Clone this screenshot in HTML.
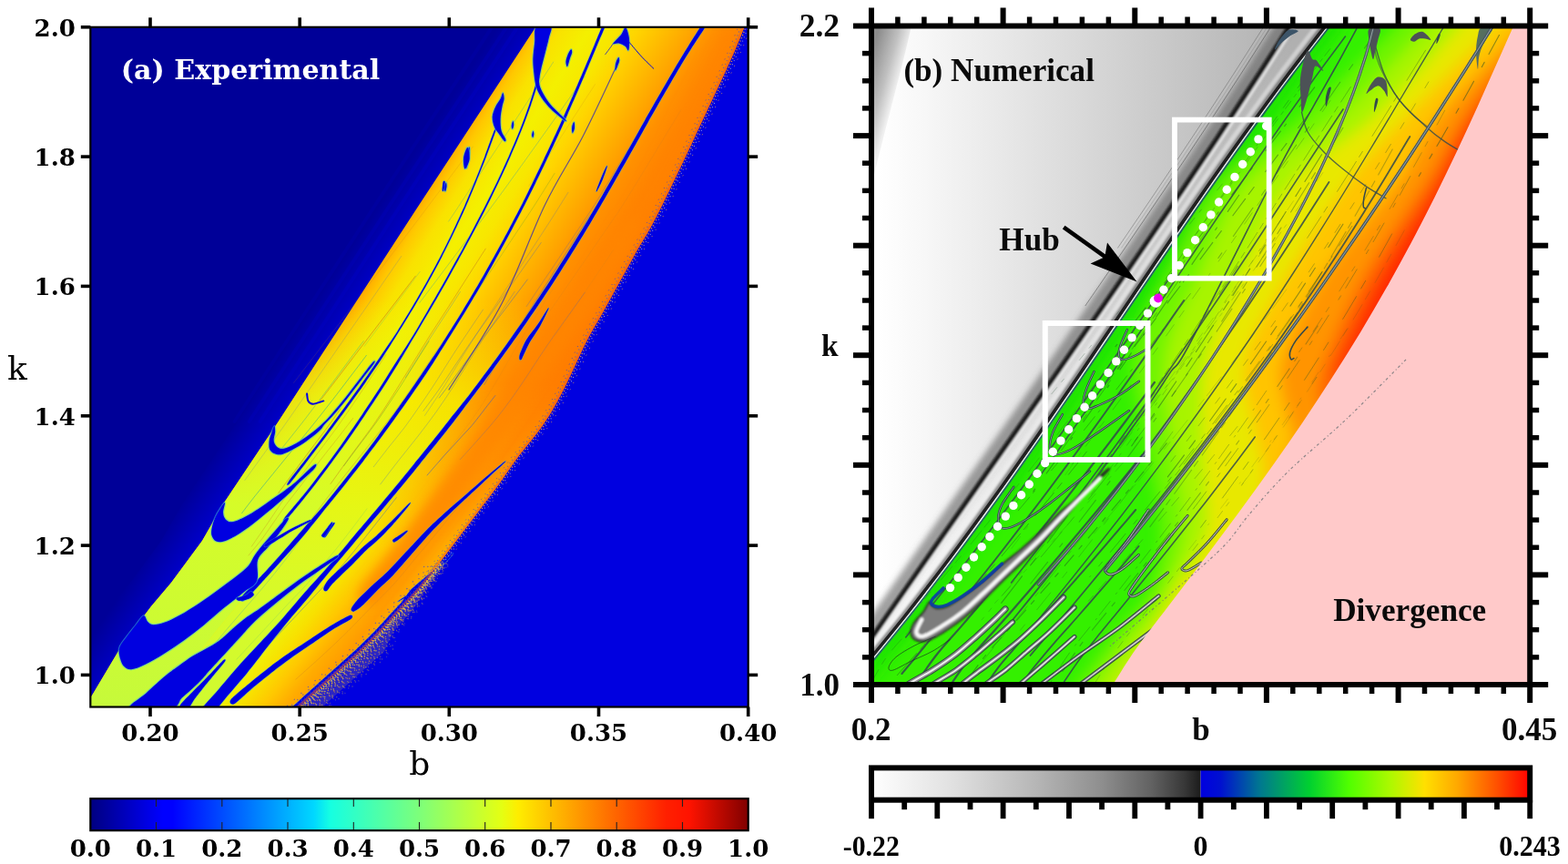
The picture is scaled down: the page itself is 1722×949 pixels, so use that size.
<!DOCTYPE html>
<html lang="en"><head><meta charset="utf-8"><title>Experimental vs Numerical</title>
<style>
html,body{margin:0;padding:0;background:#fff;}
body{width:1722px;height:949px;overflow:hidden;}
svg{display:block;}
text{font-kerning:normal;}
.dj{font-family:"DejaVu Serif","Liberation Serif",serif;font-weight:bold;font-size:26px;fill:#000;}
.djr{font-family:"DejaVu Serif","Liberation Serif",serif;font-weight:normal;font-size:36px;fill:#000;}
.lb{font-family:"Liberation Serif","DejaVu Serif",serif;font-weight:bold;font-size:35px;fill:#0a0a0a;}
.lb2{font-family:"Liberation Serif","DejaVu Serif",serif;font-weight:bold;font-size:32px;fill:#000;}
</style></head>
<body>
<svg width="1722" height="949" viewBox="0 0 1722 949">
<defs>
<linearGradient id="jet" x1="0" x2="1" y1="0" y2="0">
<stop offset="0" stop-color="#000080"/>
<stop offset="0.11" stop-color="#0000ff"/>
<stop offset="0.125" stop-color="#0000ff"/>
<stop offset="0.34" stop-color="#00d8ff"/>
<stop offset="0.365" stop-color="#16ffe1"/>
<stop offset="0.5" stop-color="#7dff7a"/>
<stop offset="0.625" stop-color="#e4ff13"/>
<stop offset="0.65" stop-color="#feed00"/>
<stop offset="0.875" stop-color="#ff2000"/>
<stop offset="0.91" stop-color="#ff1300"/>
<stop offset="1" stop-color="#800000"/>
</linearGradient>
<linearGradient id="gray" x1="0" x2="1" y1="0" y2="0">
<stop offset="0" stop-color="#ffffff"/>
<stop offset="0.25" stop-color="#e0e0e0"/>
<stop offset="0.5" stop-color="#b6b6b6"/>
<stop offset="0.7" stop-color="#8e8e8e"/>
<stop offset="0.85" stop-color="#626262"/>
<stop offset="0.95" stop-color="#383838"/>
<stop offset="1" stop-color="#1c1c1c"/>
</linearGradient>
<linearGradient id="rain" x1="0" x2="1" y1="0" y2="0">
<stop offset="0" stop-color="#0000e0"/>
<stop offset="0.06" stop-color="#0010d0"/>
<stop offset="0.18" stop-color="#007890"/>
<stop offset="0.33" stop-color="#00d030"/>
<stop offset="0.45" stop-color="#50ff00"/>
<stop offset="0.58" stop-color="#b0f800"/>
<stop offset="0.68" stop-color="#ffe000"/>
<stop offset="0.78" stop-color="#ffa800"/>
<stop offset="0.9" stop-color="#ff5000"/>
<stop offset="1" stop-color="#ff0000"/>
</linearGradient>
<clipPath id="lclip"><rect x="99.3" y="29.8" width="722.4" height="746.7"/></clipPath>
<clipPath id="rclip"><rect x="957" y="28.5" width="723.2" height="723.5"/></clipPath>
<!-- left zones -->
<linearGradient id="zl" gradientUnits="userSpaceOnUse" x1="460" y1="226" x2="675" y2="361">
<stop offset="0" stop-color="#ffb000"/>
<stop offset="0.04" stop-color="#ffc800"/>
<stop offset="0.11" stop-color="#f9e200"/>
<stop offset="0.22" stop-color="#f4f000"/>
<stop offset="0.32" stop-color="#f8e600"/>
<stop offset="0.40" stop-color="#ffd400"/>
<stop offset="0.50" stop-color="#ffbc00"/>
<stop offset="0.60" stop-color="#ffa400"/>
<stop offset="0.68" stop-color="#ff9000"/>
<stop offset="0.80" stop-color="#ff8200"/>
<stop offset="1" stop-color="#ff7a00"/>
</linearGradient>
<linearGradient id="zgreen" gradientUnits="userSpaceOnUse" x1="0" y1="330" x2="0" y2="776">
<stop offset="0" stop-color="#e6f814" stop-opacity="0"/>
<stop offset="0.25" stop-color="#e2fa18" stop-opacity="0.7"/>
<stop offset="0.5" stop-color="#d6fc28" stop-opacity="1"/>
<stop offset="1" stop-color="#c6fa3a" stop-opacity="1"/>
</linearGradient>
<linearGradient id="zmid" gradientUnits="userSpaceOnUse" x1="0" y1="330" x2="0" y2="776">
<stop offset="0" stop-color="#f6ec00" stop-opacity="0"/>
<stop offset="0.25" stop-color="#f4f000" stop-opacity="0.8"/>
<stop offset="0.5" stop-color="#e6f614" stop-opacity="1"/>
<stop offset="0.7" stop-color="#d8fa28" stop-opacity="1"/>
<stop offset="1" stop-color="#d0fa30" stop-opacity="1"/>
</linearGradient>
<linearGradient id="zr" gradientUnits="userSpaceOnUse" x1="357" y1="628" x2="431" y2="686">
<stop offset="0" stop-color="#f0f008"/>
<stop offset="0.2" stop-color="#f8e000"/>
<stop offset="0.4" stop-color="#ffc800"/>
<stop offset="0.6" stop-color="#ffac00"/>
<stop offset="0.8" stop-color="#ff9c00"/>
<stop offset="1" stop-color="#ffb400"/>
</linearGradient>
<linearGradient id="zrfade" gradientUnits="userSpaceOnUse" x1="0" y1="420" x2="0" y2="600">
<stop offset="0" stop-color="#fff" stop-opacity="0"/>
<stop offset="1" stop-color="#fff" stop-opacity="1"/>
</linearGradient>
<mask id="zrmask" maskUnits="userSpaceOnUse" x="90" y="20" width="740" height="770">
<rect x="90" y="20" width="740" height="770" fill="url(#zrfade)"/>
</mask>
<linearGradient id="lstrip" gradientUnits="userSpaceOnUse" x1="300" y1="400" x2="345" y2="430">
<stop offset="0" stop-color="#0000d8" stop-opacity="0"/>
<stop offset="1" stop-color="#0000d8" stop-opacity="1"/>
</linearGradient>
<filter id="blur3" x="-10%" y="-10%" width="120%" height="120%"><feGaussianBlur stdDeviation="3"/></filter>
<filter id="blur6" x="-10%" y="-10%" width="120%" height="120%"><feGaussianBlur stdDeviation="6"/></filter>
<!-- right -->
<filter id="blur8" filterUnits="userSpaceOnUse" x="900" y="-30" width="860" height="840"><feGaussianBlur stdDeviation="8"/></filter>
<filter id="blur1" x="-10%" y="-10%" width="120%" height="120%"><feGaussianBlur stdDeviation="1.2"/></filter>
<linearGradient id="rbg" gradientUnits="userSpaceOnUse" x1="965" y1="0" x2="1420" y2="0">
<stop offset="0" stop-color="#ffffff"/>
<stop offset="0.1" stop-color="#f8f8f8"/>
<stop offset="0.3" stop-color="#e8e8e8"/>
<stop offset="0.5" stop-color="#d8d8d8"/>
<stop offset="0.7" stop-color="#c8c8c8"/>
<stop offset="0.85" stop-color="#bcbcbc"/>
<stop offset="1" stop-color="#b0b0b0"/>
</linearGradient>
<linearGradient id="rwedge" gradientUnits="userSpaceOnUse" x1="957" y1="60" x2="992" y2="70">
<stop offset="0" stop-color="#8c8c8c"/>
<stop offset="0.6" stop-color="#c0c0c0"/>
<stop offset="1" stop-color="#f0f0f0"/>
</linearGradient>
<linearGradient id="rband" gradientUnits="userSpaceOnUse" x1="1308" y1="235" x2="1480.8" y2="355.9">
<stop offset="0" stop-color="#18e400"/>
<stop offset="0.05" stop-color="#30f000"/>
<stop offset="0.15" stop-color="#50f400"/>
<stop offset="0.3" stop-color="#90f400"/>
<stop offset="0.45" stop-color="#c8f000"/>
<stop offset="0.56" stop-color="#f0e800"/>
<stop offset="0.66" stop-color="#ffc800"/>
<stop offset="0.78" stop-color="#ff9800"/>
<stop offset="0.88" stop-color="#ff6000"/>
<stop offset="0.96" stop-color="#ff2800"/>
<stop offset="1" stop-color="#ff2000"/>
</linearGradient>
<linearGradient id="rband2" gradientUnits="userSpaceOnUse" x1="1018" y1="650" x2="1196" y2="783">
<stop offset="0" stop-color="#20e800"/>
<stop offset="0.08" stop-color="#38f000"/>
<stop offset="0.78" stop-color="#50f000"/>
<stop offset="0.9" stop-color="#98f400"/>
<stop offset="1" stop-color="#dcec00"/>
</linearGradient>
<linearGradient id="rbfade" gradientUnits="userSpaceOnUse" x1="0" y1="360" x2="0" y2="620">
<stop offset="0" stop-color="#fff" stop-opacity="0"/>
<stop offset="1" stop-color="#fff" stop-opacity="1"/>
</linearGradient>
<mask id="rbmask" maskUnits="userSpaceOnUse" x="940" y="10" width="770" height="760">
<rect x="940" y="10" width="770" height="760" fill="url(#rbfade)"/>
</mask>
</defs>

<g id="left-map" clip-path="url(#lclip)">
<rect x="99.3" y="29.8" width="722.4000000000001" height="746.7" fill="#000098"/>
<path d="M550.5,19.0 L543.8,29.0 L412.0,230.0 L325.0,364.0 L308.0,390.0 L260.7,463.0 L234.6,502.0 L200.5,553.0 L177.0,594.0 L143.0,640.0 L121.0,666.0 L88.7,709.0 L56.5,763.0 L47.0,778.0 L95.0,778.0 L104.5,763.0 L136.7,709.0 L169.0,666.0 L191.0,640.0 L225.0,594.0 L248.5,553.0 L282.6,502.0 L308.7,463.0 L356.0,390.0 L373.0,364.0 L460.0,230.0 L591.8,29.0 L598.5,19.0Z" fill="url(#lstrip)"/>
<path d="M595.5,19.0 L588.8,29.0 L457.0,230.0 L370.0,364.0 L353.0,390.0 L305.7,463.0 L279.6,502.0 L245.5,553.0 L222.0,594.0 L188.0,640.0 L166.0,666.0 L133.7,709.0 L101.5,763.0 L92.0,778.0 L318.0,790.0 L830.0,790.0 L830.0,19.0Z" fill="url(#zl)"/>
<path d="M595.5,19.0 L588.8,29.0 L457.0,230.0 L370.0,364.0 L353.0,390.0 L305.7,463.0 L279.6,502.0 L245.5,553.0 L222.0,594.0 L188.0,640.0 L166.0,666.0 L133.7,709.0 L101.5,763.0 L92.0,778.0 L160.0,790.0 L200.0,740.0 L240.0,690.0 L267.2,657.3 L291.0,632.0 L313.9,606.6 L336.0,581.3 L357.2,556.0 L377.7,530.6 L397.5,505.3 L416.6,480.0 L435.0,454.6 L452.8,429.3 L470.0,404.0 L486.5,378.6 L502.4,353.3 L517.8,328.0 L532.6,302.7 L546.8,277.3 L560.5,252.0 L573.7,226.7 L586.3,201.3 L598.5,176.0 L610.3,150.7 L621.8,125.3 L632.9,100.0 L643.7,74.7 L654.4,49.3 L665.0,24.0Z" fill="url(#zgreen)"/>
<path d="M665.0,24.0 L654.4,49.3 L643.7,74.7 L632.9,100.0 L621.8,125.3 L610.3,150.7 L598.5,176.0 L586.3,201.3 L573.7,226.7 L560.5,252.0 L546.8,277.3 L532.6,302.7 L517.8,328.0 L502.4,353.3 L486.5,378.6 L470.0,404.0 L452.8,429.3 L435.0,454.6 L416.6,480.0 L397.5,505.3 L377.7,530.6 L357.2,556.0 L336.0,581.3 L313.9,606.6 L291.0,632.0 L267.2,657.3 L240.0,690.0 L200.0,740.0 L160.0,790.0 L220.0,790.0 L220.2,790.0 L243.4,762.6 L266.7,735.3 L290.1,707.9 L313.5,680.6 L337.0,653.2 L360.4,625.9 L383.8,598.5 L406.9,571.1 L429.8,543.8 L452.4,516.4 L474.5,489.1 L496.2,461.7 L517.4,434.4 L537.9,407.0 L557.8,379.6 L577.0,352.3 L595.6,324.9 L613.4,297.6 L630.6,270.2 L647.2,242.9 L663.3,215.5 L679.0,188.1 L694.5,160.8 L709.8,133.4 L725.4,106.1 L741.3,78.7 L757.9,51.4 L775.6,24.0Z" fill="url(#zmid)"/>
<path d="M775.6,24.0 L757.9,51.4 L741.3,78.7 L725.4,106.1 L709.8,133.4 L694.5,160.8 L679.0,188.1 L663.3,215.5 L647.2,242.9 L630.6,270.2 L613.4,297.6 L595.6,324.9 L577.0,352.3 L557.8,379.6 L537.9,407.0 L517.4,434.4 L496.2,461.7 L474.5,489.1 L452.4,516.4 L429.8,543.8 L406.9,571.1 L383.8,598.5 L360.4,625.9 L337.0,653.2 L313.5,680.6 L290.1,707.9 L266.7,735.3 L243.4,762.6 L220.2,790.0 L318.0,790.0 L830.0,790.0 L830.0,19.0Z" fill="url(#zr)" mask="url(#zrmask)"/>
<g filter="url(#blur6)">
<path d="M690.0,250.0C681.7,263.3 656.7,305.0 640.0,330.0C623.3,355.0 607.3,375.0 590.0,400.0C572.7,425.0 552.7,455.8 536.0,480.0C519.3,504.2 504.3,525.0 490.0,545.0C475.7,565.0 463.8,582.2 450.0,600.0C436.2,617.8 414.2,643.3 407.0,652.0" fill="none" stroke="#ff8600" stroke-width="26" stroke-opacity="0.75" stroke-linecap="round"/>
<path d="M800.0,40.0C793.3,53.3 772.5,95.0 760.0,120.0C747.5,145.0 736.7,168.3 725.0,190.0C713.3,211.7 695.8,240.0 690.0,250.0" fill="none" stroke="#ff8400" stroke-width="22" stroke-opacity="0.5" stroke-linecap="round"/>
</g>
<path d="M495.5,362.3C491.9,367.4 481.3,382.8 474.3,393.1C467.4,403.3 460.8,413.6 453.7,423.9C446.6,434.1 439.5,444.4 431.9,454.7C424.2,464.9 416.0,475.2 407.9,485.5C399.8,495.7 391.5,506.0 383.4,516.3C375.3,526.5 367.0,536.8 359.2,547.0C351.3,557.3 344.0,567.6 336.2,577.8C328.3,588.1 316.1,603.5 312.0,608.6" fill="none" stroke="#c07820" stroke-width="1.0" stroke-opacity="0.3569706093922116" stroke-linecap="round"/>
<path d="M607.5,316.9C604.9,320.9 597.5,332.8 592.4,340.7C587.4,348.7 582.2,356.6 577.3,364.5C572.4,372.5 567.5,380.4 562.8,388.4C558.1,396.3 553.7,404.2 549.1,412.2C544.4,420.1 539.8,428.0 534.8,436.0C529.8,443.9 524.8,451.9 519.2,459.8C513.5,467.7 507.1,475.7 500.9,483.6C494.7,491.5 485.2,503.5 482.1,507.4" fill="none" stroke="#d08020" stroke-width="0.6" stroke-opacity="0.32720116124755183" stroke-linecap="round"/>
<path d="M543.9,434.5C542.5,436.3 538.2,441.8 535.4,445.4C532.6,449.0 529.8,452.7 527.0,456.3C524.1,460.0 521.4,463.6 518.3,467.3C515.2,470.9 511.6,474.6 508.2,478.2C504.9,481.9 501.5,485.5 498.2,489.2C494.8,492.8 491.4,496.5 488.1,500.1C484.8,503.8 481.7,507.4 478.5,511.1C475.4,514.7 470.7,520.2 469.1,522.0" fill="none" stroke="#3050d0" stroke-width="1.0" stroke-opacity="0.4846688113735712" stroke-linecap="round"/>
<path d="M607.7,68.1C605.3,71.7 598.2,82.7 593.5,90.0C588.7,97.3 583.9,104.6 579.2,111.9C574.4,119.2 569.6,126.5 564.8,133.8C560.0,141.1 555.3,148.4 550.5,155.7C545.7,163.0 540.9,170.2 536.1,177.5C531.3,184.8 526.5,192.1 521.7,199.4C516.9,206.7 512.1,214.0 507.2,221.3C502.4,228.6 495.1,239.6 492.6,243.2" fill="none" stroke="#2090c0" stroke-width="0.6" stroke-opacity="0.4798854254858551" stroke-linecap="round"/>
<path d="M648.1,236.2C645.6,240.1 638.2,251.7 633.3,259.5C628.3,267.3 623.4,275.0 618.5,282.8C613.6,290.6 608.6,298.3 603.7,306.1C598.8,313.9 593.9,321.6 588.9,329.4C584.0,337.2 579.0,344.9 574.1,352.7C569.1,360.4 563.9,368.2 559.1,376.0C554.3,383.7 550.0,391.5 545.4,399.3C540.9,407.0 534.1,418.7 531.8,422.6" fill="none" stroke="#3050d0" stroke-width="0.8" stroke-opacity="0.4499319456620375" stroke-linecap="round"/>
<path d="M579.3,307.0C577.3,309.7 571.2,317.8 567.1,323.2C563.0,328.6 558.9,334.1 554.8,339.5C550.7,344.9 546.5,350.3 542.4,355.7C538.3,361.2 534.0,366.6 530.0,372.0C525.9,377.4 522.0,382.8 518.1,388.3C514.1,393.7 510.2,399.1 506.3,404.5C502.4,409.9 498.6,415.3 494.6,420.8C490.6,426.2 484.4,434.3 482.3,437.0" fill="none" stroke="#1a50e0" stroke-width="1.0" stroke-opacity="0.37619842286842436" stroke-linecap="round"/>
<path d="M584.8,337.0C583.6,338.7 579.9,344.1 577.4,347.6C575.0,351.2 572.5,354.7 570.0,358.3C567.6,361.9 565.1,365.4 562.6,369.0C560.2,372.5 557.8,376.1 555.4,379.6C553.1,383.2 550.9,386.7 548.6,390.3C546.3,393.9 544.0,397.4 541.8,401.0C539.5,404.5 537.2,408.1 534.9,411.6C532.7,415.2 529.2,420.5 528.1,422.3" fill="none" stroke="#d08020" stroke-width="0.6" stroke-opacity="0.5539750865643536" stroke-linecap="round"/>
<path d="M340.6,577.3C337.6,581.5 329.2,593.9 323.0,602.2C316.9,610.5 310.5,618.7 303.8,627.0C297.2,635.3 290.3,643.6 283.3,651.8C276.2,660.1 268.7,668.4 261.6,676.7C254.4,684.9 247.4,693.2 240.5,701.5C233.6,709.8 226.9,718.1 220.1,726.3C213.3,734.6 206.6,742.9 199.9,751.2C193.1,759.4 182.9,771.9 179.6,776.0" fill="none" stroke="#2090c0" stroke-width="0.6" stroke-opacity="0.4409961828040999" stroke-linecap="round"/>
<path d="M673.6,274.6C672.3,276.5 668.3,282.4 665.7,286.3C663.1,290.1 660.5,294.0 657.9,297.9C655.2,301.8 652.6,305.7 650.0,309.5C647.4,313.4 644.7,317.3 642.1,321.2C639.5,325.1 636.8,328.9 634.2,332.8C631.6,336.7 628.9,340.6 626.3,344.5C623.6,348.4 620.9,352.2 618.3,356.1C615.6,360.0 611.6,365.8 610.3,367.8" fill="none" stroke="#d08020" stroke-width="0.6" stroke-opacity="0.3933628886921382" stroke-linecap="round"/>
<path d="M440.8,281.4C437.3,286.6 426.7,301.9 419.6,312.2C412.6,322.4 405.5,332.7 398.4,343.0C391.3,353.2 384.2,363.5 377.1,373.7C370.0,384.0 362.9,394.2 355.8,404.5C348.7,414.7 341.7,425.0 334.6,435.2C327.5,445.5 320.4,455.8 313.2,466.0C305.9,476.3 298.4,486.5 291.0,496.8C283.6,507.0 272.6,522.4 268.9,527.5" fill="none" stroke="#1a50e0" stroke-width="0.6" stroke-opacity="0.317968020882323" stroke-linecap="round"/>
<path d="M694.8,155.9C692.6,159.7 685.7,171.0 681.2,178.5C676.6,186.1 672.1,193.6 667.5,201.1C662.9,208.6 658.5,216.2 653.7,223.7C648.9,231.2 643.8,238.8 638.8,246.3C633.7,253.8 628.7,261.3 623.6,268.9C618.6,276.4 613.5,283.9 608.5,291.5C603.4,299.0 598.4,306.5 593.3,314.0C588.3,321.6 580.7,332.9 578.2,336.6" fill="none" stroke="#3050d0" stroke-width="0.6" stroke-opacity="0.4257691487156937" stroke-linecap="round"/>
<path d="M533.3,273.2C529.8,278.6 519.5,294.7 512.6,305.5C505.8,316.3 498.9,327.0 492.0,337.8C485.1,348.5 478.0,359.3 471.2,370.0C464.4,380.8 457.8,391.6 451.2,402.3C444.5,413.1 438.0,423.8 431.2,434.6C424.3,445.4 417.5,456.1 410.0,466.9C402.5,477.6 394.0,488.4 386.2,499.2C378.3,509.9 367.0,526.1 363.1,531.4" fill="none" stroke="#c07820" stroke-width="0.8" stroke-opacity="0.5993711156059767" stroke-linecap="round"/>
<path d="M519.3,161.1C515.2,166.5 503.1,182.8 495.0,193.6C486.9,204.4 478.8,215.2 470.6,226.0C462.5,236.8 454.3,247.6 446.2,258.4C438.0,269.2 429.9,280.0 421.7,290.8C413.5,301.6 405.3,312.4 397.1,323.2C388.9,334.0 380.7,344.8 372.4,355.6C364.2,366.4 355.8,377.2 347.5,388.0C339.2,398.8 326.8,415.0 322.6,420.4" fill="none" stroke="#c07820" stroke-width="0.6" stroke-opacity="0.3126323461293467" stroke-linecap="round"/>
<path d="M461.2,298.4C459.9,300.1 456.1,305.2 453.6,308.6C451.1,312.1 448.5,315.5 446.0,318.9C443.5,322.3 440.9,325.7 438.4,329.1C435.9,332.5 433.3,335.9 430.8,339.3C428.2,342.7 425.7,346.1 423.1,349.5C420.6,352.9 418.0,356.3 415.5,359.7C412.9,363.1 410.4,366.5 407.8,369.9C405.3,373.3 401.4,378.5 400.2,380.2" fill="none" stroke="#38a890" stroke-width="0.8" stroke-opacity="0.32201956601652726" stroke-linecap="round"/>
<path d="M399.2,374.7C397.2,377.3 391.5,385.0 387.6,390.1C383.8,395.3 380.0,400.5 376.1,405.6C372.3,410.8 368.5,415.9 364.6,421.1C360.8,426.2 356.9,431.4 353.0,436.5C349.1,441.7 345.2,446.9 341.3,452.0C337.4,457.2 333.5,462.3 329.4,467.5C325.4,472.6 321.2,477.8 317.1,483.0C313.0,488.1 306.9,495.8 304.8,498.4" fill="none" stroke="#38a890" stroke-width="1.0" stroke-opacity="0.4359624314171547" stroke-linecap="round"/>
<path d="M642.3,321.2C639.6,325.0 631.4,336.5 626.0,344.1C620.5,351.8 614.8,359.4 609.5,367.1C604.1,374.7 598.9,382.4 593.8,390.0C588.7,397.6 583.9,405.3 578.8,412.9C573.7,420.6 568.6,428.2 563.1,435.9C557.6,443.5 552.1,451.1 545.9,458.8C539.7,466.4 532.9,474.1 526.1,481.7C519.4,489.3 508.9,500.8 505.4,504.6" fill="none" stroke="#3050d0" stroke-width="0.6" stroke-opacity="0.3932433863917523" stroke-linecap="round"/>
<path d="M423.9,389.6C421.0,394.0 412.4,407.2 406.6,416.0C400.7,424.7 394.9,433.5 388.9,442.3C382.9,451.1 377.0,459.8 370.7,468.6C364.4,477.4 357.5,486.2 351.0,494.9C344.5,503.7 338.2,512.5 331.7,521.2C325.3,530.0 318.6,538.8 312.4,547.6C306.2,556.3 300.5,565.1 294.5,573.9C288.5,582.7 279.3,595.8 276.3,600.2" fill="none" stroke="#c07820" stroke-width="0.6" stroke-opacity="0.5060922010618504" stroke-linecap="round"/>
<path d="M505.4,320.6C504.1,322.5 500.3,328.4 497.8,332.3C495.2,336.2 492.7,340.2 490.2,344.1C487.6,348.0 485.1,351.9 482.5,355.9C480.0,359.8 477.4,363.7 474.9,367.6C472.3,371.5 469.8,375.5 467.3,379.4C464.8,383.3 462.4,387.2 460.0,391.2C457.6,395.1 455.1,399.0 452.7,402.9C450.3,406.8 446.6,412.7 445.4,414.7" fill="none" stroke="#1a50e0" stroke-width="0.6" stroke-opacity="0.453706747955117" stroke-linecap="round"/>
<path d="M387.6,459.5C385.2,462.6 378.0,472.0 373.2,478.3C368.3,484.6 363.2,490.9 358.3,497.1C353.4,503.4 348.6,509.7 343.8,515.9C339.0,522.2 334.2,528.5 329.3,534.8C324.5,541.0 319.4,547.3 314.7,553.6C310.1,559.8 305.9,566.1 301.5,572.4C297.1,578.6 293.0,584.9 288.3,591.2C283.5,597.5 275.6,606.9 273.0,610.0" fill="none" stroke="#c07820" stroke-width="0.8" stroke-opacity="0.3880306039454211" stroke-linecap="round"/>
<path d="M374.0,449.0C372.6,450.9 368.7,456.7 365.9,460.5C363.2,464.4 360.3,468.2 357.5,472.1C354.6,475.9 351.7,479.8 348.8,483.6C345.9,487.5 343.0,491.3 340.1,495.2C337.2,499.0 334.3,502.9 331.5,506.7C328.6,510.6 325.8,514.4 323.0,518.3C320.1,522.1 317.3,526.0 314.4,529.8C311.6,533.7 307.3,539.4 305.8,541.4" fill="none" stroke="#c07820" stroke-width="1.0" stroke-opacity="0.5557199626025644" stroke-linecap="round"/>
<path d="M624.0,211.3C620.7,216.4 611.3,231.7 604.7,242.0C598.2,252.2 591.4,262.4 584.8,272.6C578.2,282.8 571.5,293.0 564.9,303.2C558.3,313.5 551.7,323.7 545.0,333.9C538.3,344.1 531.5,354.3 524.9,364.5C518.4,374.7 512.0,384.9 505.6,395.2C499.3,405.4 493.4,415.6 486.8,425.8C480.3,436.0 469.9,451.3 466.5,456.4" fill="none" stroke="#1a50e0" stroke-width="0.6" stroke-opacity="0.3807581784086523" stroke-linecap="round"/>
<path d="M653.5,92.6C652.0,95.0 647.5,102.0 644.4,106.6C641.4,111.3 638.4,115.9 635.4,120.6C632.4,125.2 629.4,129.9 626.4,134.5C623.3,139.2 620.3,143.9 617.3,148.5C614.2,153.2 611.2,157.8 608.2,162.5C605.1,167.1 602.1,171.8 599.1,176.4C596.0,181.1 593.0,185.8 589.9,190.4C586.9,195.1 582.3,202.0 580.8,204.4" fill="none" stroke="#c07820" stroke-width="0.6" stroke-opacity="0.32765763706448336" stroke-linecap="round"/>
<path d="M456.3,303.2C454.1,306.1 447.4,314.8 443.0,320.6C438.6,326.4 434.1,332.3 429.7,338.1C425.3,343.9 420.8,349.7 416.3,355.5C411.9,361.3 407.4,367.2 402.9,373.0C398.5,378.8 394.0,384.6 389.6,390.4C385.2,396.2 380.8,402.1 376.3,407.9C371.9,413.7 367.5,419.5 363.0,425.3C358.6,431.1 351.8,439.9 349.5,442.8" fill="none" stroke="#c07820" stroke-width="1.0" stroke-opacity="0.5840562950231445" stroke-linecap="round"/>
<path d="M403.0,558.7C400.4,562.2 392.7,572.5 387.5,579.4C382.2,586.3 377.0,593.2 371.5,600.1C365.9,607.0 360.0,613.9 354.3,620.8C348.6,627.7 343.4,634.6 337.2,641.5C331.1,648.4 323.9,655.3 317.4,662.2C310.9,669.0 304.7,675.9 298.3,682.8C291.9,689.7 285.5,696.6 279.1,703.5C272.7,710.4 263.1,720.8 259.9,724.2" fill="none" stroke="#38a890" stroke-width="0.6" stroke-opacity="0.3063777534627304" stroke-linecap="round"/>
<path d="M565.1,320.4C562.2,324.8 553.4,338.0 547.6,346.8C541.7,355.7 535.6,364.5 529.9,373.3C524.2,382.1 518.8,390.9 513.3,399.7C507.7,408.5 502.5,417.3 496.8,426.2C491.0,435.0 485.1,443.8 478.9,452.6C472.6,461.4 465.9,470.2 459.1,479.0C452.3,487.8 444.9,496.6 438.0,505.5C431.1,514.3 421.1,527.5 417.8,531.9" fill="none" stroke="#1a50e0" stroke-width="0.6" stroke-opacity="0.4359272283600912" stroke-linecap="round"/>
<path d="M642.1,84.0C638.4,89.2 627.5,104.7 620.2,115.1C612.9,125.4 605.5,135.8 598.2,146.1C590.8,156.5 583.4,166.9 576.0,177.2C568.5,187.6 561.1,197.9 553.6,208.3C546.1,218.6 538.5,229.0 530.8,239.3C523.1,249.7 515.3,260.0 507.5,270.4C499.8,280.8 492.0,291.1 484.2,301.5C476.4,311.8 464.7,327.4 460.8,332.5" fill="none" stroke="#2090c0" stroke-width="0.8" stroke-opacity="0.4055502289941761" stroke-linecap="round"/>
<path d="M435.4,546.5C431.6,551.2 420.4,565.6 412.9,575.1C405.3,584.7 397.9,594.3 390.1,603.8C382.2,613.4 374.5,623.0 366.1,632.5C357.6,642.1 348.3,651.7 339.4,661.2C330.4,670.8 321.5,680.4 312.4,689.9C303.3,699.5 294.1,709.0 284.8,718.6C275.5,728.2 266.0,737.7 256.7,747.3C247.3,756.9 233.4,771.2 228.8,776.0" fill="none" stroke="#1a50e0" stroke-width="0.8" stroke-opacity="0.4718422495153528" stroke-linecap="round"/>
<path d="M594.3,266.5C591.6,270.3 583.5,281.9 578.1,289.6C572.7,297.3 567.3,305.0 561.8,312.7C556.4,320.4 551.0,328.1 545.5,335.8C540.1,343.5 534.5,351.2 529.1,358.9C523.6,366.6 518.1,374.3 512.8,382.0C507.5,389.7 502.5,397.4 497.3,405.1C492.1,412.8 487.2,420.5 481.8,428.2C476.4,435.9 467.7,447.5 464.9,451.3" fill="none" stroke="#1a50e0" stroke-width="0.6" stroke-opacity="0.49182129379119055" stroke-linecap="round"/>
<path d="M520.8,535.1C517.2,539.5 506.2,552.7 499.0,561.5C491.8,570.3 484.7,579.1 477.5,587.9C470.2,596.7 462.8,605.4 455.4,614.2C448.1,623.0 441.4,631.8 433.4,640.6C425.4,649.4 416.1,658.2 407.5,667.0C399.0,675.8 390.8,684.6 382.0,693.4C373.1,702.2 363.8,711.0 354.2,719.8C344.7,728.6 329.7,741.8 324.8,746.2" fill="none" stroke="#d08020" stroke-width="0.8" stroke-opacity="0.4387866694592759" stroke-linecap="round"/>
<path d="M530.5,340.1C528.1,343.7 520.8,354.5 516.0,361.7C511.1,368.9 506.3,376.1 501.6,383.3C497.0,390.4 492.5,397.6 487.9,404.8C483.4,412.0 479.0,419.2 474.2,426.4C469.5,433.6 464.5,440.8 459.5,448.0C454.5,455.2 449.6,462.4 444.2,469.6C438.8,476.8 432.7,483.9 427.0,491.1C421.4,498.3 413.1,509.1 410.3,512.7" fill="none" stroke="#1a50e0" stroke-width="0.8" stroke-opacity="0.3066871990938968" stroke-linecap="round"/>
<path d="M747.7,121.0C744.9,125.5 736.6,139.3 731.0,148.5C725.5,157.7 719.9,166.9 714.3,176.1C708.7,185.2 703.1,194.4 697.4,203.6C691.7,212.8 686.1,222.0 680.1,231.2C674.0,240.3 667.5,249.5 661.1,258.7C654.8,267.9 648.5,277.1 642.2,286.3C635.8,295.4 629.5,304.6 623.2,313.8C616.9,323.0 607.3,336.8 604.1,341.3" fill="none" stroke="#d08020" stroke-width="0.6" stroke-opacity="0.4103854052000477" stroke-linecap="round"/>
<path d="M402.4,390.3C399.7,394.0 391.5,404.8 386.0,412.0C380.5,419.2 375.1,426.5 369.5,433.7C364.0,440.9 358.4,448.1 352.7,455.3C347.0,462.6 341.1,469.8 335.3,477.0C329.4,484.2 323.4,491.4 317.5,498.7C311.6,505.9 305.7,513.1 299.9,520.3C294.0,527.6 288.0,534.8 282.3,542.0C276.5,549.2 268.3,560.0 265.6,563.7" fill="none" stroke="#38a890" stroke-width="1.0" stroke-opacity="0.579090429340152" stroke-linecap="round"/>
<path d="M609.1,190.4C607.1,193.6 601.1,203.1 597.1,209.5C593.1,215.9 589.2,222.2 585.0,228.6C580.9,235.0 576.5,241.4 572.3,247.7C568.1,254.1 563.8,260.5 559.6,266.8C555.3,273.2 551.1,279.6 546.8,285.9C542.6,292.3 538.3,298.7 534.1,305.0C529.9,311.4 525.6,317.8 521.4,324.2C517.1,330.5 510.7,340.1 508.6,343.3" fill="none" stroke="#6a9a30" stroke-width="0.6" stroke-opacity="0.5640806754250585" stroke-linecap="round"/>
<path d="M471.1,374.9C469.3,377.7 463.8,386.3 460.2,392.0C456.6,397.7 453.0,403.4 449.4,409.1C445.8,414.8 442.3,420.5 438.6,426.2C434.9,431.9 431.1,437.7 427.2,443.4C423.4,449.1 419.7,454.8 415.7,460.5C411.7,466.2 407.4,471.9 403.2,477.6C398.9,483.3 394.5,489.0 390.2,494.7C385.9,500.4 379.6,509.0 377.5,511.8" fill="none" stroke="#6a9a30" stroke-width="0.8" stroke-opacity="0.5511286852411619" stroke-linecap="round"/>
<path d="M823.0,19.0C822.2,20.7 822.2,19.5 818.0,29.0C813.8,38.5 813.2,43.2 798.0,76.0C782.8,108.8 743.8,192.0 727.0,226.0C710.2,260.0 707.3,261.3 697.0,280.0C686.7,298.7 673.9,321.9 665.0,338.0C656.1,354.1 651.3,361.2 643.5,376.5C635.7,391.8 625.8,415.1 618.0,430.0C610.2,444.9 605.2,454.0 597.0,466.0C588.8,478.0 577.1,491.2 569.0,502.0C560.9,512.8 555.6,521.3 548.6,531.0C541.6,540.7 534.1,550.3 526.8,560.0C519.5,569.7 512.3,579.3 505.0,589.0C497.7,598.7 489.7,609.1 483.0,618.0C476.3,626.9 471.9,633.7 464.6,642.4C457.3,651.1 446.9,661.7 439.0,670.3C431.1,678.9 424.7,686.5 417.5,694.0C410.3,701.5 403.2,708.7 396.0,715.5C388.8,722.3 381.7,728.4 374.5,734.8C367.3,741.2 360.2,747.5 353.0,754.0C345.8,760.5 337.3,768.2 331.5,773.5C325.7,778.8 320.2,783.9 318.0,786.0 L830,790 L830,19 Z" fill="#0000e0"/>
<path d="M773.9,22.9C771.1,26.3 760.8,43.0 756.2,50.3C751.6,57.6 743.9,70.4 739.6,77.7C735.2,85.0 727.9,97.8 723.7,105.1C719.5,112.4 712.2,125.1 708.1,132.4C703.9,139.7 696.9,152.5 692.8,159.8C688.7,167.1 681.4,179.8 677.3,187.1C673.1,194.4 665.8,207.2 661.6,214.5C657.3,221.8 649.8,234.6 645.5,241.9C641.1,249.2 633.4,261.9 628.9,269.1C624.4,276.4 616.4,289.2 611.7,296.5C607.1,303.8 598.8,316.5 593.9,323.8C589.1,331.1 580.4,343.9 575.4,351.2C570.3,358.4 561.4,371.2 556.2,378.4C551.0,385.7 541.7,398.5 536.3,405.8C530.9,413.1 521.4,425.9 515.8,433.2C510.2,440.4 500.1,453.0 494.3,460.2C488.6,467.5 478.5,480.3 472.6,487.6C466.8,494.9 456.5,507.6 450.5,514.9C444.6,522.2 434.0,535.0 428.0,542.3C421.9,549.6 411.2,562.3 405.1,569.6C398.9,576.8 388.2,589.6 382.0,596.9C375.8,604.3 364.9,617.1 358.6,624.3C352.3,631.6 340.9,643.9 334.5,651.1C328.2,658.3 317.4,671.3 311.0,678.5C304.7,685.7 293.2,697.9 286.7,705.0C280.2,712.0 268.5,724.2 262.1,731.4C255.8,738.6 245.0,751.4 238.8,758.7C232.6,766.0 217.5,781.4 215.6,786.1C213.7,790.8 220.5,796.5 224.8,793.9C229.1,791.3 241.8,773.8 248.0,766.5C254.2,759.2 265.2,746.6 271.3,739.2C277.3,731.8 287.6,718.4 293.5,710.8C299.5,703.3 309.8,690.1 316.0,682.7C322.1,675.3 333.3,662.7 339.5,655.3C345.6,647.9 356.1,634.8 362.2,627.5C368.4,620.1 379.4,607.4 385.6,600.1C391.8,592.7 402.6,579.9 408.7,572.6C414.9,565.3 425.6,552.6 431.6,545.3C437.7,538.0 448.3,525.2 454.3,517.9C460.2,510.6 470.5,497.9 476.4,490.6C482.2,483.3 492.4,470.5 498.1,463.2C503.8,455.8 513.5,442.9 519.0,435.6C524.5,428.3 534.1,415.5 539.5,408.2C544.9,400.9 554.2,388.1 559.4,380.8C564.6,373.5 573.6,360.7 578.6,353.4C583.7,346.1 592.4,333.3 597.3,326.0C602.1,318.7 610.4,306.0 615.1,298.7C619.8,291.4 627.8,278.6 632.3,271.3C636.8,264.0 644.6,251.2 648.9,243.9C653.3,236.6 660.8,223.8 665.0,216.5C669.3,209.2 676.6,196.4 680.7,189.1C684.9,181.8 692.1,169.1 696.2,161.8C700.3,154.5 707.4,141.7 711.5,134.4C715.7,127.1 722.9,114.4 727.1,107.1C731.3,99.8 738.7,87.0 743.0,79.7C747.3,72.4 755.0,59.7 759.6,52.5C764.2,45.2 775.4,29.0 777.3,25.1C779.2,21.1 776.7,19.5 773.9,22.9Z" fill="#0000e0" stroke="#38b8d8" stroke-width="1.4" stroke-opacity="0.45" paint-order="stroke"/>
<path d="M663.7,23.5C662.0,26.7 655.9,42.0 653.1,48.8C650.3,55.5 645.3,67.4 642.4,74.2C639.5,80.9 634.5,92.7 631.6,99.4C628.7,106.2 623.5,118.0 620.5,124.7C617.5,131.5 612.1,143.4 609.0,150.1C605.9,156.9 600.4,168.7 597.2,175.4C594.0,182.1 588.3,193.9 585.0,200.7C581.7,207.4 575.9,219.3 572.5,226.1C569.0,232.8 562.8,244.6 559.3,251.3C555.7,258.1 549.3,269.9 545.6,276.6C541.9,283.4 535.2,295.3 531.4,302.0C527.5,308.8 520.6,320.5 516.6,327.3C512.6,334.0 505.4,345.8 501.2,352.6C497.0,359.3 489.7,371.1 485.3,377.8C481.0,384.6 473.0,396.3 468.5,403.0C464.0,409.7 456.0,421.5 451.3,428.3C446.7,435.0 438.4,446.8 433.5,453.6C428.7,460.3 420.1,472.2 415.2,478.9C410.2,485.7 401.3,497.5 396.1,504.2C390.9,510.9 381.7,522.7 376.3,529.5C370.9,536.2 361.4,548.2 355.8,554.9C350.2,561.5 339.9,573.0 334.1,579.7C328.3,586.4 318.0,598.2 312.0,604.9C306.0,611.7 295.4,623.6 289.2,630.3C282.9,637.1 268.1,651.8 265.4,655.6C262.7,659.4 265.4,661.9 269.0,659.0C272.7,656.1 286.6,640.5 292.8,633.7C299.1,626.9 309.8,615.0 315.8,608.3C321.8,601.5 332.2,589.7 337.9,582.9C343.6,576.1 353.1,564.0 358.6,557.1C364.1,550.3 373.7,538.5 379.1,531.7C384.5,525.0 393.7,513.2 398.9,506.4C404.1,499.6 413.0,487.8 418.0,481.1C423.1,474.3 431.6,462.4 436.5,455.6C441.3,448.9 449.6,437.1 454.3,430.3C459.0,423.6 467.0,411.8 471.5,405.0C476.0,398.2 483.4,386.1 487.7,379.4C492.0,372.6 499.4,360.8 503.6,354.0C507.8,347.3 515.0,335.5 519.0,328.7C523.0,322.0 529.9,310.2 533.8,303.4C537.7,296.6 544.3,284.7 548.0,278.0C551.7,271.2 558.1,259.4 561.7,252.7C565.3,245.9 571.5,234.1 574.9,227.3C578.4,220.6 584.2,208.7 587.6,201.9C590.9,195.2 596.6,183.4 599.8,176.6C603.0,169.8 608.5,158.0 611.6,151.3C614.7,144.5 620.1,132.6 623.1,125.9C626.1,119.1 631.3,107.3 634.2,100.6C637.1,93.8 642.1,82.0 645.0,75.2C647.9,68.5 652.9,56.6 655.7,49.8C658.5,43.1 665.2,28.1 666.3,24.5C667.4,21.0 665.5,20.2 663.7,23.5Z" fill="#0000e0" stroke="#38b8d8" stroke-width="1.4" stroke-opacity="0.45" paint-order="stroke"/>
<path d="M590.5,86.2C589.1,89.9 584.2,107.0 581.5,114.5C578.9,122.1 574.0,135.4 571.0,143.0C567.9,150.6 562.3,163.8 559.0,171.4C555.6,179.0 549.5,192.3 545.9,199.9C542.3,207.4 535.7,220.7 531.9,228.2C528.0,235.8 521.1,249.1 517.1,256.7C513.1,264.3 505.9,277.5 501.7,285.1C497.5,292.7 490.1,306.0 485.8,313.6C481.5,321.2 473.8,334.4 469.4,342.0C465.0,349.6 457.2,362.9 452.5,370.5C447.9,378.0 439.4,391.1 434.6,398.6C429.8,406.2 421.5,419.5 416.6,427.1C411.7,434.7 402.9,447.9 397.8,455.5C392.7,463.1 383.6,476.4 378.2,483.9C372.9,491.5 363.3,504.7 357.7,512.3C352.0,519.9 341.8,533.2 335.8,540.8C329.7,548.4 315.2,565.2 312.3,569.2C309.4,573.2 310.9,574.4 314.3,570.8C317.7,567.3 331.8,550.0 337.8,542.4C343.9,534.8 354.1,521.5 359.7,513.9C365.4,506.3 375.0,493.0 380.4,485.5C385.7,477.9 394.9,464.5 400.0,456.9C405.1,449.3 413.9,436.1 418.8,428.5C423.7,420.9 432.1,407.6 436.8,400.0C441.5,392.4 449.4,378.9 453.9,371.3C458.4,363.7 466.3,350.4 470.8,342.8C475.2,335.2 482.9,322.0 487.2,314.4C491.5,306.8 498.9,293.5 503.1,285.9C507.3,278.3 514.5,265.1 518.5,257.5C522.5,249.9 529.5,236.6 533.3,229.0C537.2,221.4 543.7,208.1 547.3,200.5C550.9,193.0 557.1,179.6 560.4,172.0C563.8,164.4 569.4,151.2 572.4,143.6C575.5,136.0 580.4,122.7 583.1,115.1C585.7,107.5 591.1,90.5 592.1,86.6C593.1,82.8 591.9,82.4 590.5,86.2Z" fill="#0000e0" stroke="#38b8d8" stroke-width="1.4" stroke-opacity="0.45" paint-order="stroke"/>
<path d="M542.7,143.8C541.2,147.4 535.4,164.0 532.6,171.4C529.8,178.7 524.8,191.5 521.8,198.8C518.8,206.2 513.4,219.1 510.2,226.4C506.9,233.8 501.0,246.6 497.5,254.0C494.0,261.4 487.7,274.2 483.9,281.6C480.1,288.9 473.2,301.7 469.1,309.1C465.0,316.4 457.6,329.3 453.2,336.6C448.8,344.0 441.0,356.9 436.3,364.2C431.6,371.5 422.9,384.1 417.9,391.4C412.9,398.7 404.2,411.7 399.0,419.0C393.9,426.4 384.6,439.2 379.2,446.6C373.9,453.9 364.3,466.8 358.8,474.2C353.3,481.5 343.6,494.3 337.9,501.7C332.3,509.0 319.2,525.4 316.7,529.3C314.1,533.1 315.5,534.2 318.5,530.7C321.6,527.2 334.2,510.5 339.9,503.1C345.5,495.8 355.3,483.0 360.8,475.6C366.3,468.3 375.8,455.4 381.2,448.0C386.5,440.6 395.8,427.8 401.0,420.4C406.1,413.0 415.0,400.2 419.9,392.8C424.8,385.4 432.9,372.4 437.5,365.0C442.1,357.6 450.0,344.7 454.4,337.4C458.8,330.0 466.2,317.1 470.3,309.7C474.4,302.4 481.3,289.6 485.1,282.2C488.9,274.9 495.2,262.0 498.7,254.6C502.2,247.2 508.2,234.3 511.4,227.0C514.7,219.6 520.0,206.7 523.0,199.4C526.0,192.0 531.2,179.2 534.0,171.8C536.8,164.5 542.9,148.0 544.1,144.2C545.2,140.5 544.3,140.1 542.7,143.8Z" fill="#0000e0" stroke="#38b8d8" stroke-width="1.4" stroke-opacity="0.45" paint-order="stroke"/>
<path d="M675.8,75.3C669.8,87.8 653.0,124.9 640.0,150.0C627.0,175.1 612.8,195.4 598.0,226.0C583.2,256.6 568.5,299.8 551.0,333.5C533.5,367.2 502.7,412.2 493.0,428.0" fill="none" stroke="#0000e0" stroke-width="1.2" stroke-opacity="0.6" stroke-linecap="round"/>
<path d="M131.1,719.7C130.4,716.3 130.2,714.1 131.5,710.7C132.9,707.3 136.1,703.5 139.1,699.5C142.0,695.5 146.1,690.5 149.2,686.6C152.3,682.8 155.6,677.0 157.8,676.3C159.9,675.7 160.4,681.1 162.1,682.8C163.8,684.4 164.9,686.1 168.1,686.2C171.3,686.3 175.3,685.8 181.0,683.6C186.7,681.4 195.3,677.0 202.5,672.9C209.7,668.8 216.8,664.0 224.0,659.1C231.2,654.2 239.0,648.2 245.5,643.4C251.9,638.7 258.0,634.3 262.7,630.5C267.4,626.8 270.5,624.4 273.4,620.8C276.4,617.3 277.1,613.6 280.2,609.3C283.2,604.9 287.9,599.3 291.8,594.7C295.7,590.1 299.8,585.8 303.4,581.6C307.1,577.5 311.4,571.8 313.6,570.0C315.8,568.2 317.7,568.1 316.5,570.7C315.3,573.4 310.0,581.0 306.3,586.0C302.7,591.0 298.6,595.7 294.7,600.5C290.8,605.4 285.2,608.8 283.1,615.1C281.0,621.3 284.7,632.1 282.0,638.0C279.4,644.0 273.1,645.9 267.0,650.9C260.9,656.0 252.7,662.2 245.5,668.1C238.3,674.1 231.2,680.6 224.0,686.4C216.8,692.2 209.7,697.8 202.5,703.0C195.3,708.2 188.2,713.1 181.0,717.6C173.8,722.1 165.6,726.9 159.5,729.8C153.4,732.8 148.4,734.9 144.4,735.2C140.5,735.5 138.1,734.1 135.8,731.6C133.6,729.0 131.8,723.2 131.1,719.7Z" fill="#0000e0" stroke="#38b8d8" stroke-width="2.2" stroke-opacity="0.55" stroke-linejoin="round" paint-order="stroke"/>
<path d="M275.8,649.4C274.6,649.5 272.2,652.7 270.4,653.5C268.6,654.4 263.9,655.6 262.5,656.0C261.1,656.4 260.4,656.0 260.1,656.3C259.7,656.6 259.2,657.7 259.6,658.2C260.0,658.7 261.2,660.0 263.0,660.0C264.7,660.0 270.4,659.0 272.5,658.1C274.6,657.2 278.3,654.6 278.8,653.4C279.2,652.3 276.9,649.4 275.8,649.4Z" fill="#0000e0" stroke="#38b8d8" stroke-width="1.4" stroke-opacity="0.45" paint-order="stroke"/>
<path d="M292.6,600.4C294.7,599.6 303.3,594.0 307.1,591.6C311.0,589.3 317.1,585.2 321.5,582.7C325.9,580.2 337.7,574.3 340.1,572.9C342.5,571.4 342.1,570.5 339.5,571.5C336.8,572.5 324.8,578.2 320.3,580.5C315.8,582.9 309.5,586.8 305.6,589.1C301.7,591.4 292.8,596.3 291.0,597.8C289.3,599.3 290.4,601.2 292.6,600.4Z" fill="#0000e0" stroke="#38b8d8" stroke-width="1.4" stroke-opacity="0.45" paint-order="stroke"/>
<path d="M247.0,552.2C247.5,552.9 245.0,560.1 245.1,563.1C245.2,566.1 246.1,568.7 247.7,570.4C249.4,572.1 251.3,573.7 255.0,573.3C258.6,572.8 264.7,569.9 269.5,567.4C274.4,565.0 279.2,561.9 284.1,558.7C288.9,555.6 293.8,551.9 298.6,548.5C303.5,545.1 308.8,541.5 313.2,538.4C317.5,535.2 319.5,534.2 324.8,529.6C330.1,525.0 341.6,513.1 345.0,510.7C348.4,508.3 347.9,511.7 345.0,515.1C342.1,518.5 332.0,526.8 327.7,531.1C323.4,535.3 322.6,537.0 319.0,540.5C315.3,544.1 310.5,548.2 305.9,552.2C301.3,556.2 296.2,560.5 291.3,564.5C286.5,568.5 281.6,572.5 276.8,576.2C271.9,579.8 267.1,583.4 262.2,586.4C257.4,589.3 251.8,592.5 247.7,593.9C243.6,595.3 240.1,595.7 237.5,594.6C235.0,593.6 233.2,590.6 232.4,587.8C231.7,585.0 232.4,581.0 233.2,577.6C233.9,574.2 235.3,570.6 236.8,567.4C238.3,564.3 240.2,561.3 241.9,558.7C243.6,556.2 246.4,551.4 247.0,552.2Z" fill="#0000e0" stroke="#38b8d8" stroke-width="2.2" stroke-opacity="0.55" stroke-linejoin="round" paint-order="stroke"/>
<path d="M301.4,468.0C302.0,468.0 302.3,471.7 302.2,474.5C302.0,477.3 300.1,481.8 300.7,484.7C301.3,487.6 303.5,490.8 305.8,492.0C308.1,493.2 310.7,493.2 314.5,492.0C318.4,490.8 324.2,487.6 329.1,484.7C333.9,481.8 339.3,477.9 343.6,474.5C348.0,471.1 351.6,467.9 355.3,464.3C358.9,460.8 361.3,458.2 365.4,453.4C369.6,448.7 375.1,442.0 380.0,436.0C384.8,429.9 389.7,423.4 394.5,417.1C399.4,410.8 406.4,401.1 409.1,398.2C411.7,395.3 412.7,396.2 410.5,399.6C408.3,403.0 400.8,412.2 396.0,418.5C391.1,424.8 386.3,431.4 381.4,437.4C376.6,443.5 371.0,450.2 366.9,454.9C362.8,459.6 359.4,462.8 356.7,465.8C354.0,468.8 354.3,469.9 350.9,473.1C347.5,476.2 341.2,481.3 336.3,484.7C331.5,488.1 326.7,491.0 321.8,493.4C317.0,495.9 311.4,499.0 307.3,499.3C303.1,499.5 299.0,497.3 297.1,494.9C295.1,492.5 295.4,488.1 295.6,484.7C295.9,481.3 297.6,477.3 298.5,474.5C299.5,471.7 300.8,468.0 301.4,468.0Z" fill="#0000e0" stroke="#38b8d8" stroke-width="2.2" stroke-opacity="0.55" stroke-linejoin="round" paint-order="stroke"/>
<path d="M337.1,432.4C337.3,433.7 337.4,438.5 338.5,440.4C339.6,442.2 340.8,443.7 343.6,443.7C346.4,443.7 353.3,440.9 355.3,440.4" fill="none" stroke="#0000e0" stroke-width="2" stroke-opacity="1" stroke-linecap="round"/>
<path d="M143.0,778.2C138.4,775.4 153.9,767.5 160.4,761.4C167.0,755.4 176.2,746.9 182.3,741.8C188.3,736.7 192.0,734.4 196.8,730.9C201.7,727.4 206.5,723.7 211.3,720.7C216.2,717.7 221.0,715.5 225.9,712.7C230.7,709.9 235.5,707.7 240.4,704.0C245.4,700.3 250.3,695.1 255.4,690.7C260.6,686.3 266.6,681.3 271.4,677.6C276.3,674.0 278.7,673.0 284.5,668.9C290.3,664.8 299.1,658.2 306.3,652.9C313.6,647.6 320.9,642.0 328.2,636.9C335.4,631.8 343.2,626.7 350.0,622.4C356.8,618.0 365.6,612.3 368.9,610.7C372.2,609.1 372.5,610.4 369.6,612.9C366.7,615.4 358.1,621.3 351.4,626.0C344.8,630.7 336.6,636.1 329.6,641.3C322.6,646.5 315.6,652.2 309.3,657.3C303.0,662.4 297.1,667.2 291.8,671.8C286.5,676.4 282.1,680.0 277.3,684.9C272.4,689.7 270.1,692.9 262.7,700.9C255.4,708.9 239.8,725.8 233.2,733.1C226.5,740.4 226.6,740.8 223.0,744.7C219.3,748.6 215.2,752.7 211.3,756.3C207.5,760.0 203.6,762.9 199.7,766.5C195.8,770.2 197.5,776.2 188.1,778.2C178.6,780.1 147.6,780.9 143.0,778.2Z" fill="#0000e0" stroke="#38b8d8" stroke-width="2.2" stroke-opacity="0.55" stroke-linejoin="round" paint-order="stroke"/>
<path d="M204.7,780.9C206.9,779.8 211.4,771.0 214.0,767.3C216.7,763.7 221.9,757.3 224.8,753.6C227.8,750.0 233.0,743.7 235.9,740.1C238.9,736.4 245.7,728.5 247.0,726.5C248.3,724.5 247.3,723.6 245.5,725.1C243.7,726.6 236.6,734.4 233.3,737.7C230.1,741.1 224.4,747.0 221.1,750.3C217.8,753.7 211.8,759.5 208.7,762.8C205.5,766.2 198.1,773.0 197.6,775.4C197.1,777.8 202.5,782.0 204.7,780.9Z" fill="#0000e0" stroke="#38b8d8" stroke-width="1.4" stroke-opacity="0.45" paint-order="stroke"/>
<path d="M383.9,675.9C380.9,676.9 369.0,683.9 363.3,687.3C357.7,690.8 347.2,697.9 341.3,701.7C335.4,705.6 325.2,712.1 319.3,716.1C313.4,720.1 303.1,727.5 297.2,732.0C291.4,736.4 281.2,744.6 275.3,749.5C269.5,754.4 255.9,765.3 253.5,768.4C251.1,771.6 254.0,774.9 257.4,773.0C260.8,771.1 273.4,758.9 279.2,754.1C285.0,749.3 295.1,741.2 300.9,736.7C306.7,732.3 316.7,724.7 322.5,720.6C328.2,716.5 338.3,709.8 344.1,705.9C349.9,702.0 360.1,694.7 365.7,691.2C371.3,687.6 383.4,681.4 385.9,679.4C388.3,677.3 386.9,674.8 383.9,675.9Z" fill="#0000e0" stroke="#38b8d8" stroke-width="1.4" stroke-opacity="0.45" paint-order="stroke"/>
<path d="M358.7,649.1C359.9,648.4 362.3,644.2 364.3,641.9C366.4,639.7 371.1,635.1 374.1,632.2C377.1,629.2 383.2,623.6 386.9,620.0C390.6,616.3 397.8,608.6 401.7,604.8C405.7,601.0 412.6,595.5 416.5,591.6C420.5,587.8 427.7,580.1 431.3,576.2C434.8,572.4 440.4,565.9 442.9,562.8C445.5,559.8 449.5,554.7 450.4,553.3C451.3,552.0 450.9,551.6 449.6,552.7C448.4,553.7 443.9,558.3 441.1,561.2C438.3,564.0 432.4,570.2 428.7,573.8C425.1,577.4 417.5,584.7 413.5,588.4C409.4,592.0 402.3,597.5 398.3,601.2C394.2,604.9 386.9,612.5 383.1,616.0C379.3,619.6 373.0,624.9 369.9,627.8C366.8,630.8 361.6,635.5 359.7,638.1C357.7,640.6 355.4,645.5 355.3,646.9C355.2,648.4 357.5,649.7 358.7,649.1Z" fill="#0000e0" stroke="#38b8d8" stroke-width="1.4" stroke-opacity="0.45" paint-order="stroke"/>
<path d="M388.5,671.7C390.1,671.2 394.0,668.7 397.4,665.6C400.9,662.4 409.9,652.7 414.4,648.2C418.9,643.7 426.4,637.3 431.5,631.9C436.6,626.5 447.1,614.2 452.7,607.8C458.4,601.4 468.2,589.8 473.8,583.9C479.4,577.9 489.2,568.6 494.9,563.2C500.5,557.8 510.4,548.7 516.0,543.5C521.6,538.2 532.1,528.4 537.2,523.7C542.2,519.1 551.9,510.5 554.0,508.3C556.2,506.2 555.8,505.7 553.4,507.6C550.9,509.4 541.1,517.8 535.8,522.3C530.6,526.7 519.8,536.2 514.0,541.2C508.2,546.3 498.0,555.0 492.1,560.2C486.3,565.4 476.1,574.6 470.2,580.4C464.4,586.2 454.1,597.5 448.3,603.8C442.4,610.0 431.7,621.8 426.5,627.0C421.3,632.2 413.8,638.5 409.2,642.8C404.6,647.2 394.9,656.4 391.8,659.9C388.6,663.4 386.1,667.3 385.7,668.9C385.2,670.4 386.9,672.1 388.5,671.7Z" fill="#0000e0" stroke="#38b8d8" stroke-width="1.4" stroke-opacity="0.45" paint-order="stroke"/>
<path d="M495.6,608.6C493.5,610.3 484.6,619.0 480.6,622.5C476.6,626.1 469.7,631.8 465.7,635.2C461.8,638.6 454.5,644.2 451.0,648.1C447.5,652.1 438.3,665.7 439.5,664.9C440.6,664.1 460.5,641.6 459.9,642.0C459.3,642.5 441.0,661.6 434.8,668.3C428.6,674.9 418.9,685.8 413.1,691.8C407.4,697.7 397.3,707.6 391.6,713.0C385.9,718.4 375.9,727.1 370.2,732.2C364.4,737.3 354.4,746.2 348.7,751.4C342.9,756.6 331.8,766.6 327.1,770.9C322.5,775.2 314.8,781.1 313.6,783.4C312.5,785.8 315.9,789.5 318.4,788.6C320.8,787.6 327.2,780.3 331.9,776.1C336.5,771.8 347.6,761.8 353.3,756.6C359.1,751.4 369.1,742.5 374.8,737.4C380.6,732.3 390.7,723.5 396.4,718.0C402.1,712.5 412.1,702.3 417.9,696.2C423.6,690.1 432.9,679.5 439.2,672.3C445.5,665.2 465.7,644.3 465.3,642.8C465.0,641.2 438.0,659.7 436.5,660.9C435.0,662.0 449.8,654.5 454.0,651.5C458.3,648.5 464.6,641.8 468.4,638.2C472.2,634.6 478.9,628.5 482.6,624.7C486.4,620.9 494.9,611.8 496.7,609.6C498.4,607.5 497.8,606.8 495.6,608.6Z" fill="#0000e0" stroke="#38b8d8" stroke-width="1.4" stroke-opacity="0.45" paint-order="stroke"/>
<path d="M601.1,339.7C599.6,341.9 593.7,351.9 590.6,356.3C587.6,360.8 580.7,368.9 578.1,373.2C575.5,377.5 572.1,385.8 571.1,388.6C570.1,391.5 570.3,393.6 570.5,394.5C570.7,395.4 571.9,395.6 572.4,395.0C573.0,394.5 573.5,392.8 574.8,390.2C576.1,387.6 579.6,379.8 582.0,375.5C584.5,371.2 590.5,362.6 593.2,357.9C595.8,353.2 600.9,342.6 602.0,340.2C603.1,337.8 602.7,337.5 601.1,339.7Z" fill="#0000e0" stroke="#38b8d8" stroke-width="1.4" stroke-opacity="0.45" paint-order="stroke"/>
<path d="M366.2,574.2C365.2,575.0 361.3,579.2 359.8,581.1C358.3,583.0 355.0,587.2 354.7,588.4C354.3,589.6 356.1,590.9 357.1,590.1C358.1,589.4 360.8,584.9 362.2,582.9C363.6,580.9 366.9,576.3 367.4,575.2C367.9,574.0 367.2,573.5 366.2,574.2Z" fill="#0000e0" stroke="#38b8d8" stroke-width="1.4" stroke-opacity="0.45" paint-order="stroke"/>
<path d="M446.3,582.9C445.2,583.4 440.6,586.7 438.6,588.1C436.6,589.4 432.1,592.1 431.4,593.1C430.7,594.1 431.9,595.9 433.1,595.6C434.3,595.2 438.5,592.0 440.4,590.5C442.3,588.9 446.5,585.0 447.3,584.0C448.1,583.0 447.5,582.3 446.3,582.9Z" fill="#0000e0" stroke="#38b8d8" stroke-width="1.4" stroke-opacity="0.45" paint-order="stroke"/>
<path d="M363.9,573.9C362.9,574.9 358.9,580.4 357.5,582.2C356.0,584.1 353.4,587.0 353.1,588.0C352.9,589.0 354.6,590.3 355.5,589.8C356.4,589.3 358.7,586.0 359.9,583.9C361.2,581.9 364.6,576.1 365.1,574.8C365.7,573.4 364.9,573.0 363.9,573.9Z" fill="#0000e0" stroke="#38b8d8" stroke-width="1.4" stroke-opacity="0.45" paint-order="stroke"/>
<path d="M589.0,28.9C591.9,25.9 602.6,26.6 604.9,28.9C607.2,31.1 603.8,37.0 602.7,42.1C601.6,47.3 599.8,53.9 598.3,59.8C596.8,65.7 594.9,72.4 593.9,77.5C592.8,82.7 591.7,86.8 592.1,90.8C592.5,94.9 593.9,97.8 596.1,101.9C598.2,105.9 600.9,110.4 604.9,115.2C609.0,120.0 618.0,127.9 620.4,130.7C622.8,133.4 622.3,134.0 619.3,131.8C616.4,129.6 607.1,122.0 602.7,117.4C598.3,112.8 595.1,108.2 592.7,104.1C590.4,100.0 589.4,97.5 588.3,93.0C587.2,88.6 586.6,82.3 586.1,77.5C585.6,72.7 585.3,69.4 585.4,64.3C585.6,59.1 586.6,52.5 587.2,46.6C587.8,40.7 586.0,31.8 589.0,28.9Z" fill="#0000e0" stroke="#38b8d8" stroke-width="2.2" stroke-opacity="0.55" stroke-linejoin="round" paint-order="stroke"/>
<path d="M552.2,101.9C551.6,101.9 551.0,105.9 549.6,108.5C548.2,111.1 545.5,114.1 544.1,117.4C542.6,120.7 540.9,124.8 540.7,128.4C540.6,132.1 541.8,136.6 543.0,139.5C544.1,142.5 545.5,143.6 547.4,146.2C549.2,148.7 552.7,153.9 554.0,155.0C555.3,156.1 555.9,154.6 555.3,152.8C554.8,150.9 551.7,147.6 550.7,143.9C549.7,140.2 549.5,135.1 549.6,130.7C549.7,126.2 550.7,121.1 551.4,117.4C552.0,113.7 553.4,111.1 553.6,108.5C553.7,105.9 552.9,101.9 552.2,101.9Z" fill="#0000e0" stroke="#38b8d8" stroke-width="2.2" stroke-opacity="0.55" stroke-linejoin="round" paint-order="stroke"/>
<path d="M515.3,161.6C514.6,161.8 512.8,165.7 512.0,168.3C511.1,170.9 510.1,174.4 510.2,177.1C510.3,179.9 511.7,185.2 512.4,184.9C513.1,184.5 513.6,177.9 514.2,174.9C514.8,172.0 515.8,169.4 516.0,167.2C516.1,165.0 516.0,161.5 515.3,161.6Z" fill="#0000e0" stroke="#38b8d8" stroke-width="2.2" stroke-opacity="0.55" stroke-linejoin="round" paint-order="stroke"/>
<path d="M489.8,200.4C489.4,200.6 487.8,204.2 487.6,205.9C487.5,207.6 488.5,210.5 489.0,210.3C489.4,210.1 490.4,206.5 490.5,204.8C490.6,203.1 490.3,200.2 489.8,200.4Z" fill="#0000e0" stroke="#38b8d8" stroke-width="2.2" stroke-opacity="0.55" stroke-linejoin="round" paint-order="stroke"/>
<path d="M686.8,30.0C685.5,30.0 684.6,34.8 682.4,37.7C680.2,40.7 673.9,46.0 673.5,47.7C673.2,49.3 678.0,47.1 680.2,47.7C682.4,48.2 685.1,49.7 686.8,51.0C688.5,52.3 689.4,56.1 690.1,55.4C690.9,54.7 691.2,49.5 691.2,46.6C691.2,43.6 690.9,40.5 690.1,37.7C689.4,34.9 688.1,30.0 686.8,30.0Z" fill="#0000e0" stroke="#38b8d8" stroke-width="2.2" stroke-opacity="0.55" stroke-linejoin="round" paint-order="stroke"/>
<path d="M691.2,46.6C693.4,49.1 700.1,57.3 704.5,62.1C708.9,66.8 715.6,73.1 717.8,75.3" fill="none" stroke="#0000e0" stroke-width="1" stroke-opacity="1" stroke-linecap="round"/>
<path d="M673.5,47.7C672.6,49.0 669.5,53.4 668.0,55.4C666.5,57.4 665.2,59.1 664.7,59.8" fill="none" stroke="#0000e0" stroke-width="1" stroke-opacity="0.7" stroke-linecap="round"/>
<path d="M627.1,54.3C626.3,54.7 624.7,57.6 623.7,59.8C622.8,62.1 621.6,65.4 621.5,67.6C621.4,69.8 622.3,73.7 623.1,73.1C623.8,72.6 625.1,66.8 625.9,64.3C626.8,61.7 628.0,59.3 628.2,57.6C628.3,56.0 627.8,53.9 627.1,54.3Z" fill="#0000e0" stroke="#38b8d8" stroke-width="2.2" stroke-opacity="0.55" stroke-linejoin="round" paint-order="stroke"/>
<path d="M679.1,63.2C678.4,63.7 676.7,67.4 676.2,69.8C675.6,72.2 675.4,77.2 675.7,77.5C676.1,77.9 677.7,73.9 678.4,72.0C679.1,70.2 680.1,68.0 680.2,66.5C680.3,65.0 679.7,62.6 679.1,63.2Z" fill="#0000e0" stroke="#38b8d8" stroke-width="2.2" stroke-opacity="0.55" stroke-linejoin="round" paint-order="stroke"/>
<path d="M630.4,134.0C629.9,133.8 628.4,137.5 628.2,139.5C627.9,141.5 628.3,146.0 628.8,146.2C629.3,146.3 630.8,142.6 631.0,140.6C631.3,138.6 630.9,134.2 630.4,134.0Z" fill="#0000e0" stroke="#38b8d8" stroke-width="2.2" stroke-opacity="0.55" stroke-linejoin="round" paint-order="stroke"/>
<path d="M563.3,132.9C562.9,133.1 561.8,136.9 561.8,138.4C561.7,139.9 562.5,141.9 562.9,141.7C563.3,141.5 564.1,138.8 564.2,137.3C564.3,135.8 563.7,132.7 563.3,132.9Z" fill="#0000e0" stroke="#38b8d8" stroke-width="2.2" stroke-opacity="0.55" stroke-linejoin="round" paint-order="stroke"/>
<path d="M585.4,143.9C585.1,144.1 584.2,147.2 584.1,148.4C584.1,149.5 584.9,151.2 585.2,151.0C585.6,150.8 586.3,148.4 586.3,147.3C586.4,146.1 585.8,143.8 585.4,143.9Z" fill="#0000e0" stroke="#38b8d8" stroke-width="2.2" stroke-opacity="0.55" stroke-linejoin="round" paint-order="stroke"/>
<path d="M513.5,161.9C512.5,161.5 509.7,168.7 509.2,172.6C508.7,176.6 509.4,185.2 510.5,185.5C511.6,185.9 515.2,178.7 515.7,174.8C516.2,170.9 514.6,162.3 513.5,161.9Z" fill="#0000e0" stroke="#38b8d8" stroke-width="2.2" stroke-opacity="0.55" stroke-linejoin="round" paint-order="stroke"/>
<path d="M665.7,183.2C664.8,184.8 661.4,192.4 660.0,195.9C658.6,199.3 655.5,207.2 655.0,209.0C654.4,210.8 654.9,211.0 655.9,209.4C656.8,207.8 660.6,200.2 662.0,196.7C663.5,193.3 666.2,185.4 666.6,183.6C667.1,181.8 666.6,181.6 665.7,183.2Z" fill="#0000e0" stroke="#38b8d8" stroke-width="1.4" stroke-opacity="0.45" paint-order="stroke"/>
<path d="M486.7,199.6C486.3,200.8 485.6,207.8 485.7,209.1C485.8,210.4 486.8,210.5 487.2,209.3C487.6,208.1 488.8,201.2 488.7,199.9C488.7,198.6 487.1,198.4 486.7,199.6Z" fill="#0000e0" stroke="#38b8d8" stroke-width="1.4" stroke-opacity="0.45" paint-order="stroke"/>
<path d="M575.5,19.0C574.4,20.7 591.9,-6.2 568.8,29.0C545.7,64.2 473.5,174.2 437.0,230.0C400.5,285.8 367.3,337.3 350.0,364.0C332.7,390.7 343.7,373.5 333.0,390.0C322.3,406.5 293.6,450.8 285.7,463.0" fill="none" stroke="#0000c8" stroke-width="4" stroke-opacity="0.35" stroke-linecap="round"/>
<path d="M563.5,19.0C562.4,20.7 579.9,-6.2 556.8,29.0C533.7,64.2 461.5,174.2 425.0,230.0C388.5,285.8 355.3,337.3 338.0,364.0C320.7,390.7 331.7,373.5 321.0,390.0C310.3,406.5 281.6,450.8 273.7,463.0" fill="none" stroke="#0000c8" stroke-width="4" stroke-opacity="0.25" stroke-linecap="round"/>
<path d="M547.5,19.0C546.4,20.7 563.9,-6.2 540.8,29.0C517.7,64.2 445.5,174.2 409.0,230.0C372.5,285.8 339.3,337.3 322.0,364.0C304.7,390.7 315.7,373.5 305.0,390.0C294.3,406.5 265.6,450.8 257.7,463.0" fill="none" stroke="#0000c8" stroke-width="4" stroke-opacity="0.15" stroke-linecap="round"/>
<path d="M821.5,19.0C820.7,20.7 820.7,19.5 816.5,29.0C812.3,38.5 811.7,43.2 796.5,76.0C781.3,108.8 742.3,192.0 725.5,226.0C708.7,260.0 705.8,261.3 695.5,280.0C685.2,298.7 672.4,321.9 663.5,338.0C654.6,354.1 649.8,361.2 642.0,376.5C634.2,391.8 624.2,415.1 616.5,430.0C608.8,444.9 603.7,454.0 595.5,466.0C587.3,478.0 575.6,491.2 567.5,502.0C559.4,512.8 554.1,521.3 547.1,531.0C540.1,540.7 532.6,550.3 525.3,560.0C518.0,569.7 510.8,579.3 503.5,589.0C496.2,598.7 488.2,609.1 481.5,618.0C474.8,626.9 470.4,633.7 463.1,642.4C455.8,651.1 445.4,661.7 437.5,670.3C429.6,678.9 423.2,686.5 416.0,694.0C408.8,701.5 401.7,708.7 394.5,715.5C387.3,722.3 380.2,728.4 373.0,734.8C365.8,741.2 358.7,747.5 351.5,754.0C344.3,760.5 335.8,768.2 330.0,773.5C324.2,778.8 318.8,783.9 316.5,786.0" fill="none" stroke="#f05a1e" stroke-width="2.2" stroke-opacity="0.55" stroke-linecap="round"/>
<path d="M819.0,19.0C818.2,20.7 818.2,19.5 814.0,29.0C809.8,38.5 809.2,43.2 794.0,76.0C778.8,108.8 739.8,192.0 723.0,226.0C706.2,260.0 703.3,261.3 693.0,280.0C682.7,298.7 669.9,321.9 661.0,338.0C652.1,354.1 647.3,361.2 639.5,376.5C631.7,391.8 621.8,415.1 614.0,430.0C606.2,444.9 601.2,454.0 593.0,466.0C584.8,478.0 573.1,491.2 565.0,502.0C556.9,512.8 551.6,521.3 544.6,531.0C537.6,540.7 530.1,550.3 522.8,560.0C515.5,569.7 508.3,579.3 501.0,589.0C493.7,598.7 485.7,609.1 479.0,618.0C472.3,626.9 467.9,633.7 460.6,642.4C453.3,651.1 442.9,661.7 435.0,670.3C427.1,678.9 420.7,686.5 413.5,694.0C406.3,701.5 399.2,708.7 392.0,715.5C384.8,722.3 377.7,728.4 370.5,734.8C363.3,741.2 356.2,747.5 349.0,754.0C341.8,760.5 333.3,768.2 327.5,773.5C321.7,778.8 316.2,783.9 314.0,786.0" fill="none" stroke="#3a50e0" stroke-width="1.2" stroke-dasharray="1 3.3" stroke-opacity="0.8"/>
<path d="M816.0,19.0C815.2,20.7 815.2,19.5 811.0,29.0C806.8,38.5 806.2,43.2 791.0,76.0C775.8,108.8 736.8,192.0 720.0,226.0C703.2,260.0 700.3,261.3 690.0,280.0C679.7,298.7 666.9,321.9 658.0,338.0C649.1,354.1 644.3,361.2 636.5,376.5C628.7,391.8 618.8,415.1 611.0,430.0C603.2,444.9 598.2,454.0 590.0,466.0C581.8,478.0 570.1,491.2 562.0,502.0C553.9,512.8 548.6,521.3 541.6,531.0C534.6,540.7 527.1,550.3 519.8,560.0C512.5,569.7 505.3,579.3 498.0,589.0C490.7,598.7 482.7,609.1 476.0,618.0C469.3,626.9 464.9,633.7 457.6,642.4C450.3,651.1 439.9,661.7 432.0,670.3C424.1,678.9 417.7,686.5 410.5,694.0C403.3,701.5 396.2,708.7 389.0,715.5C381.8,722.3 374.7,728.4 367.5,734.8C360.3,741.2 353.2,747.5 346.0,754.0C338.8,760.5 330.3,768.2 324.5,773.5C318.7,778.8 313.2,783.9 311.0,786.0" fill="none" stroke="#2838e0" stroke-width="1" stroke-dasharray="1 6.1" stroke-opacity="0.7"/>
<path d="M824.5,19.0C823.7,20.7 823.7,19.5 819.5,29.0C815.3,38.5 814.7,43.2 799.5,76.0C784.3,108.8 745.3,192.0 728.5,226.0C711.7,260.0 708.8,261.3 698.5,280.0C688.2,298.7 675.4,321.9 666.5,338.0C657.6,354.1 652.8,361.2 645.0,376.5C637.2,391.8 627.2,415.1 619.5,430.0C611.8,444.9 606.7,454.0 598.5,466.0C590.3,478.0 578.6,491.2 570.5,502.0C562.4,512.8 557.1,521.3 550.1,531.0C543.1,540.7 535.6,550.3 528.3,560.0C521.0,569.7 513.8,579.3 506.5,589.0C499.2,598.7 491.2,609.1 484.5,618.0C477.8,626.9 473.4,633.7 466.1,642.4C458.8,651.1 448.4,661.7 440.5,670.3C432.6,678.9 426.2,686.5 419.0,694.0C411.8,701.5 404.7,708.7 397.5,715.5C390.3,722.3 383.2,728.4 376.0,734.8C368.8,741.2 361.7,747.5 354.5,754.0C347.3,760.5 338.8,768.2 333.0,773.5C327.2,778.8 321.8,783.9 319.5,786.0" fill="none" stroke="#ffa030" stroke-width="1.3" stroke-dasharray="1.2 2.3" stroke-opacity="0.9"/>
<path d="M827.0,19.0C826.2,20.7 826.2,19.5 822.0,29.0C817.8,38.5 817.2,43.2 802.0,76.0C786.8,108.8 747.8,192.0 731.0,226.0C714.2,260.0 711.3,261.3 701.0,280.0C690.7,298.7 677.9,321.9 669.0,338.0C660.1,354.1 655.3,361.2 647.5,376.5C639.7,391.8 629.8,415.1 622.0,430.0C614.2,444.9 609.2,454.0 601.0,466.0C592.8,478.0 581.1,491.2 573.0,502.0C564.9,512.8 559.6,521.3 552.6,531.0C545.6,540.7 538.1,550.3 530.8,560.0C523.5,569.7 516.3,579.3 509.0,589.0C501.7,598.7 493.7,609.1 487.0,618.0C480.3,626.9 475.9,633.7 468.6,642.4C461.3,651.1 450.9,661.7 443.0,670.3C435.1,678.9 428.7,686.5 421.5,694.0C414.3,701.5 407.2,708.7 400.0,715.5C392.8,722.3 385.7,728.4 378.5,734.8C371.3,741.2 364.2,747.5 357.0,754.0C349.8,760.5 341.3,768.2 335.5,773.5C329.7,778.8 324.2,783.9 322.0,786.0" fill="none" stroke="#9ab0f0" stroke-width="1.1" stroke-dasharray="1 3.7" stroke-opacity="0.8"/>
<path d="M830.0,19.0C829.2,20.7 829.2,19.5 825.0,29.0C820.8,38.5 820.2,43.2 805.0,76.0C789.8,108.8 750.8,192.0 734.0,226.0C717.2,260.0 714.3,261.3 704.0,280.0C693.7,298.7 680.9,321.9 672.0,338.0C663.1,354.1 658.3,361.2 650.5,376.5C642.7,391.8 632.8,415.1 625.0,430.0C617.2,444.9 612.2,454.0 604.0,466.0C595.8,478.0 584.1,491.2 576.0,502.0C567.9,512.8 562.6,521.3 555.6,531.0C548.6,540.7 541.1,550.3 533.8,560.0C526.5,569.7 519.3,579.3 512.0,589.0C504.7,598.7 496.7,609.1 490.0,618.0C483.3,626.9 478.9,633.7 471.6,642.4C464.3,651.1 453.9,661.7 446.0,670.3C438.1,678.9 431.7,686.5 424.5,694.0C417.3,701.5 410.2,708.7 403.0,715.5C395.8,722.3 388.7,728.4 381.5,734.8C374.3,741.2 367.2,747.5 360.0,754.0C352.8,760.5 344.3,768.2 338.5,773.5C332.7,778.8 327.2,783.9 325.0,786.0" fill="none" stroke="#ffb040" stroke-width="1" stroke-dasharray="1 7.3" stroke-opacity="0.7"/>
<path d="M484.0,618.0 L465.6,642.4 L440.0,670.3 L418.5,694.0 L397.0,715.5 L375.5,734.8 L354.0,754.0 L332.5,773.5 L319.0,786.0 L344.0,786.0 L357.5,773.5 L379.0,754.0 L400.5,734.8 L422.0,715.5 L431.5,694.0 L453.0,670.3 L470.6,642.4 L489.0,618.0Z" fill="#c8a860" fill-opacity="0.22"/>
<path d="M483.4,618.0C480.3,622.1 472.2,633.7 465.0,642.4C457.7,651.1 447.4,661.7 439.6,670.3C431.8,678.9 425.2,686.5 418.1,694.0C411.0,701.5 404.1,708.7 397.0,715.5C389.9,722.3 382.7,728.4 375.5,734.8C368.3,741.2 361.2,747.5 354.0,754.0C346.8,760.5 338.3,768.2 332.5,773.5C326.7,778.8 321.2,783.9 319.0,786.0" fill="none" stroke="#ffb020" stroke-width="1.4" stroke-dasharray="1.4 1.5 1 2.0" stroke-dashoffset="5.3" stroke-opacity="0.95"/>
<path d="M484.1,618.0C481.1,622.1 472.9,633.7 465.7,642.4C458.5,651.1 448.6,661.7 440.9,670.3C433.2,678.9 426.4,686.5 419.4,694.0C412.5,701.5 406.2,708.7 399.2,715.5C392.2,722.3 384.9,728.4 377.7,734.8C370.5,741.2 363.4,747.5 356.2,754.0C349.0,760.5 340.5,768.2 334.7,773.5C328.9,778.8 323.4,783.9 321.2,786.0" fill="none" stroke="#ffb020" stroke-width="1.4" stroke-dasharray="1.4 2.0 1 2.4" stroke-dashoffset="3.3" stroke-opacity="0.90"/>
<path d="M484.9,618.0C481.8,622.1 473.6,633.7 466.5,642.4C459.4,651.1 449.9,661.7 442.2,670.3C434.6,678.9 427.5,686.5 420.7,694.0C413.9,701.5 408.2,708.7 401.4,715.5C394.6,722.3 387.1,728.4 379.9,734.8C372.7,741.2 365.6,747.5 358.4,754.0C351.2,760.5 342.7,768.2 336.9,773.5C331.1,778.8 325.6,783.9 323.4,786.0" fill="none" stroke="#f0d040" stroke-width="1.4" stroke-dasharray="1.4 2.6 1 2.8" stroke-dashoffset="5.6" stroke-opacity="0.86"/>
<path d="M485.7,618.0C482.6,622.1 474.3,633.7 467.3,642.4C460.2,651.1 451.1,661.7 443.6,670.3C436.0,678.9 428.7,686.5 422.1,694.0C415.4,701.5 410.3,708.7 403.6,715.5C396.9,722.3 389.3,728.4 382.1,734.8C374.9,741.2 367.8,747.5 360.6,754.0C353.4,760.5 344.9,768.2 339.1,773.5C333.3,778.8 327.9,783.9 325.6,786.0" fill="none" stroke="#ffc828" stroke-width="1.4" stroke-dasharray="1.4 3.2 1 3.2" stroke-dashoffset="5.5" stroke-opacity="0.81"/>
<path d="M486.4,618.0C483.4,622.1 475.0,633.7 468.0,642.4C461.1,651.1 452.3,661.7 444.9,670.3C437.4,678.9 429.9,686.5 423.4,694.0C416.9,701.5 412.3,708.7 405.8,715.5C399.3,722.3 391.5,728.4 384.3,734.8C377.1,741.2 370.0,747.5 362.8,754.0C355.6,760.5 347.1,768.2 341.3,773.5C335.5,778.8 330.1,783.9 327.8,786.0" fill="none" stroke="#f0d040" stroke-width="1.4" stroke-dasharray="1.4 3.7 1 3.6" stroke-dashoffset="2.3" stroke-opacity="0.77"/>
<path d="M487.2,618.0C484.1,622.1 475.6,633.7 468.8,642.4C462.0,651.1 453.6,661.7 446.2,670.3C438.8,678.9 431.1,686.5 424.7,694.0C418.3,701.5 414.4,708.7 408.0,715.5C401.6,722.3 393.7,728.4 386.5,734.8C379.3,741.2 372.2,747.5 365.0,754.0C357.8,760.5 349.3,768.2 343.5,773.5C337.7,778.8 332.2,783.9 330.0,786.0" fill="none" stroke="#ffb020" stroke-width="1.4" stroke-dasharray="1.4 4.2 1 4.0" stroke-dashoffset="1.7" stroke-opacity="0.72"/>
<path d="M488.0,618.0C484.9,622.1 476.3,633.7 469.6,642.4C462.8,651.1 454.8,661.7 447.5,670.3C440.3,678.9 432.2,686.5 426.0,694.0C419.8,701.5 416.4,708.7 410.2,715.5C404.0,722.3 395.9,728.4 388.7,734.8C381.5,741.2 374.4,747.5 367.2,754.0C360.0,760.5 351.5,768.2 345.7,773.5C339.9,778.8 334.4,783.9 332.2,786.0" fill="none" stroke="#f0d040" stroke-width="1.4" stroke-dasharray="1.4 4.8 1 4.4" stroke-dashoffset="4.9" stroke-opacity="0.68"/>
<path d="M488.7,618.0C485.7,622.1 477.0,633.7 470.3,642.4C463.7,651.1 456.0,661.7 448.8,670.3C441.7,678.9 433.4,686.5 427.3,694.0C421.3,701.5 418.5,708.7 412.4,715.5C406.3,722.3 398.1,728.4 390.9,734.8C383.7,741.2 376.6,747.5 369.4,754.0C362.2,760.5 353.7,768.2 347.9,773.5C342.1,778.8 336.6,783.9 334.4,786.0" fill="none" stroke="#f0d040" stroke-width="1.4" stroke-dasharray="1.4 5.4 1 4.8" stroke-dashoffset="3.6" stroke-opacity="0.64"/>
<path d="M489.5,618.0C486.4,622.1 477.7,633.7 471.1,642.4C464.6,651.1 457.2,661.7 450.2,670.3C443.1,678.9 434.6,686.5 428.7,694.0C422.7,701.5 420.5,708.7 414.6,715.5C408.7,722.3 400.3,728.4 393.1,734.8C385.9,741.2 378.8,747.5 371.6,754.0C364.4,760.5 355.9,768.2 350.1,773.5C344.3,778.8 338.9,783.9 336.6,786.0" fill="none" stroke="#ffb020" stroke-width="1.4" stroke-dasharray="1.4 5.9 1 5.2" stroke-dashoffset="2.1" stroke-opacity="0.59"/>
<path d="M490.3,618.0C487.2,622.1 478.3,633.7 471.9,642.4C465.4,651.1 458.5,661.7 451.5,670.3C444.5,678.9 435.8,686.5 430.0,694.0C424.2,701.5 422.6,708.7 416.8,715.5C411.0,722.3 402.5,728.4 395.3,734.8C388.1,741.2 381.0,747.5 373.8,754.0C366.6,760.5 358.1,768.2 352.3,773.5C346.5,778.8 341.1,783.9 338.8,786.0" fill="none" stroke="#ffb020" stroke-width="1.4" stroke-dasharray="1.4 6.5 1 5.6" stroke-dashoffset="7.8" stroke-opacity="0.54"/>
<path d="M491.1,618.0C488.0,622.1 479.0,633.7 472.7,642.4C466.3,651.1 459.7,661.7 452.8,670.3C445.9,678.9 436.9,686.5 431.3,694.0C425.7,701.5 424.6,708.7 419.0,715.5C413.4,722.3 404.7,728.4 397.5,734.8C390.3,741.2 383.2,747.5 376.0,754.0C368.8,760.5 360.3,768.2 354.5,773.5C348.7,778.8 343.2,783.9 341.0,786.0" fill="none" stroke="#f0d040" stroke-width="1.4" stroke-dasharray="1.4 7.0 1 6.0" stroke-dashoffset="6.7" stroke-opacity="0.50"/>
<path d="M491.8,618.0C488.8,622.1 479.7,633.7 473.4,642.4C467.1,651.1 460.9,661.7 454.1,670.3C447.3,678.9 438.1,686.5 432.6,694.0C427.1,701.5 426.7,708.7 421.2,715.5C415.7,722.3 406.9,728.4 399.7,734.8C392.5,741.2 385.4,747.5 378.2,754.0C371.0,760.5 362.5,768.2 356.7,773.5C350.9,778.8 345.4,783.9 343.2,786.0" fill="none" stroke="#ffc828" stroke-width="1.4" stroke-dasharray="1.4 7.6 1 6.4" stroke-dashoffset="1.4" stroke-opacity="0.45"/>
<path d="M492.6,618.0C489.5,622.1 480.4,633.7 474.2,642.4C468.0,651.1 462.1,661.7 455.4,670.3C448.7,678.9 439.3,686.5 433.9,694.0C428.6,701.5 428.7,708.7 423.4,715.5C418.1,722.3 409.1,728.4 401.9,734.8C394.7,741.2 387.6,747.5 380.4,754.0C373.2,760.5 364.7,768.2 358.9,773.5C353.1,778.8 347.6,783.9 345.4,786.0" fill="none" stroke="#ffc828" stroke-width="1.4" stroke-dasharray="1.4 8.1 1 6.8" stroke-dashoffset="2.7" stroke-opacity="0.41"/>
<path d="M493.4,618.0C490.3,622.1 481.1,633.7 475.0,642.4C468.9,651.1 463.4,661.7 456.8,670.3C450.1,678.9 440.5,686.5 435.3,694.0C430.1,701.5 430.8,708.7 425.6,715.5C420.4,722.3 411.3,728.4 404.1,734.8C396.9,741.2 389.8,747.5 382.6,754.0C375.4,760.5 366.9,768.2 361.1,773.5C355.3,778.8 349.9,783.9 347.6,786.0" fill="none" stroke="#ffc828" stroke-width="1.4" stroke-dasharray="1.4 8.7 1 7.2" stroke-dashoffset="7.4" stroke-opacity="0.36"/>
<path d="M494.1,618.0C491.1,622.1 481.7,633.7 475.7,642.4C469.7,651.1 464.6,661.7 458.1,670.3C451.6,678.9 441.6,686.5 436.6,694.0C431.5,701.5 432.8,708.7 427.8,715.5C422.8,722.3 413.5,728.4 406.3,734.8C399.1,741.2 392.0,747.5 384.8,754.0C377.6,760.5 369.1,768.2 363.3,773.5C357.5,778.8 352.1,783.9 349.8,786.0" fill="none" stroke="#d8c060" stroke-width="1.4" stroke-dasharray="1.4 9.2 1 7.6" stroke-dashoffset="4.3" stroke-opacity="0.32"/>
<path d="M494.9,618.0C491.8,622.1 482.4,633.7 476.5,642.4C470.6,651.1 465.8,661.7 459.4,670.3C453.0,678.9 442.8,686.5 437.9,694.0C433.0,701.5 434.9,708.7 430.0,715.5C425.1,722.3 415.7,728.4 408.5,734.8C401.3,741.2 394.2,747.5 387.0,754.0C379.8,760.5 371.3,768.2 365.5,773.5C359.7,778.8 354.2,783.9 352.0,786.0" fill="none" stroke="#f0d040" stroke-width="1.4" stroke-dasharray="1.4 9.8 1 8.0" stroke-dashoffset="6.4" stroke-opacity="0.28"/>
<path d="M480.0,618.0C476.9,622.1 468.9,633.7 461.6,642.4C454.3,651.1 443.9,661.7 436.0,670.3C428.1,678.9 421.7,686.5 414.5,694.0C407.3,701.5 400.2,708.7 393.0,715.5C385.8,722.3 378.7,728.4 371.5,734.8C364.3,741.2 357.2,747.5 350.0,754.0C342.8,760.5 334.3,768.2 328.5,773.5C322.7,778.8 317.2,783.9 315.0,786.0" fill="none" stroke="#3040e0" stroke-width="1.2" stroke-dasharray="1.2 3.0" stroke-dashoffset="0.0" stroke-opacity="0.7"/>
<path d="M477.0,618.0C473.9,622.1 465.9,633.7 458.6,642.4C451.3,651.1 440.9,661.7 433.0,670.3C425.1,678.9 418.7,686.5 411.5,694.0C404.3,701.5 397.2,708.7 390.0,715.5C382.8,722.3 375.7,728.4 368.5,734.8C361.3,741.2 354.2,747.5 347.0,754.0C339.8,760.5 331.3,768.2 325.5,773.5C319.7,778.8 314.2,783.9 312.0,786.0" fill="none" stroke="#3040e0" stroke-width="1.2" stroke-dasharray="1.2 5.0" stroke-dashoffset="1.7" stroke-opacity="0.7"/>
<path d="M473.0,618.0C469.9,622.1 461.9,633.7 454.6,642.4C447.3,651.1 436.9,661.7 429.0,670.3C421.1,678.9 414.7,686.5 407.5,694.0C400.3,701.5 393.2,708.7 386.0,715.5C378.8,722.3 371.7,728.4 364.5,734.8C357.3,741.2 350.2,747.5 343.0,754.0C335.8,760.5 327.3,768.2 321.5,773.5C315.7,778.8 310.2,783.9 308.0,786.0" fill="none" stroke="#3040e0" stroke-width="1.2" stroke-dasharray="1.2 7.0" stroke-dashoffset="3.4" stroke-opacity="0.7"/>
<path d="M469.0,618.0C465.9,622.1 457.9,633.7 450.6,642.4C443.3,651.1 432.9,661.7 425.0,670.3C417.1,678.9 410.7,686.5 403.5,694.0C396.3,701.5 389.2,708.7 382.0,715.5C374.8,722.3 367.7,728.4 360.5,734.8C353.3,741.2 346.2,747.5 339.0,754.0C331.8,760.5 323.3,768.2 317.5,773.5C311.7,778.8 306.2,783.9 304.0,786.0" fill="none" stroke="#3040e0" stroke-width="1.2" stroke-dasharray="1.2 9.0" stroke-dashoffset="5.1" stroke-opacity="0.7"/>
</g>
<g id="right-map" clip-path="url(#rclip)">
<rect x="957.0" y="28.5" width="723.2" height="723.5" fill="url(#rbg)"/>
<path d="M957,28 L1001,28 C992,70 975,130 958,200 L957,200 Z" fill="url(#rwedge)"/>
<g filter="url(#blur3)">
<path d="M1416.0,18.0C1409.3,28.6 1389.2,60.3 1375.6,81.5C1361.9,102.7 1348.1,123.9 1334.1,145.1C1320.1,166.3 1306.0,187.4 1291.7,208.6C1277.5,229.8 1263.0,251.0 1248.6,272.2C1234.1,293.4 1219.6,314.5 1205.0,335.7C1190.4,356.9 1175.7,378.1 1160.9,399.3C1146.2,420.5 1131.3,441.6 1116.5,462.8C1101.7,484.0 1086.8,505.2 1072.0,526.4C1057.2,547.6 1042.3,568.7 1027.5,589.9C1012.7,611.1 997.8,632.3 983.1,653.5C968.4,674.7 946.4,706.4 939.1,717.0" fill="none" stroke="#606060" stroke-width="17" stroke-opacity="0.6" stroke-linecap="round" />
</g>
<g filter="url(#blur1)">
<path d="M1423.0,18.0C1416.3,28.6 1396.2,60.3 1382.6,81.5C1368.9,102.7 1355.1,123.9 1341.1,145.1C1327.1,166.3 1313.0,187.4 1298.7,208.6C1284.5,229.8 1270.0,251.0 1255.6,272.2C1241.1,293.4 1226.6,314.5 1212.0,335.7C1197.4,356.9 1182.7,378.1 1167.9,399.3C1153.2,420.5 1138.3,441.6 1123.5,462.8C1108.7,484.0 1093.8,505.2 1079.0,526.4C1064.2,547.6 1049.3,568.7 1034.5,589.9C1019.7,611.1 1004.8,632.3 990.1,653.5C975.4,674.7 953.4,706.4 946.1,717.0" fill="none" stroke="#141414" stroke-width="5.5" stroke-opacity="0.95" stroke-linecap="round" />
<path d="M1428.5,18.0C1421.8,28.6 1401.8,60.3 1388.1,81.5C1374.4,102.7 1360.6,123.9 1346.6,145.1C1332.6,166.3 1318.5,187.4 1304.2,208.6C1290.0,229.8 1275.5,251.0 1261.1,272.2C1246.6,293.4 1232.1,314.5 1217.5,335.7C1202.9,356.9 1188.2,378.1 1173.4,399.3C1158.7,420.5 1143.8,441.6 1129.0,462.8C1114.2,484.0 1099.3,505.2 1084.5,526.4C1069.7,547.6 1054.8,568.7 1040.0,589.9C1025.2,611.1 1010.3,632.3 995.6,653.5C980.9,674.7 958.9,706.4 951.6,717.0" fill="none" stroke="#f4f4f4" stroke-width="3" stroke-opacity="0.8" stroke-linecap="round" />
<path d="M1457.0,18.0C1448.5,29.0 1422.6,62.1 1406.0,84.1C1389.4,106.1 1373.4,128.2 1357.6,150.2C1341.8,172.2 1326.3,194.3 1311.0,216.3C1295.7,238.3 1280.8,260.4 1265.8,282.4C1250.8,304.4 1236.0,326.5 1221.1,348.5C1206.2,370.5 1191.5,392.5 1176.5,414.5C1161.5,436.5 1146.5,458.6 1131.2,480.6C1115.9,502.6 1100.5,524.7 1084.7,546.7C1068.9,568.7 1052.8,590.8 1036.2,612.8C1019.6,634.8 1002.7,656.9 985.2,678.9C967.7,700.9 940.0,734.0 931.0,745.0" fill="none" stroke="#f0f0f0" stroke-width="9" stroke-opacity="0.5" stroke-linecap="round" />
<path d="M1461.5,18.0C1453.0,29.0 1427.1,62.1 1410.5,84.1C1393.9,106.1 1377.9,128.2 1362.1,150.2C1346.3,172.2 1330.8,194.3 1315.5,216.3C1300.2,238.3 1285.3,260.4 1270.3,282.4C1255.3,304.4 1240.5,326.5 1225.6,348.5C1210.7,370.5 1196.0,392.5 1181.0,414.5C1166.0,436.5 1151.0,458.6 1135.7,480.6C1120.4,502.6 1105.0,524.7 1089.2,546.7C1073.4,568.7 1057.3,590.8 1040.7,612.8C1024.1,634.8 1007.2,656.9 989.7,678.9C972.2,700.9 944.5,734.0 935.5,745.0" fill="none" stroke="#505050" stroke-width="6" stroke-opacity="0.6" stroke-linecap="round" />
</g>
<path d="M1403.0,18.0C1396.3,28.6 1376.2,60.3 1362.6,81.5C1348.9,102.7 1335.1,123.9 1321.1,145.1C1307.1,166.3 1293.0,187.4 1278.7,208.6C1264.5,229.8 1250.0,251.0 1235.6,272.2C1221.1,293.4 1199.3,325.1 1192.0,335.7" fill="none" stroke="#555" stroke-width="1" stroke-opacity="0.6" stroke-linecap="round" />
<path d="M1395.0,18.0C1388.3,28.6 1368.2,60.3 1354.6,81.5C1340.9,102.7 1327.1,123.9 1313.1,145.1C1299.1,166.3 1285.0,187.4 1270.7,208.6C1256.5,229.8 1234.8,261.6 1227.6,272.2" fill="none" stroke="#666" stroke-width="1" stroke-opacity="0.5" stroke-linecap="round" />
<path d="M1399.0,18.0C1392.3,28.6 1372.2,60.3 1358.6,81.5C1344.9,102.7 1331.1,123.9 1317.1,145.1C1303.1,166.3 1289.0,187.4 1274.7,208.6C1260.5,229.8 1238.8,261.6 1231.6,272.2" fill="none" stroke="#777" stroke-width="0.8" stroke-opacity="0.4" stroke-linecap="round" />
<clipPath id="rbandclip"><path d="M1470.0,18.0C1461.5,29.0 1435.6,62.1 1419.0,84.1C1402.4,106.1 1386.4,128.2 1370.6,150.2C1354.8,172.2 1339.3,194.3 1324.0,216.3C1308.7,238.3 1293.8,260.4 1278.8,282.4C1263.8,304.4 1249.0,326.5 1234.1,348.5C1219.2,370.5 1204.5,392.5 1189.5,414.5C1174.5,436.5 1159.5,458.6 1144.2,480.6C1128.9,502.6 1113.5,524.7 1097.7,546.7C1081.9,568.7 1065.8,590.8 1049.2,612.8C1032.6,634.8 1015.7,656.9 998.2,678.9C980.7,700.9 953.0,734.0 944.0,745.0 L940,760 L1700,760 L1700,18 Z"/></clipPath>
<g clip-path="url(#rbandclip)">
<rect x="940" y="10" width="770" height="760" fill="#34f000"/>
<g filter="url(#blur8)">
<path d="M1484.0,18.0C1475.5,29.0 1449.6,62.1 1433.0,84.1C1416.4,106.1 1400.4,128.2 1384.6,150.2C1368.8,172.2 1353.3,194.3 1338.0,216.3C1322.7,238.3 1307.8,260.4 1292.8,282.4C1277.8,304.4 1263.0,326.5 1248.1,348.5C1233.2,370.5 1218.5,392.5 1203.5,414.5C1188.5,436.5 1173.5,458.6 1158.2,480.6C1142.9,502.6 1127.5,524.7 1111.7,546.7C1095.9,568.7 1079.8,590.8 1063.2,612.8C1046.6,634.8 1029.7,656.9 1012.2,678.9C994.7,700.9 967.0,734.0 958.0,745.0 L940,760 L940,18 Z" fill="#1ce400"/>
<path d="M1545.0,10.0C1542.5,13.6 1549.2,12.2 1530.0,31.8C1510.8,51.4 1461.7,99.5 1430.0,127.5C1398.3,155.5 1364.2,171.2 1340.0,200.0C1315.8,228.8 1300.8,267.5 1285.0,300.0C1269.2,332.5 1248.8,361.7 1245.0,395.0C1241.2,428.3 1257.0,468.5 1262.0,500.0C1267.0,531.5 1275.0,559.0 1275.0,584.0C1275.0,609.0 1270.8,630.7 1262.0,650.0C1253.2,669.3 1234.8,683.3 1222.0,700.0C1209.2,716.7 1192.8,739.2 1185.0,750.0C1177.2,760.8 1176.7,762.5 1175.0,765.0 L1720,765 L1720,10 Z" fill="#70f400"/>
<path d="M1580.0,10.0C1577.5,13.6 1583.3,12.2 1565.0,31.8C1546.7,51.4 1502.5,99.5 1470.0,127.5C1437.5,155.5 1395.3,171.2 1370.0,200.0C1344.7,228.8 1333.0,267.5 1318.0,300.0C1303.0,332.5 1284.7,361.7 1280.0,395.0C1275.3,428.3 1286.7,468.5 1290.0,500.0C1293.3,531.5 1302.2,559.0 1300.0,584.0C1297.8,609.0 1287.0,630.7 1277.0,650.0C1267.0,669.3 1252.0,683.3 1240.0,700.0C1228.0,716.7 1212.5,739.2 1205.0,750.0C1197.5,760.8 1196.7,762.5 1195.0,765.0 L1720,765 L1720,10 Z" fill="#a8f400"/>
<path d="M1615.0,10.0C1612.5,13.6 1617.5,12.2 1600.0,31.8C1582.5,51.4 1540.0,99.5 1510.0,127.5C1480.0,155.5 1444.2,171.2 1420.0,200.0C1395.8,228.8 1380.8,267.5 1365.0,300.0C1349.2,332.5 1332.2,361.7 1325.0,395.0C1317.8,428.3 1322.0,468.5 1322.0,500.0C1322.0,531.5 1330.3,559.0 1325.0,584.0C1319.7,609.0 1300.5,630.7 1290.0,650.0C1279.5,669.3 1272.0,683.3 1262.0,700.0C1252.0,716.7 1237.0,739.2 1230.0,750.0C1223.0,760.8 1221.7,762.5 1220.0,765.0 L1720,765 L1720,10 Z" fill="#e8e800"/>
<path d="M1655.0,10.0C1652.5,13.6 1658.3,12.2 1640.0,31.8C1621.7,51.4 1571.7,99.5 1545.0,127.5C1518.3,155.5 1501.7,171.2 1480.0,200.0C1458.3,228.8 1433.7,267.5 1415.0,300.0C1396.3,332.5 1374.2,366.7 1368.0,395.0C1361.8,423.3 1374.7,449.2 1378.0,470.0C1381.3,490.8 1387.7,505.0 1388.0,520.0C1388.3,535.0 1387.2,545.8 1380.0,560.0C1372.8,574.2 1358.3,587.5 1345.0,605.0C1331.7,622.5 1307.5,655.0 1300.0,665.0 L1720,665 L1720,10 Z" fill="#ffc400"/>
<path d="M1685.0,10.0C1682.5,13.6 1687.5,12.2 1670.0,31.8C1652.5,51.4 1602.5,99.5 1580.0,127.5C1557.5,155.5 1555.8,171.2 1535.0,200.0C1514.2,228.8 1476.2,267.5 1455.0,300.0C1433.8,332.5 1415.2,370.0 1408.0,395.0C1400.8,420.0 1410.0,435.8 1412.0,450.0C1414.0,464.2 1420.3,470.0 1420.0,480.0C1419.7,490.0 1416.7,496.7 1410.0,510.0C1403.3,523.3 1385.0,551.7 1380.0,560.0 L1720,560 L1720,10 Z" fill="#ff9400"/>
<path d="M1690.0,10.0C1688.3,13.6 1693.7,12.2 1680.0,31.8C1666.3,51.4 1627.0,99.5 1608.0,127.5C1589.0,155.5 1584.0,171.2 1566.0,200.0C1548.0,228.8 1518.3,267.5 1500.0,300.0C1481.7,332.5 1464.7,372.5 1456.0,395.0C1447.3,417.5 1448.7,425.8 1448.0,435.0C1447.3,444.2 1451.3,447.5 1452.0,450.0 L1720,450 L1720,10 Z" fill="#ff6000"/>
<path d="M1695.0,10.0C1694.2,13.6 1702.5,12.2 1690.0,31.8C1677.5,51.4 1638.3,99.5 1620.0,127.5C1601.7,155.5 1597.0,171.2 1580.0,200.0C1563.0,228.8 1536.0,267.5 1518.0,300.0C1500.0,332.5 1480.3,376.7 1472.0,395.0C1463.7,413.3 1467.7,405.8 1468.0,410.0C1468.3,414.2 1473.0,418.3 1474.0,420.0 L1720,420 L1720,10 Z" fill="#ff2800"/>
</g></g>
<path d="M1464.0,18.0C1455.5,29.0 1429.6,62.1 1413.0,84.1C1396.4,106.1 1380.4,128.2 1364.6,150.2C1348.8,172.2 1333.3,194.3 1318.0,216.3C1302.7,238.3 1287.8,260.4 1272.8,282.4C1257.8,304.4 1243.0,326.5 1228.1,348.5C1213.2,370.5 1198.5,392.5 1183.5,414.5C1168.5,436.5 1153.5,458.6 1138.2,480.6C1122.9,502.6 1107.5,524.7 1091.7,546.7C1075.9,568.7 1059.8,590.8 1043.2,612.8C1026.6,634.8 1009.7,656.9 992.2,678.9C974.7,700.9 947.0,734.0 938.0,745.0" fill="none" stroke="#1a1a1a" stroke-width="3.8" stroke-opacity="0.95" stroke-linecap="round" />
<path d="M1467.0,18.0C1458.5,29.0 1432.6,62.1 1416.0,84.1C1399.4,106.1 1383.4,128.2 1367.6,150.2C1351.8,172.2 1336.3,194.3 1321.0,216.3C1305.7,238.3 1290.8,260.4 1275.8,282.4C1260.8,304.4 1246.0,326.5 1231.1,348.5C1216.2,370.5 1201.5,392.5 1186.5,414.5C1171.5,436.5 1156.5,458.6 1141.2,480.6C1125.9,502.6 1110.5,524.7 1094.7,546.7C1078.9,568.7 1062.8,590.8 1046.2,612.8C1029.6,634.8 1012.7,656.9 995.2,678.9C977.7,700.9 950.0,734.0 941.0,745.0" fill="none" stroke="#f0f0f0" stroke-width="1.3" stroke-opacity="0.9" stroke-linecap="round" />
<path d="M1469.0,18.0C1460.5,29.0 1434.6,62.1 1418.0,84.1C1401.4,106.1 1385.4,128.2 1369.6,150.2C1353.8,172.2 1338.3,194.3 1323.0,216.3C1307.7,238.3 1292.8,260.4 1277.8,282.4C1262.8,304.4 1248.0,326.5 1233.1,348.5C1218.2,370.5 1203.5,392.5 1188.5,414.5C1173.5,436.5 1158.5,458.6 1143.2,480.6C1127.9,502.6 1112.5,524.7 1096.7,546.7C1080.9,568.7 1064.8,590.8 1048.2,612.8C1031.6,634.8 1014.7,656.9 997.2,678.9C979.7,700.9 952.0,734.0 943.0,745.0" fill="none" stroke="#0a5a50" stroke-width="1.8" stroke-opacity="0.9" stroke-linecap="round" />
<path d="M1483.4,95.4C1479.0,102.2 1465.8,122.6 1457.0,136.1C1448.3,149.7 1439.7,163.3 1431.0,176.9C1422.3,190.4 1413.6,204.0 1404.9,217.6C1396.2,231.2 1387.7,244.7 1379.0,258.3C1370.3,271.9 1361.6,285.4 1352.8,299.0C1344.1,312.6 1335.3,326.2 1326.4,339.7C1317.5,353.3 1308.6,366.9 1299.6,380.5C1290.6,394.0 1276.9,414.4 1272.3,421.2" fill="none" stroke="#1c4a28" stroke-width="0.9" stroke-opacity="0.36076460129200677" stroke-linecap="round" stroke-dasharray="20 6 7 5"/>
<path d="M1474.9,140.3C1471.1,146.6 1459.6,165.2 1451.9,177.7C1444.2,190.1 1436.4,202.6 1428.7,215.0C1421.0,227.5 1413.3,239.9 1405.5,252.4C1397.8,264.8 1389.9,277.3 1382.1,289.7C1374.2,302.2 1366.3,314.6 1358.4,327.1C1350.4,339.5 1342.4,352.0 1334.3,364.4C1326.2,376.9 1317.9,389.3 1309.6,401.8C1301.3,414.2 1288.6,432.9 1284.4,439.1" fill="none" stroke="#1c4a28" stroke-width="1.1" stroke-opacity="0.3696361082579239" stroke-linecap="round" stroke-dasharray="38 20 8 5"/>
<path d="M1233.5,508.1C1230.5,511.5 1221.5,521.7 1215.5,528.4C1209.6,535.2 1203.6,542.0 1197.5,548.8C1191.5,555.5 1185.3,562.3 1179.1,569.1C1173.0,575.9 1166.8,582.6 1160.6,589.4C1154.4,596.2 1148.3,603.0 1142.1,609.7C1135.8,616.5 1129.4,623.3 1123.0,630.1C1116.7,636.8 1110.3,643.6 1103.9,650.4C1097.5,657.2 1088.0,667.3 1084.8,670.7" fill="none" stroke="#1c4a28" stroke-width="0.7" stroke-opacity="0.2868827858995029" stroke-linecap="round" stroke-dasharray="13 7 5 21"/>
<path d="M1296.2,305.6C1293.4,309.8 1284.9,322.3 1279.2,330.7C1273.5,339.1 1267.8,347.4 1262.1,355.8C1256.4,364.1 1250.7,372.5 1245.0,380.9C1239.2,389.2 1233.5,397.6 1227.8,406.0C1222.0,414.3 1216.2,422.7 1210.4,431.1C1204.5,439.4 1198.7,447.8 1192.8,456.1C1187.0,464.5 1181.2,472.9 1175.2,481.2C1169.3,489.6 1160.2,502.1 1157.2,506.3" fill="none" stroke="#1c4a28" stroke-width="0.9" stroke-opacity="0.4136332297238461" stroke-linecap="round" stroke-dasharray="26 20 7 15"/>
<path d="M1269.4,481.7C1265.6,486.9 1254.3,502.4 1246.7,512.7C1239.1,523.0 1231.4,533.3 1223.7,543.6C1215.9,553.9 1207.9,564.3 1200.0,574.6C1192.1,584.9 1184.2,595.2 1176.1,605.5C1168.0,615.9 1159.8,626.2 1151.6,636.5C1143.4,646.8 1135.2,657.1 1126.9,667.4C1118.5,677.8 1109.9,688.1 1101.6,698.4C1093.2,708.7 1080.9,724.2 1076.8,729.3" fill="none" stroke="#1c4a28" stroke-width="0.9" stroke-opacity="0.253930024874943" stroke-linecap="round" stroke-dasharray="33 6 5 14"/>
<path d="M1529.2,164.0C1524.4,172.6 1510.1,198.5 1500.3,215.8C1490.5,233.1 1480.6,250.4 1470.5,267.6C1460.3,284.9 1450.0,302.2 1439.4,319.5C1428.9,336.7 1418.1,354.0 1407.0,371.3C1396.0,388.6 1384.7,405.8 1373.1,423.1C1361.6,440.4 1349.8,457.7 1337.8,475.0C1325.8,492.2 1313.5,509.5 1301.0,526.8C1288.5,544.1 1269.2,570.0 1262.9,578.6" fill="none" stroke="#1c4a28" stroke-width="1.1" stroke-opacity="0.32543684653556815" stroke-linecap="round" stroke-dasharray="32 8 7 5"/>
<path d="M1294.4,299.0C1288.8,306.6 1272.1,329.3 1260.9,344.4C1249.6,359.5 1238.4,374.7 1227.1,389.8C1215.8,404.9 1204.5,420.1 1193.0,435.2C1181.6,450.3 1170.2,465.4 1158.6,480.6C1147.0,495.7 1135.2,510.8 1123.3,525.9C1111.4,541.1 1099.4,556.2 1087.3,571.3C1075.1,586.5 1063.0,601.6 1050.4,616.7C1037.9,631.8 1018.4,654.5 1012.0,662.1" fill="none" stroke="#1c4a28" stroke-width="0.7" stroke-opacity="0.30203670865735865" stroke-linecap="round" stroke-dasharray="19 17 10 5"/>
<path d="M1528.6,257.0C1524.8,263.9 1513.4,284.5 1505.5,298.2C1497.7,311.9 1489.6,325.7 1481.4,339.4C1473.2,353.1 1464.7,366.8 1456.1,380.5C1447.5,394.3 1438.7,408.0 1429.7,421.7C1420.7,435.4 1411.6,449.2 1402.2,462.9C1392.8,476.6 1383.2,490.3 1373.5,504.0C1363.7,517.8 1353.9,531.5 1343.8,545.2C1333.8,558.9 1318.4,579.5 1313.3,586.4" fill="none" stroke="#1c4a28" stroke-width="0.9" stroke-opacity="0.41044760639132716" stroke-linecap="round" stroke-dasharray="29 30 10 10"/>
<path d="M1548.8,193.5C1544.1,201.9 1530.2,227.2 1520.6,244.0C1511.0,260.8 1501.1,277.7 1491.0,294.5C1480.9,311.3 1470.6,328.2 1460.0,345.0C1449.3,361.8 1438.4,378.7 1427.2,395.5C1416.0,412.3 1404.5,429.2 1392.8,446.0C1381.1,462.8 1369.1,479.7 1356.8,496.5C1344.6,513.3 1332.2,530.1 1319.5,547.0C1306.8,563.8 1287.3,589.1 1280.8,597.5" fill="none" stroke="#1c4a28" stroke-width="0.9" stroke-opacity="0.38327586304492306" stroke-linecap="round" stroke-dasharray="24 10 5 20"/>
<path d="M1268.3,455.7C1265.5,459.3 1257.3,470.0 1251.8,477.2C1246.2,484.3 1240.6,491.5 1234.9,498.7C1229.3,505.8 1223.7,513.0 1218.0,520.1C1212.3,527.3 1206.6,534.4 1200.9,541.6C1195.1,548.7 1189.3,555.9 1183.5,563.1C1177.6,570.2 1171.7,577.4 1165.8,584.5C1159.9,591.7 1154.1,598.8 1148.1,606.0C1142.1,613.2 1133.0,623.9 1130.0,627.5" fill="none" stroke="#1c4a28" stroke-width="0.9" stroke-opacity="0.3648319727432112" stroke-linecap="round" stroke-dasharray="36 25 11 10"/>
<path d="M1479.2,361.4C1475.8,366.6 1465.6,382.4 1458.6,393.0C1451.6,403.5 1444.6,414.0 1437.5,424.5C1430.3,435.1 1423.0,445.6 1415.6,456.1C1408.2,466.7 1400.7,477.2 1393.1,487.7C1385.5,498.3 1377.8,508.8 1370.0,519.3C1362.2,529.8 1354.3,540.4 1346.3,550.9C1338.3,561.4 1330.2,572.0 1322.1,582.5C1314.0,593.0 1301.7,608.8 1297.6,614.1" fill="none" stroke="#1c4a28" stroke-width="0.7" stroke-opacity="0.22489540839839964" stroke-linecap="round" stroke-dasharray="13 21 2 21"/>
<path d="M1520.7,22.0C1516.8,27.5 1505.0,44.0 1497.1,54.9C1489.2,65.9 1481.2,76.9 1473.5,87.8C1465.7,98.8 1458.2,109.8 1450.6,120.7C1442.9,131.7 1435.1,142.6 1427.5,153.6C1419.9,164.6 1412.4,175.5 1404.8,186.5C1397.3,197.5 1389.6,208.4 1382.0,219.4C1374.5,230.3 1367.0,241.3 1359.4,252.3C1351.9,263.2 1340.5,279.7 1336.7,285.2" fill="none" stroke="#1c4a28" stroke-width="1.1" stroke-opacity="0.3699023671119176" stroke-linecap="round" stroke-dasharray="38 22 7 17"/>
<path d="M1484.8,248.3C1479.5,256.3 1463.9,280.4 1453.2,296.5C1442.4,312.5 1431.5,328.6 1420.3,344.6C1409.2,360.7 1397.8,376.7 1386.1,392.8C1374.5,408.8 1362.7,424.9 1350.6,440.9C1338.6,457.0 1326.4,473.0 1313.9,489.0C1301.5,505.1 1288.9,521.1 1276.0,537.2C1263.2,553.2 1250.1,569.3 1236.9,585.3C1223.7,601.4 1203.6,625.5 1196.9,633.5" fill="none" stroke="#1c4a28" stroke-width="0.9" stroke-opacity="0.404172530318513" stroke-linecap="round" stroke-dasharray="26 14 6 14"/>
<path d="M1460.7,53.7C1457.4,58.0 1447.4,70.9 1441.0,79.5C1434.5,88.1 1428.3,96.7 1422.0,105.3C1415.7,113.9 1409.4,122.5 1403.1,131.1C1396.9,139.7 1390.6,148.3 1384.4,156.9C1378.2,165.5 1372.2,174.1 1366.1,182.7C1359.9,191.3 1353.8,199.8 1347.7,208.4C1341.6,217.0 1335.6,225.6 1329.6,234.2C1323.6,242.8 1314.6,255.7 1311.7,260.0" fill="none" stroke="#1c4a28" stroke-width="0.9" stroke-opacity="0.302016095669703" stroke-linecap="round" stroke-dasharray="10 4 4 6"/>
<path d="M1565.6,55.2C1562.9,59.5 1554.8,72.3 1549.5,80.9C1544.2,89.5 1538.9,98.1 1533.6,106.7C1528.3,115.3 1522.9,123.9 1517.6,132.5C1512.2,141.1 1506.9,149.6 1501.5,158.2C1496.1,166.8 1490.7,175.4 1485.3,184.0C1479.9,192.6 1474.4,201.2 1468.9,209.8C1463.4,218.4 1457.9,226.9 1452.4,235.5C1446.8,244.1 1438.5,257.0 1435.7,261.3" fill="none" stroke="#1c4a28" stroke-width="0.9" stroke-opacity="0.39032287356017026" stroke-linecap="round" stroke-dasharray="39 20 7 6"/>
<path d="M1542.3,253.0C1539.0,258.8 1529.4,276.4 1522.8,288.1C1516.2,299.8 1509.6,311.5 1502.7,323.2C1495.9,334.8 1488.9,346.5 1481.7,358.2C1474.5,369.9 1467.1,381.6 1459.6,393.3C1452.1,405.0 1444.5,416.7 1436.7,428.4C1429.0,440.1 1421.2,451.8 1413.2,463.5C1405.2,475.2 1396.9,486.9 1388.5,498.6C1380.2,510.2 1367.5,527.8 1363.3,533.6" fill="none" stroke="#1c4a28" stroke-width="0.7" stroke-opacity="0.23065628502445054" stroke-linecap="round" stroke-dasharray="19 11 10 7"/>
<path d="M1193.5,496.0C1189.4,501.2 1177.1,516.6 1168.9,527.0C1160.6,537.3 1152.3,547.6 1143.9,557.9C1135.4,568.2 1126.8,578.6 1118.3,588.9C1109.7,599.2 1101.2,609.5 1092.4,619.8C1083.7,630.2 1074.7,640.5 1065.7,650.8C1056.8,661.1 1048.1,671.4 1039.0,681.8C1029.8,692.1 1020.3,702.4 1011.0,712.7C1001.8,723.0 988.1,738.5 983.5,743.7" fill="none" stroke="#1c4a28" stroke-width="0.9" stroke-opacity="0.4742437348374184" stroke-linecap="round" stroke-dasharray="32 12 8 6"/>
<path d="M1287.9,474.1C1284.2,479.3 1273.1,494.6 1265.6,504.9C1258.1,515.1 1250.5,525.4 1242.9,535.6C1235.3,545.9 1227.5,556.1 1219.7,566.4C1211.9,576.6 1204.0,586.9 1196.1,597.1C1188.1,607.4 1180.1,617.7 1172.0,627.9C1163.9,638.2 1155.8,648.4 1147.6,658.7C1139.4,668.9 1131.1,679.2 1122.8,689.4C1114.6,699.7 1102.1,715.0 1098.0,720.2" fill="none" stroke="#1c4a28" stroke-width="0.7" stroke-opacity="0.36247013683405865" stroke-linecap="round" stroke-dasharray="24 21 8 21"/>
<path d="M1390.8,429.2C1386.1,436.1 1372.0,456.7 1362.2,470.5C1352.5,484.3 1342.6,498.1 1332.6,511.9C1322.5,525.7 1312.3,539.4 1302.0,553.2C1291.6,567.0 1281.1,580.8 1270.5,594.6C1259.9,608.4 1249.2,622.2 1238.4,635.9C1227.7,649.7 1216.8,663.5 1206.0,677.3C1195.2,691.1 1183.3,704.9 1173.5,718.6C1163.8,732.4 1151.7,753.1 1147.4,760.0" fill="none" stroke="#1c4a28" stroke-width="0.9" stroke-opacity="0.3552916172730517" stroke-linecap="round" stroke-dasharray="19 5 2 10"/>
<path d="M1307.3,322.6C1303.4,327.6 1291.8,342.8 1284.0,352.9C1276.2,363.1 1268.4,373.2 1260.6,383.3C1252.8,393.4 1245.0,403.6 1237.0,413.7C1229.1,423.8 1221.1,433.9 1213.1,444.0C1205.0,454.2 1197.1,464.3 1189.0,474.4C1180.9,484.5 1172.6,494.7 1164.4,504.8C1156.2,514.9 1148.0,525.0 1139.7,535.2C1131.3,545.3 1118.6,560.5 1114.4,565.5" fill="none" stroke="#1c4a28" stroke-width="0.9" stroke-opacity="0.4169383883208887" stroke-linecap="round" stroke-dasharray="19 29 3 6"/>
<path d="M1439.5,122.2C1434.5,128.8 1419.5,148.7 1409.6,162.0C1399.7,175.3 1389.8,188.5 1379.9,201.8C1370.0,215.1 1360.2,228.4 1350.3,241.6C1340.4,254.9 1330.5,268.2 1320.6,281.4C1310.7,294.7 1300.8,308.0 1290.8,321.2C1280.9,334.5 1270.8,347.8 1260.8,361.1C1250.7,374.3 1240.7,387.6 1230.5,400.9C1220.3,414.1 1204.9,434.0 1199.8,440.7" fill="none" stroke="#1c4a28" stroke-width="1.1" stroke-opacity="0.45213065818378695" stroke-linecap="round" stroke-dasharray="23 21 10 6"/>
<path d="M1360.7,214.3C1355.8,221.4 1341.3,242.8 1331.7,257.0C1322.0,271.3 1312.3,285.5 1302.6,299.8C1292.9,314.0 1283.2,328.3 1273.5,342.6C1263.7,356.8 1254.0,371.1 1244.1,385.3C1234.3,399.6 1224.5,413.8 1214.5,428.1C1204.6,442.3 1194.6,456.6 1184.5,470.8C1174.4,485.1 1164.1,499.4 1153.8,513.6C1143.5,527.9 1127.8,549.2 1122.6,556.4" fill="none" stroke="#1c4a28" stroke-width="1.1" stroke-opacity="0.46670330132213617" stroke-linecap="round" stroke-dasharray="22 21 3 24"/>
<path d="M1420.5,220.7C1414.8,229.1 1397.8,254.5 1386.3,271.4C1374.8,288.3 1363.2,305.2 1351.4,322.1C1339.7,339.0 1327.8,355.9 1315.8,372.8C1303.8,389.7 1291.7,406.6 1279.4,423.5C1267.0,440.4 1254.6,457.3 1242.0,474.2C1229.3,491.1 1216.5,508.0 1203.4,524.9C1190.4,541.8 1177.2,558.7 1163.8,575.6C1150.4,592.5 1129.8,617.9 1123.0,626.3" fill="none" stroke="#1c4a28" stroke-width="0.7" stroke-opacity="0.25100109799156867" stroke-linecap="round" stroke-dasharray="12 8 11 21"/>
<path d="M1412.9,317.9C1408.6,323.7 1396.0,341.1 1387.5,352.7C1378.9,364.3 1370.2,375.9 1361.4,387.5C1352.7,399.0 1343.9,410.6 1334.9,422.2C1326.0,433.8 1316.9,445.4 1307.7,457.0C1298.6,468.6 1289.3,480.1 1279.9,491.7C1270.6,503.3 1261.2,514.9 1251.6,526.5C1242.1,538.1 1232.5,549.7 1222.8,561.3C1213.0,572.8 1198.1,590.2 1193.2,596.0" fill="none" stroke="#1c4a28" stroke-width="0.7" stroke-opacity="0.24677372771947095" stroke-linecap="round" stroke-dasharray="26 5 10 19"/>
<path d="M1281.2,486.8C1276.7,492.4 1263.3,509.1 1254.2,520.2C1245.1,531.3 1236.0,542.5 1226.7,553.6C1217.4,564.7 1208.0,575.9 1198.5,587.0C1189.1,598.1 1179.7,609.2 1170.1,620.4C1160.5,631.5 1150.7,642.6 1140.9,653.8C1131.2,664.9 1121.4,676.0 1111.5,687.2C1101.7,698.3 1090.8,709.4 1081.8,720.5C1072.8,731.7 1061.6,748.4 1057.5,753.9" fill="none" stroke="#1c4a28" stroke-width="1.1" stroke-opacity="0.4478465755445663" stroke-linecap="round" stroke-dasharray="15 11 5 9"/>
<path d="M1359.1,292.2C1354.1,300.0 1339.1,323.4 1328.9,339.1C1318.7,354.7 1308.4,370.3 1298.1,386.0C1287.7,401.6 1277.2,417.3 1266.6,432.9C1256.0,448.5 1245.3,464.2 1234.4,479.8C1223.5,495.4 1212.4,511.1 1201.2,526.7C1190.0,542.3 1178.6,558.0 1167.0,573.6C1155.5,589.2 1143.9,604.9 1132.0,620.5C1120.1,636.1 1101.8,659.6 1095.7,667.4" fill="none" stroke="#1c4a28" stroke-width="1.1" stroke-opacity="0.42197661478918197" stroke-linecap="round" stroke-dasharray="37 21 10 15"/>
<path d="M1443.7,95.9C1439.0,101.9 1425.1,119.9 1415.8,131.9C1406.5,143.9 1397.3,155.9 1388.1,167.9C1378.8,179.9 1369.6,191.9 1360.4,203.9C1351.2,215.9 1342.1,227.8 1332.9,239.8C1323.8,251.8 1314.6,263.8 1305.5,275.8C1296.3,287.8 1287.2,299.8 1278.0,311.8C1268.8,323.8 1259.6,335.8 1250.4,347.8C1241.2,359.8 1227.3,377.8 1222.7,383.8" fill="none" stroke="#1c4a28" stroke-width="1.1" stroke-opacity="0.43295184712806617" stroke-linecap="round" stroke-dasharray="27 24 3 7"/>
<path d="M1452.4,298.2C1449.1,303.2 1439.2,318.1 1432.5,328.0C1425.8,337.9 1419.1,347.8 1412.2,357.7C1405.3,367.7 1398.2,377.6 1391.2,387.5C1384.1,397.4 1377.1,407.3 1369.9,417.2C1362.7,427.2 1355.3,437.1 1347.9,447.0C1340.5,456.9 1333.1,466.8 1325.6,476.7C1318.1,486.7 1310.4,496.6 1302.7,506.5C1295.1,516.4 1283.4,531.3 1279.5,536.3" fill="none" stroke="#1c4a28" stroke-width="0.9" stroke-opacity="0.36663256246407405" stroke-linecap="round" stroke-dasharray="33 7 8 9"/>
<path d="M1445.4,68.9C1441.3,74.5 1428.8,91.5 1420.6,102.9C1412.3,114.2 1404.2,125.6 1396.2,136.9C1388.2,148.2 1380.2,159.6 1372.3,170.9C1364.4,182.2 1356.5,193.6 1348.8,204.9C1341.0,216.3 1333.3,227.6 1325.6,238.9C1317.9,250.3 1310.2,261.6 1302.6,272.9C1294.9,284.3 1287.3,295.6 1279.7,306.9C1272.1,318.3 1260.6,335.3 1256.8,341.0" fill="none" stroke="#1c4a28" stroke-width="0.7" stroke-opacity="0.468203623397249" stroke-linecap="round" stroke-dasharray="10 12 12 17"/>
<path d="M1474.9,246.2C1471.0,252.3 1459.5,270.7 1451.7,282.9C1443.8,295.2 1435.9,307.4 1427.9,319.7C1419.8,331.9 1411.6,344.2 1403.3,356.4C1395.0,368.7 1386.5,380.9 1377.9,393.2C1369.4,405.4 1360.7,417.7 1352.0,429.9C1343.2,442.2 1334.4,454.4 1325.4,466.7C1316.3,478.9 1307.1,491.2 1297.9,503.4C1288.6,515.7 1274.5,534.0 1269.8,540.2" fill="none" stroke="#1c4a28" stroke-width="1.1" stroke-opacity="0.4824503382615502" stroke-linecap="round" stroke-dasharray="30 27 11 9"/>
<path d="M1586.7,121.3C1583.6,126.9 1574.4,143.9 1568.2,155.1C1562.0,166.4 1555.7,177.7 1549.3,189.0C1542.9,200.3 1536.5,211.6 1530.0,222.9C1523.4,234.1 1516.8,245.4 1510.0,256.7C1503.2,268.0 1496.3,279.3 1489.2,290.6C1482.2,301.8 1475.2,313.1 1468.0,324.4C1460.7,335.7 1453.4,347.0 1445.9,358.3C1438.4,369.6 1426.8,386.5 1422.9,392.1" fill="none" stroke="#1c4a28" stroke-width="0.9" stroke-opacity="0.31770931357618737" stroke-linecap="round" stroke-dasharray="18 21 6 8"/>
<path d="M1359.0,468.5C1355.7,472.5 1345.9,484.5 1339.4,492.5C1332.8,500.5 1326.3,508.5 1319.7,516.4C1313.1,524.4 1306.3,532.4 1299.6,540.4C1292.8,548.4 1286.1,556.4 1279.3,564.4C1272.5,572.4 1265.5,580.3 1258.6,588.3C1251.6,596.3 1244.8,604.3 1237.8,612.3C1230.8,620.3 1223.7,628.3 1216.6,636.3C1209.6,644.2 1198.9,656.2 1195.4,660.2" fill="none" stroke="#1c4a28" stroke-width="0.7" stroke-opacity="0.39807695455741127" stroke-linecap="round" stroke-dasharray="13 27 12 9"/>
<path d="M1394.6,263.6C1388.6,272.3 1370.7,298.4 1358.6,315.8C1346.4,333.2 1334.1,350.6 1321.7,367.9C1309.3,385.3 1296.7,402.7 1283.9,420.1C1271.2,437.5 1258.3,454.9 1245.1,472.3C1232.0,489.6 1218.7,507.0 1205.2,524.4C1191.7,541.8 1178.0,559.2 1164.0,576.6C1150.1,594.0 1136.0,611.4 1121.7,628.7C1107.3,646.1 1085.4,672.2 1078.1,680.9" fill="none" stroke="#1c4a28" stroke-width="0.9" stroke-opacity="0.24843981796426376" stroke-linecap="round" stroke-dasharray="22 17 5 8"/>
<path d="M1362.0,203.0C1358.3,208.0 1347.3,223.1 1340.0,233.1C1332.7,243.2 1325.4,253.2 1318.1,263.3C1310.8,273.3 1303.5,283.4 1296.2,293.4C1288.9,303.5 1281.6,313.6 1274.3,323.6C1267.0,333.7 1259.6,343.7 1252.3,353.8C1244.9,363.8 1237.5,373.9 1230.2,383.9C1222.8,394.0 1215.5,404.0 1208.0,414.1C1200.6,424.1 1189.3,439.2 1185.5,444.2" fill="none" stroke="#1c4a28" stroke-width="0.7" stroke-opacity="0.41094541255701034" stroke-linecap="round" stroke-dasharray="20 17 5 24"/>
<path d="M1445.9,414.2C1441.0,421.4 1426.7,443.0 1416.9,457.4C1407.0,471.8 1396.9,486.2 1386.7,500.6C1376.4,515.0 1366.0,529.5 1355.5,543.9C1344.9,558.3 1334.1,572.7 1323.3,587.1C1312.4,601.5 1301.4,615.9 1290.4,630.3C1279.4,644.7 1268.2,659.1 1257.1,673.5C1246.1,688.0 1234.2,702.4 1224.1,716.8C1214.0,731.2 1201.0,752.8 1196.4,760.0" fill="none" stroke="#1c4a28" stroke-width="0.9" stroke-opacity="0.27966928170305594" stroke-linecap="round" stroke-dasharray="9 24 5 7"/>
<path d="M1447.2,358.0C1441.6,366.4 1425.2,391.5 1413.9,408.2C1402.5,425.0 1390.9,441.7 1379.0,458.5C1367.1,475.2 1355.0,492.0 1342.6,508.7C1330.3,525.5 1317.7,542.2 1304.9,559.0C1292.1,575.7 1279.1,592.5 1266.0,609.2C1252.8,626.0 1239.5,642.7 1226.1,659.5C1212.7,676.2 1198.0,693.0 1185.8,709.7C1173.5,726.5 1158.0,751.6 1152.4,760.0" fill="none" stroke="#1c4a28" stroke-width="1.1" stroke-opacity="0.36097966712528057" stroke-linecap="round" stroke-dasharray="24 17 5 10"/>
<path d="M1207.7,467.6C1204.5,472.3 1194.8,486.2 1188.3,495.5C1181.8,504.7 1175.2,514.0 1168.6,523.3C1162.1,532.6 1155.5,541.8 1148.8,551.1C1142.1,560.4 1135.1,569.7 1128.3,578.9C1121.5,588.2 1114.7,597.5 1107.7,606.8C1100.8,616.0 1093.6,625.3 1086.5,634.6C1079.4,643.9 1072.2,653.2 1065.0,662.4C1057.8,671.7 1046.8,685.6 1043.1,690.3" fill="none" stroke="#1c4a28" stroke-width="0.7" stroke-opacity="0.22656977653867438" stroke-linecap="round" stroke-dasharray="16 20 4 10"/>
<path d="M1452.8,189.6C1448.5,195.8 1435.4,214.5 1426.6,227.0C1417.8,239.5 1409.1,251.9 1400.1,264.4C1391.2,276.9 1382.2,289.4 1373.1,301.8C1364.0,314.3 1354.9,326.8 1345.7,339.2C1336.4,351.7 1327.1,364.2 1317.8,376.7C1308.4,389.1 1299.0,401.6 1289.4,414.1C1279.8,426.5 1270.1,439.0 1260.3,451.5C1250.5,464.0 1235.7,482.7 1230.8,488.9" fill="none" stroke="#1c4a28" stroke-width="0.7" stroke-opacity="0.2803579240032362" stroke-linecap="round" stroke-dasharray="12 18 4 6"/>
<path d="M1460.8,110.6C1455.0,118.9 1437.4,144.0 1425.7,160.8C1414.1,177.5 1402.5,194.3 1390.9,211.0C1379.3,227.7 1367.8,244.5 1356.2,261.2C1344.6,278.0 1332.9,294.7 1321.2,311.4C1309.5,328.2 1297.7,344.9 1285.8,361.6C1273.9,378.4 1262.0,395.1 1249.9,411.9C1237.8,428.6 1225.6,445.3 1213.2,462.1C1200.9,478.8 1181.9,503.9 1175.7,512.3" fill="none" stroke="#1c4a28" stroke-width="0.7" stroke-opacity="0.35932575186974913" stroke-linecap="round" stroke-dasharray="15 16 9 10"/>
<path d="M1646.5,38.5C1644.8,41.7 1639.5,51.4 1636.0,57.8C1632.4,64.3 1628.9,70.8 1625.3,77.2C1621.7,83.7 1618.1,90.1 1614.6,96.6C1611.0,103.0 1607.4,109.5 1603.7,116.0C1600.1,122.4 1596.3,128.9 1592.6,135.3C1588.9,141.8 1585.1,148.3 1581.4,154.7C1577.6,161.2 1573.8,167.6 1569.9,174.1C1566.1,180.5 1560.2,190.2 1558.2,193.5" fill="none" stroke="#1c4a28" stroke-width="1.1" stroke-opacity="0.4934154879811179" stroke-linecap="round" stroke-dasharray="24 10 6 18"/>
<path d="M1400.3,267.5C1395.2,275.3 1379.9,298.8 1369.5,314.4C1359.1,330.1 1348.6,345.7 1338.0,361.3C1327.4,377.0 1316.6,392.6 1305.7,408.3C1294.8,423.9 1283.8,439.5 1272.6,455.2C1261.4,470.8 1250.0,486.5 1238.6,502.1C1227.1,517.7 1215.5,533.4 1203.7,549.0C1191.8,564.6 1179.8,580.3 1167.6,595.9C1155.3,611.6 1136.6,635.0 1130.4,642.8" fill="none" stroke="#1c4a28" stroke-width="1.1" stroke-opacity="0.3520057856465497" stroke-linecap="round" stroke-dasharray="30 30 5 21"/>
<path d="M1568.9,89.9C1563.7,98.5 1548.1,124.6 1537.5,142.0C1526.8,159.4 1516.1,176.8 1505.2,194.1C1494.3,211.5 1483.3,228.9 1472.0,246.3C1460.7,263.7 1449.3,281.1 1437.6,298.4C1425.9,315.8 1414.0,333.2 1401.8,350.6C1389.6,368.0 1377.2,385.3 1364.6,402.7C1351.9,420.1 1339.0,437.5 1325.9,454.9C1312.8,472.2 1292.6,498.3 1285.9,507.0" fill="none" stroke="#1c4a28" stroke-width="0.7" stroke-opacity="0.45109650149155833" stroke-linecap="round" stroke-dasharray="8 20 11 13"/>
<path d="M1201.1,440.6C1196.1,447.3 1181.2,467.2 1171.1,480.6C1160.9,493.9 1150.6,507.2 1140.2,520.5C1129.9,533.8 1119.5,547.1 1109.0,560.4C1098.4,573.7 1087.7,587.0 1076.9,600.3C1066.0,613.6 1054.9,626.9 1043.8,640.2C1032.7,653.5 1021.7,666.9 1010.2,680.2C998.7,693.5 984.6,706.8 974.8,720.1C965.0,733.4 955.3,753.3 951.4,760.0" fill="none" stroke="#1c4a28" stroke-width="0.9" stroke-opacity="0.28457998469198886" stroke-linecap="round" stroke-dasharray="16 12 7 7"/>
<path d="M1342.3,202.1C1338.3,207.0 1326.1,222.0 1318.0,231.9C1310.0,241.9 1301.9,251.8 1293.9,261.8C1285.8,271.7 1277.7,281.7 1269.7,291.6C1261.6,301.6 1253.6,311.5 1245.5,321.5C1237.4,331.4 1229.3,341.4 1221.3,351.3C1213.2,361.3 1205.1,371.2 1197.0,381.2C1188.9,391.1 1180.8,401.1 1172.7,411.0C1164.5,421.0 1152.2,435.9 1148.1,440.9" fill="none" stroke="#1c4a28" stroke-width="0.9" stroke-opacity="0.2970601683358397" stroke-linecap="round" stroke-dasharray="9 27 4 8"/>
<path d="M1394.5,257.3C1390.6,263.3 1379.1,281.1 1371.3,293.0C1363.5,304.9 1355.7,316.9 1347.9,328.8C1340.0,340.7 1332.1,352.6 1324.1,364.5C1316.1,376.4 1308.0,388.3 1299.9,400.2C1291.7,412.1 1283.5,424.0 1275.2,435.9C1266.9,447.8 1258.6,459.7 1250.1,471.6C1241.7,483.5 1233.0,495.4 1224.4,507.3C1215.8,519.3 1202.6,537.1 1198.3,543.1" fill="none" stroke="#1c4a28" stroke-width="0.7" stroke-opacity="0.3514206918542938" stroke-linecap="round" stroke-dasharray="8 11 3 12"/>
<path d="M1451.5,169.8C1447.4,176.5 1434.8,196.5 1426.5,209.8C1418.1,223.2 1409.8,236.5 1401.4,249.8C1393.0,263.2 1384.6,276.5 1376.1,289.8C1367.6,303.2 1359.1,316.5 1350.5,329.8C1341.9,343.2 1333.2,356.5 1324.4,369.8C1315.7,383.2 1306.8,396.5 1297.9,409.8C1288.9,423.2 1279.8,436.5 1270.6,449.8C1261.4,463.2 1247.4,483.2 1242.8,489.8" fill="none" stroke="#1c4a28" stroke-width="1.1" stroke-opacity="0.48729115395811845" stroke-linecap="round" stroke-dasharray="35 8 11 20"/>
<path d="M1644.6,20.0C1639.8,27.8 1625.3,51.1 1615.5,66.7C1605.7,82.3 1595.8,97.8 1585.8,113.4C1575.8,129.0 1565.8,144.5 1555.7,160.1C1545.6,175.7 1535.3,191.2 1524.9,206.8C1514.5,222.4 1504.1,237.9 1493.5,253.5C1482.9,269.1 1472.2,284.6 1461.4,300.2C1450.6,315.8 1439.7,331.2 1428.6,346.8C1417.5,362.4 1406.3,377.9 1395.0,393.5C1383.7,409.1 1372.1,424.6 1360.5,440.2C1348.9,455.8 1337.1,471.3 1325.2,486.9C1313.3,502.5 1301.2,518.0 1289.0,533.6C1276.8,549.2 1264.3,564.7 1251.7,580.3C1239.1,595.9 1219.9,619.2 1213.5,627.0" fill="none" stroke="#4a5a60" stroke-width="3.2" stroke-opacity="0.95" stroke-linecap="round" />
<path d="M1644.6,20.0C1639.8,27.8 1625.3,51.1 1615.5,66.7C1605.7,82.3 1595.8,97.8 1585.8,113.4C1575.8,129.0 1565.8,144.5 1555.7,160.1C1545.6,175.7 1535.3,191.2 1524.9,206.8C1514.5,222.4 1504.1,237.9 1493.5,253.5C1482.9,269.1 1472.2,284.6 1461.4,300.2C1450.6,315.8 1439.7,331.2 1428.6,346.8C1417.5,362.4 1406.3,377.9 1395.0,393.5C1383.7,409.1 1372.1,424.6 1360.5,440.2C1348.9,455.8 1337.1,471.3 1325.2,486.9C1313.3,502.5 1301.2,518.0 1289.0,533.6C1276.8,549.2 1264.3,564.7 1251.7,580.3C1239.1,595.9 1219.9,619.2 1213.5,627.0" fill="none" stroke="#b8c0c0" stroke-width="0.9" stroke-opacity="0.8" stroke-linecap="round" />
<path d="M1510.8,20.0C1509.0,26.9 1504.0,47.7 1499.8,61.5C1495.6,75.3 1490.9,89.1 1485.8,102.9C1480.7,116.7 1475.0,130.6 1469.1,144.4C1463.2,158.2 1456.9,172.1 1450.3,185.9C1443.7,199.7 1436.7,213.5 1429.5,227.3C1422.3,241.1 1414.8,255.0 1407.1,268.8C1399.4,282.6 1391.3,296.5 1383.1,310.3C1374.9,324.1 1366.4,337.9 1357.8,351.7C1349.2,365.5 1340.3,379.4 1331.2,393.2C1322.1,407.0 1312.8,420.9 1303.2,434.7C1293.7,448.5 1283.9,462.3 1273.9,476.1C1263.9,489.9 1253.7,503.8 1243.2,517.6C1232.7,531.4 1221.9,545.3 1210.8,559.1C1199.7,572.9 1188.4,586.7 1176.6,600.5C1164.8,614.3 1146.3,635.1 1140.2,642.0" fill="none" stroke="#4a5a60" stroke-width="2.8" stroke-opacity="0.95" stroke-linecap="round" />
<path d="M1510.8,20.0C1509.0,26.9 1504.0,47.7 1499.8,61.5C1495.6,75.3 1490.9,89.1 1485.8,102.9C1480.7,116.7 1475.0,130.6 1469.1,144.4C1463.2,158.2 1456.9,172.1 1450.3,185.9C1443.7,199.7 1436.7,213.5 1429.5,227.3C1422.3,241.1 1414.8,255.0 1407.1,268.8C1399.4,282.6 1391.3,296.5 1383.1,310.3C1374.9,324.1 1366.4,337.9 1357.8,351.7C1349.2,365.5 1340.3,379.4 1331.2,393.2C1322.1,407.0 1312.8,420.9 1303.2,434.7C1293.7,448.5 1283.9,462.3 1273.9,476.1C1263.9,489.9 1253.7,503.8 1243.2,517.6C1232.7,531.4 1221.9,545.3 1210.8,559.1C1199.7,572.9 1188.4,586.7 1176.6,600.5C1164.8,614.3 1146.3,635.1 1140.2,642.0" fill="none" stroke="#b8c0c0" stroke-width="0.9" stroke-opacity="0.8" stroke-linecap="round" />
<path d="M1489.7,31.8C1486.5,37.7 1476.8,55.7 1470.4,67.3C1463.9,78.9 1457.1,90.9 1451.0,101.7C1445.0,112.4 1439.9,121.0 1433.8,131.8C1427.8,142.5 1420.9,154.4 1414.5,166.2C1408.0,178.0 1400.2,193.1 1395.1,202.7C1390.1,212.4 1399.4,194.5 1384.4,224.0C1369.4,253.6 1321.7,349.3 1305.3,380.0C1288.9,410.7 1292.8,397.9 1286.0,407.9C1279.2,418.0 1271.7,429.8 1264.5,440.2C1257.3,450.6 1250.2,460.3 1243.0,470.3C1235.8,480.3 1228.7,490.4 1221.5,500.4C1214.3,510.4 1203.6,525.5 1200.0,530.5" fill="none" stroke="#33484c" stroke-width="1.6" stroke-opacity="0.9" stroke-linecap="round" />
<path d="M1477.5,40.0C1471.6,48.0 1453.6,72.0 1442.0,88.0C1430.5,104.0 1419.2,120.0 1408.0,136.0C1396.8,152.0 1385.7,168.0 1374.7,184.0C1363.6,200.0 1352.6,216.0 1341.7,232.0C1330.8,248.0 1320.1,264.0 1309.3,280.0C1298.4,296.0 1287.7,312.0 1276.9,328.0C1266.0,344.0 1255.2,360.0 1244.3,376.0C1233.4,392.0 1222.5,408.0 1211.5,424.0C1200.4,440.0 1189.4,456.0 1178.1,472.0C1166.9,488.0 1149.7,512.0 1144.0,520.0" fill="none" stroke="#33484c" stroke-width="1.5" stroke-opacity="0.85" stroke-linecap="round" />
<path d="M1475.0,120.0C1469.3,128.7 1452.3,154.7 1440.9,172.0C1429.5,189.3 1418.1,206.7 1406.8,224.0C1395.4,241.3 1384.1,258.7 1372.6,276.0C1361.1,293.3 1349.6,310.7 1337.9,328.0C1326.2,345.3 1314.5,362.7 1302.5,380.0C1290.6,397.3 1278.5,414.7 1266.3,432.0C1254.1,449.3 1241.8,466.7 1229.2,484.0C1216.6,501.3 1203.9,518.7 1190.9,536.0C1178.0,553.3 1164.8,570.7 1151.4,588.0C1138.0,605.3 1117.4,631.3 1110.6,640.0" fill="none" stroke="#33484c" stroke-width="1.6" stroke-opacity="0.85" stroke-linecap="round" />
<path d="M1459.5,200.0C1454.4,208.0 1439.1,232.0 1428.8,248.0C1418.4,264.0 1408.0,280.0 1397.4,296.0C1386.8,312.0 1376.1,328.0 1365.3,344.0C1354.4,360.0 1343.4,376.0 1332.2,392.0C1321.0,408.0 1309.7,424.0 1298.2,440.0C1286.7,456.0 1275.1,472.0 1263.2,488.0C1251.4,504.0 1239.4,520.0 1227.2,536.0C1215.0,552.0 1202.6,568.0 1190.0,584.0C1177.4,600.0 1164.7,616.0 1151.8,632.0C1138.9,648.0 1119.3,672.0 1112.8,680.0" fill="none" stroke="#33484c" stroke-width="1.8" stroke-opacity="0.85" stroke-linecap="round" />
<path d="M1585.2,30.0C1578.5,41.2 1558.4,74.7 1545.0,97.0C1531.7,119.3 1518.5,141.7 1504.9,164.0C1491.4,186.3 1477.8,208.7 1463.9,231.0C1450.0,253.3 1436.0,275.7 1421.5,298.0C1407.1,320.3 1392.6,342.7 1377.5,365.0C1362.4,387.3 1346.8,409.7 1331.0,432.0C1315.1,454.3 1299.0,476.7 1282.5,499.0C1266.0,521.3 1249.1,543.7 1231.9,566.0C1214.6,588.3 1196.9,610.7 1179.0,633.0C1161.1,655.3 1133.6,688.8 1124.5,700.0" fill="none" stroke="#33484c" stroke-width="1.4" stroke-opacity="0.85" stroke-linecap="round" />
<path d="M1548.3,150.0C1542.6,159.5 1525.7,188.0 1514.0,207.0C1502.4,226.0 1490.6,245.0 1478.4,264.0C1466.2,283.0 1453.8,302.0 1441.0,321.0C1428.2,340.0 1415.1,359.0 1401.7,378.0C1388.2,397.0 1374.5,416.0 1360.5,435.0C1346.5,454.0 1332.2,473.0 1317.6,492.0C1303.0,511.0 1288.2,530.0 1273.1,549.0C1258.0,568.0 1242.5,587.0 1226.9,606.0C1211.3,625.0 1195.4,644.0 1179.5,663.0C1163.5,682.0 1139.5,710.5 1131.5,720.0" fill="none" stroke="#33484c" stroke-width="1.8" stroke-opacity="0.85" stroke-linecap="round" />
<path d="M1288.1,300.0C1283.5,306.7 1269.7,326.7 1260.5,340.0C1251.4,353.3 1242.2,366.7 1232.9,380.0C1223.7,393.3 1214.5,406.7 1205.2,420.0C1195.8,433.3 1186.5,446.7 1177.0,460.0C1167.5,473.3 1158.0,486.7 1148.4,500.0C1138.8,513.3 1129.3,526.7 1119.4,540.0C1109.6,553.3 1099.5,566.7 1089.5,580.0C1079.4,593.3 1069.4,606.7 1059.0,620.0C1048.6,633.3 1038.1,646.7 1027.3,660.0C1016.6,673.3 1000.1,693.3 994.7,700.0" fill="none" stroke="#33484c" stroke-width="1.6" stroke-opacity="0.85" stroke-linecap="round" />
<path d="M1300.2,330.0C1295.5,336.8 1281.3,357.3 1271.8,371.0C1262.3,384.7 1252.8,398.3 1243.1,412.0C1233.5,425.7 1223.7,439.3 1213.9,453.0C1204.1,466.7 1194.2,480.3 1184.3,494.0C1174.3,507.7 1164.2,521.3 1154.0,535.0C1143.8,548.7 1133.3,562.3 1122.9,576.0C1112.4,589.7 1102.0,603.3 1091.2,617.0C1080.4,630.7 1069.4,644.3 1058.3,658.0C1047.2,671.7 1035.8,685.3 1024.5,699.0C1013.2,712.7 996.1,733.2 990.4,740.0" fill="none" stroke="#33484c" stroke-width="2.0" stroke-opacity="0.85" stroke-linecap="round" />
<path d="M1267.9,420.0C1263.7,425.5 1251.4,442.1 1243.2,453.2C1234.9,464.3 1226.6,475.3 1218.2,486.4C1209.8,497.5 1201.2,508.5 1192.7,519.6C1184.1,530.7 1175.6,541.7 1166.8,552.8C1158.1,563.9 1149.1,574.9 1140.2,586.0C1131.3,597.1 1122.5,608.1 1113.4,619.2C1104.3,630.3 1094.9,641.3 1085.7,652.4C1076.4,663.5 1067.2,674.5 1057.7,685.6C1048.2,696.7 1037.6,707.7 1028.9,718.8C1020.1,729.9 1009.1,746.5 1005.2,752.0" fill="none" stroke="#33484c" stroke-width="2.2" stroke-opacity="0.85" stroke-linecap="round" />
<path d="M1254.3,500.0C1250.9,504.2 1240.8,516.8 1234.1,525.2C1227.3,533.6 1220.5,542.0 1213.6,550.4C1206.7,558.8 1199.6,567.2 1192.6,575.6C1185.6,584.0 1178.6,592.4 1171.5,600.8C1164.5,609.2 1157.3,617.6 1150.1,626.0C1142.9,634.4 1135.6,642.8 1128.3,651.2C1121.1,659.6 1113.9,668.0 1106.5,676.4C1099.1,684.8 1091.5,693.2 1084.0,701.6C1076.6,710.0 1068.7,718.4 1062.0,726.8C1055.4,735.2 1047.1,747.8 1044.1,752.0" fill="none" stroke="#33484c" stroke-width="2.2" stroke-opacity="0.85" stroke-linecap="round" />
<path d="M1247.2,560.0C1244.5,563.2 1236.3,572.8 1230.9,579.2C1225.4,585.6 1219.9,592.0 1214.5,598.4C1209.0,604.8 1203.5,611.2 1197.9,617.6C1192.4,624.0 1186.7,630.4 1181.1,636.8C1175.4,643.2 1169.8,649.6 1164.2,656.0C1158.6,662.4 1153.0,668.8 1147.3,675.2C1141.6,681.6 1135.8,688.0 1130.1,694.4C1124.3,700.8 1118.4,707.2 1112.8,713.6C1107.2,720.0 1101.4,726.4 1096.5,732.8C1091.5,739.2 1085.3,748.8 1083.1,752.0" fill="none" stroke="#33484c" stroke-width="2.0" stroke-opacity="0.85" stroke-linecap="round" />
<path d="M1250.6,600.0C1248.4,602.5 1242.0,610.1 1237.6,615.2C1233.2,620.3 1228.8,625.3 1224.4,630.4C1220.0,635.5 1215.5,640.5 1211.1,645.6C1206.7,650.7 1202.3,655.7 1197.9,660.8C1193.5,665.9 1189.1,670.9 1184.6,676.0C1180.2,681.1 1175.7,686.1 1171.2,691.2C1166.7,696.3 1162.1,701.3 1157.7,706.4C1153.3,711.5 1149.0,716.5 1144.8,721.6C1140.6,726.7 1136.2,731.7 1132.4,736.8C1128.6,741.9 1123.7,749.5 1122.0,752.0" fill="none" stroke="#33484c" stroke-width="1.8" stroke-opacity="0.85" stroke-linecap="round" />
<path d="M1378.2,480.0C1374.8,484.5 1364.7,498.1 1357.9,507.2C1351.0,516.3 1344.1,525.3 1337.1,534.4C1330.2,543.5 1323.2,552.5 1316.1,561.6C1309.0,570.7 1301.8,579.7 1294.6,588.8C1287.4,597.9 1280.2,606.9 1272.9,616.0C1265.6,625.1 1258.2,634.1 1250.8,643.2C1243.5,652.3 1236.2,661.3 1228.8,670.4C1221.4,679.5 1213.7,688.5 1206.5,697.6C1199.2,706.7 1191.9,715.7 1185.2,724.8C1178.6,733.9 1169.6,747.5 1166.5,752.0" fill="none" stroke="#33484c" stroke-width="1.6" stroke-opacity="0.85" stroke-linecap="round" />
<path d="M1509.1,45.8C1510.9,51.5 1515.2,69.4 1519.8,80.2C1524.5,90.9 1529.5,100.6 1537.0,110.3C1544.6,120.0 1556.7,130.7 1565.0,138.2C1573.2,145.8 1579.3,150.4 1586.5,155.4C1593.7,160.5 1604.4,166.2 1608.0,168.3" fill="none" stroke="#33484c" stroke-width="1.4" stroke-opacity="0.8" stroke-linecap="round" />
<path d="M1429.5,123.2C1430.6,126.8 1432.1,137.5 1436.0,144.7C1439.9,151.9 1446.7,159.4 1453.2,166.2C1459.6,173.0 1466.8,179.1 1474.7,185.5C1482.6,192.0 1492.6,199.5 1500.5,204.9C1508.4,210.3 1518.4,215.6 1522.0,217.8" fill="none" stroke="#33484c" stroke-width="1.3" stroke-opacity="0.8" stroke-linecap="round" />
<path d="M1507.4,32.9C1508.2,37.9 1508.5,52.6 1511.7,63.0C1515.0,73.4 1520.7,85.2 1526.8,95.2C1532.9,105.3 1541.2,115.7 1548.3,123.2C1555.4,130.7 1566.0,137.5 1569.6,140.4" fill="none" stroke="#33484c" stroke-width="1.2" stroke-opacity="0.6" stroke-linecap="round" />
<path d="M1436.0,55.5C1437.8,54.4 1439.8,63.4 1441.4,65.1C1443.0,66.9 1443.7,64.1 1445.7,66.2C1447.6,68.4 1453.4,77.0 1453.2,78.0C1453.0,79.1 1446.6,71.6 1444.6,72.7C1442.6,73.7 1442.8,78.9 1441.4,84.5C1439.9,90.1 1437.9,99.5 1436.0,106.0C1434.1,112.4 1431.2,123.2 1430.0,123.2C1428.7,123.2 1428.8,111.7 1428.5,106.0C1428.1,100.3 1427.5,94.5 1427.8,88.8C1428.2,83.1 1429.3,77.2 1430.6,71.6C1432.0,66.0 1434.2,56.5 1436.0,55.5Z" fill="#4c5256" />
<path d="M1513.4,84.5C1516.1,84.0 1520.3,85.2 1522.0,88.8C1523.7,92.4 1524.1,104.2 1523.7,106.0C1523.4,107.8 1521.6,101.5 1519.8,99.5C1518.1,97.6 1515.9,94.2 1513.4,94.2C1510.9,94.2 1506.9,98.1 1504.8,99.5C1502.6,101.0 1500.3,104.0 1500.5,102.8C1500.7,101.5 1503.7,95.1 1505.9,92.0C1508.0,89.0 1510.7,85.0 1513.4,84.5Z" fill="#4c5256" />
<path d="M1548.9,43.6C1549.0,42.2 1551.9,38.6 1554.2,37.2C1556.6,35.8 1560.0,34.0 1562.8,35.0C1565.7,36.1 1571.1,42.4 1571.4,43.6C1571.8,44.9 1567.1,42.8 1565.0,42.6C1562.8,42.4 1560.5,42.0 1558.5,42.6C1556.6,43.1 1554.8,45.6 1553.2,45.8C1551.6,46.0 1548.7,45.1 1548.9,43.6Z" fill="#4c5256" />
<path d="M1626.3,30.7C1629.0,29.3 1638.1,28.8 1639.2,30.7C1640.2,32.7 1634.7,39.0 1632.7,42.6C1630.7,46.2 1628.8,48.8 1627.3,52.2C1625.9,55.7 1624.8,59.1 1624.1,63.0C1623.4,66.9 1623.5,75.9 1623.0,75.9C1622.6,75.9 1621.6,67.3 1621.3,63.0C1621.0,58.7 1621.0,54.0 1621.3,50.1C1621.6,46.2 1622.2,42.6 1623.0,39.3C1623.9,36.1 1623.6,32.2 1626.3,30.7Z" fill="#3a5a70" fill-opacity="0.85"/>
<path d="M1503.7,31.8C1505.8,30.2 1513.9,29.9 1515.5,31.8C1517.2,33.8 1514.3,39.5 1513.4,43.6C1512.5,47.8 1511.1,53.0 1510.2,56.5C1509.3,60.1 1508.8,65.5 1508.0,65.1C1507.2,64.8 1506.0,58.3 1505.2,54.4C1504.4,50.5 1503.3,45.3 1503.1,41.5C1502.8,37.7 1501.6,33.4 1503.7,31.8Z" fill="#4c5256" />
<path d="M1415.0,32.9C1418.4,31.3 1425.4,32.9 1425.7,34.0C1426.1,35.0 1420.4,37.0 1417.1,39.3C1413.9,41.7 1409.3,45.4 1406.4,47.9C1403.5,50.5 1400.1,55.1 1399.9,54.4C1399.8,53.7 1402.8,47.2 1405.3,43.6C1407.8,40.1 1411.6,34.5 1415.0,32.9Z" fill="#3c5468" />
<path d="M1458.6,97.4C1459.6,95.4 1461.6,94.9 1461.8,96.3C1462.0,97.8 1460.5,102.6 1459.6,106.0C1458.7,109.4 1457.1,116.4 1456.4,116.7C1455.8,117.1 1455.4,111.4 1455.8,108.1C1456.1,104.9 1457.6,99.4 1458.6,97.4Z" fill="#33484c" />
<path d="M1511.2,108.1C1511.9,107.3 1513.3,107.8 1513.4,109.2C1513.5,110.7 1512.4,114.4 1511.7,116.7C1511.0,119.1 1509.5,123.6 1509.1,123.2C1508.7,122.8 1509.2,117.1 1509.5,114.6C1509.9,112.1 1510.6,109.0 1511.2,108.1Z" fill="#33484c" />
<path d="M1580.0,37.2C1580.6,36.7 1581.8,37.0 1581.8,38.3C1581.7,39.5 1580.3,43.1 1579.6,44.7C1578.9,46.3 1577.7,48.5 1577.5,47.9C1577.2,47.4 1577.9,43.3 1578.3,41.5C1578.8,39.7 1579.5,37.7 1580.0,37.2Z" fill="#33484c" />
<path d="M1500.5,206.4C1500.1,208.2 1498.5,213.8 1497.9,217.2C1497.4,220.6 1497.0,224.9 1497.3,226.9C1497.5,228.8 1499.1,228.7 1499.4,229.0" fill="none" stroke="#33484c" stroke-width="1.5" stroke-opacity="1" stroke-linecap="round" />
<path d="M1436.0,359.1C1433.8,361.6 1426.3,369.5 1423.1,374.1C1419.9,378.8 1417.5,383.6 1416.6,387.0C1415.8,390.4 1417.0,393.5 1417.7,394.6C1418.4,395.6 1420.4,393.7 1420.9,393.5" fill="none" stroke="#33484c" stroke-width="1.6" stroke-opacity="1" stroke-linecap="round" />
<g filter="url(#blur1)">
<path d="M1020.9,661.0C1019.5,662.1 1017.4,667.9 1014.5,671.8C1011.6,675.7 1006.1,680.8 1003.7,684.7C1001.4,688.6 1000.2,692.4 1000.5,695.4C1000.9,698.5 1002.9,701.6 1005.9,703.0C1008.9,704.3 1013.8,705.0 1018.8,703.6C1023.8,702.2 1029.5,698.4 1036.0,694.4C1042.4,690.3 1050.3,685.1 1057.5,679.3C1064.7,673.6 1071.8,666.8 1079.0,660.0C1086.2,653.2 1093.3,645.5 1100.5,638.5C1107.7,631.5 1114.8,625.0 1122.0,618.0C1129.2,611.1 1136.3,604.1 1143.5,596.5C1150.7,589.0 1158.5,580.1 1165.0,572.9C1171.4,565.7 1176.5,560.0 1182.2,553.6C1187.9,547.1 1193.7,540.3 1199.4,534.2C1205.1,528.1 1213.9,520.0 1216.6,517.0C1219.3,514.0 1219.0,513.5 1215.7,516.1C1212.5,518.8 1203.5,527.2 1197.2,533.1C1190.9,539.0 1183.3,546.6 1177.9,551.4C1172.5,556.2 1170.7,556.8 1165.0,562.1C1159.3,567.5 1150.7,576.8 1143.5,583.6C1136.3,590.5 1129.2,596.9 1122.0,603.0C1114.8,609.1 1107.7,614.1 1100.5,620.2C1093.3,626.3 1086.2,633.6 1079.0,639.5C1071.8,645.5 1063.9,651.2 1057.5,655.7C1051.0,660.2 1045.0,664.3 1040.3,666.4C1035.6,668.6 1032.4,668.7 1029.5,668.6C1026.7,668.4 1024.5,666.6 1023.1,665.3C1021.7,664.1 1022.4,660.0 1020.9,661.0Z" fill="#7c7c7c" stroke="#2a2a2a" stroke-width="2"/>
<path d="M1012.3,680.4C1011.3,682.7 1006.0,691.3 1006.3,694.4C1006.7,697.4 1009.6,699.9 1014.5,698.7C1019.4,697.4 1028.8,691.3 1036.0,686.8C1043.2,682.4 1050.3,677.5 1057.5,671.8C1064.7,666.1 1071.8,659.1 1079.0,652.4C1086.2,645.8 1093.3,638.8 1100.5,632.0C1107.7,625.2 1114.8,618.4 1122.0,611.6C1129.2,604.8 1136.3,598.3 1143.5,591.2C1150.7,584.0 1157.8,575.9 1165.0,568.6C1172.2,561.3 1179.3,554.3 1186.5,547.1C1193.7,539.9 1204.4,529.2 1208.0,525.6" fill="none" stroke="#ffffff" stroke-width="4.2" stroke-opacity="0.95" stroke-linecap="round" />
</g>
<path d="M1036.0,646.0C1034.2,647.8 1027.5,654.0 1025.2,656.7C1023.0,659.5 1022.0,661.2 1022.7,662.8C1023.4,664.4 1026.6,666.2 1029.5,666.4C1032.5,666.7 1035.6,666.2 1040.3,664.3C1045.0,662.3 1051.0,658.9 1057.5,654.6C1063.9,650.3 1071.8,644.4 1079.0,638.5C1086.2,632.6 1096.9,622.3 1100.5,619.1" fill="none" stroke="#0c38a8" stroke-width="3.6" stroke-opacity="0.9" stroke-linecap="round" />
<path d="M1113.4,534.8C1111.2,538.0 1103.4,548.3 1100.5,554.0C1097.6,559.7 1096.2,564.7 1096.2,569.0C1096.2,573.3 1097.6,578.5 1100.5,580.0C1103.4,581.5 1108.0,580.0 1113.4,577.8C1118.8,575.6 1126.0,571.3 1132.8,567.0C1139.6,562.7 1146.8,557.4 1154.0,552.0C1161.2,546.6 1168.6,540.5 1175.8,534.8C1183.0,529.1 1193.5,520.5 1197.0,517.6" fill="none" stroke="#2a3e44" stroke-width="2.4" stroke-opacity="0.95" stroke-linecap="round" />
<path d="M1113.4,534.8C1111.2,538.0 1103.4,548.3 1100.5,554.0C1097.6,559.7 1096.2,564.7 1096.2,569.0C1096.2,573.3 1097.6,578.5 1100.5,580.0C1103.4,581.5 1108.0,580.0 1113.4,577.8C1118.8,575.6 1126.0,571.3 1132.8,567.0C1139.6,562.7 1146.8,557.4 1154.0,552.0C1161.2,546.6 1168.6,540.5 1175.8,534.8C1183.0,529.1 1193.5,520.5 1197.0,517.6" fill="none" stroke="#c8d0d0" stroke-width="0.8" stroke-opacity="0.7" stroke-linecap="round" />
<path d="M1167.0,455.0C1165.2,458.3 1158.7,468.5 1156.4,474.6C1154.1,480.7 1152.6,487.7 1153.0,491.8C1153.4,495.9 1154.8,498.9 1158.6,499.3C1162.4,499.7 1169.4,497.1 1175.8,494.0C1182.2,490.9 1189.8,485.7 1197.0,481.0C1204.2,476.3 1211.6,471.0 1218.8,466.0C1226.0,461.0 1236.5,453.5 1240.0,451.0" fill="none" stroke="#2a3e44" stroke-width="2.4" stroke-opacity="0.95" stroke-linecap="round" />
<path d="M1167.0,455.0C1165.2,458.3 1158.7,468.5 1156.4,474.6C1154.1,480.7 1152.6,487.7 1153.0,491.8C1153.4,495.9 1154.8,498.9 1158.6,499.3C1162.4,499.7 1169.4,497.1 1175.8,494.0C1182.2,490.9 1189.8,485.7 1197.0,481.0C1204.2,476.3 1211.6,471.0 1218.8,466.0C1226.0,461.0 1236.5,453.5 1240.0,451.0" fill="none" stroke="#c8d0d0" stroke-width="0.8" stroke-opacity="0.7" stroke-linecap="round" />
<path d="M1201.6,408.0C1200.2,411.2 1195.0,421.6 1193.0,427.3C1191.0,433.0 1189.4,438.8 1189.7,442.4C1190.0,446.0 1192.0,448.4 1195.0,448.8C1198.0,449.2 1202.2,447.0 1208.0,444.5C1213.8,442.0 1222.3,438.1 1229.5,433.8C1236.7,429.5 1247.4,421.2 1251.0,418.7" fill="none" stroke="#2a3e44" stroke-width="2.4" stroke-opacity="0.95" stroke-linecap="round" />
<path d="M1201.6,408.0C1200.2,411.2 1195.0,421.6 1193.0,427.3C1191.0,433.0 1189.4,438.8 1189.7,442.4C1190.0,446.0 1192.0,448.4 1195.0,448.8C1198.0,449.2 1202.2,447.0 1208.0,444.5C1213.8,442.0 1222.3,438.1 1229.5,433.8C1236.7,429.5 1247.4,421.2 1251.0,418.7" fill="none" stroke="#c8d0d0" stroke-width="0.8" stroke-opacity="0.7" stroke-linecap="round" />
<path d="M1238.0,362.0C1236.8,364.7 1232.6,373.3 1231.0,378.0C1229.4,382.7 1228.2,387.2 1228.5,390.0C1228.8,392.8 1230.1,394.8 1233.0,395.0C1235.9,395.2 1241.2,393.2 1246.0,391.0C1250.8,388.8 1259.3,383.5 1262.0,382.0" fill="none" stroke="#2a3e44" stroke-width="2.4" stroke-opacity="0.95" stroke-linecap="round" />
<path d="M1238.0,362.0C1236.8,364.7 1232.6,373.3 1231.0,378.0C1229.4,382.7 1228.2,387.2 1228.5,390.0C1228.8,392.8 1230.1,394.8 1233.0,395.0C1235.9,395.2 1241.2,393.2 1246.0,391.0C1250.8,388.8 1259.3,383.5 1262.0,382.0" fill="none" stroke="#c8d0d0" stroke-width="0.8" stroke-opacity="0.7" stroke-linecap="round" />
<path d="M992.0,758.5C992.8,757.4 991.5,755.7 996.8,752.0C1002.2,748.2 1015.2,741.7 1024.0,736.1C1032.9,730.5 1041.7,724.6 1049.7,718.5C1057.7,712.3 1064.9,705.7 1072.1,699.3C1079.3,692.9 1087.6,685.1 1092.9,680.1C1098.2,675.0 1102.2,670.7 1104.1,668.9" fill="none" stroke="#2a3a40" stroke-width="7.0" stroke-opacity="0.9" stroke-linecap="round" />
<path d="M992.0,758.5C992.8,757.4 991.5,755.7 996.8,752.0C1002.2,748.2 1015.2,741.7 1024.0,736.1C1032.9,730.5 1041.7,724.6 1049.7,718.5C1057.7,712.3 1064.9,705.7 1072.1,699.3C1079.3,692.9 1087.6,685.1 1092.9,680.1C1098.2,675.0 1102.2,670.7 1104.1,668.9" fill="none" stroke="#8c8c8c" stroke-width="5.0" stroke-opacity="1" stroke-linecap="round" />
<path d="M992.0,758.5C992.8,757.4 991.5,755.7 996.8,752.0C1002.2,748.2 1015.2,741.7 1024.0,736.1C1032.9,730.5 1041.7,724.6 1049.7,718.5C1057.7,712.3 1064.9,705.7 1072.1,699.3C1079.3,692.9 1087.6,685.1 1092.9,680.1C1098.2,675.0 1102.2,670.7 1104.1,668.9" fill="none" stroke="#f4f4f4" stroke-width="2.0" stroke-opacity="0.95" stroke-linecap="round" />
<path d="M1019.2,758.5C1020.0,757.4 1019.0,755.7 1024.0,752.0C1029.1,748.2 1041.7,741.7 1049.7,736.1C1057.7,730.5 1064.3,724.9 1072.1,718.5C1079.8,712.1 1089.4,703.5 1096.1,697.7C1102.8,691.8 1109.4,685.7 1112.1,683.3" fill="none" stroke="#2a3a40" stroke-width="6.0" stroke-opacity="0.9" stroke-linecap="round" />
<path d="M1019.2,758.5C1020.0,757.4 1019.0,755.7 1024.0,752.0C1029.1,748.2 1041.7,741.7 1049.7,736.1C1057.7,730.5 1064.3,724.9 1072.1,718.5C1079.8,712.1 1089.4,703.5 1096.1,697.7C1102.8,691.8 1109.4,685.7 1112.1,683.3" fill="none" stroke="#8c8c8c" stroke-width="4.0" stroke-opacity="1" stroke-linecap="round" />
<path d="M1019.2,758.5C1020.0,757.4 1019.0,755.7 1024.0,752.0C1029.1,748.2 1041.7,741.7 1049.7,736.1C1057.7,730.5 1064.3,724.9 1072.1,718.5C1079.8,712.1 1089.4,703.5 1096.1,697.7C1102.8,691.8 1109.4,685.7 1112.1,683.3" fill="none" stroke="#f4f4f4" stroke-width="1.6" stroke-opacity="0.95" stroke-linecap="round" />
<path d="M1051.3,758.5C1052.1,757.4 1052.6,755.2 1056.1,752.0C1059.5,748.7 1065.4,744.3 1072.1,739.3C1078.8,734.3 1088.1,727.8 1096.1,721.7C1104.1,715.6 1112.1,709.4 1120.1,702.5C1128.1,695.5 1136.1,687.8 1144.1,680.1C1152.1,672.3 1164.1,660.0 1168.2,656.0" fill="none" stroke="#2a3a40" stroke-width="6.0" stroke-opacity="0.9" stroke-linecap="round" />
<path d="M1051.3,758.5C1052.1,757.4 1052.6,755.2 1056.1,752.0C1059.5,748.7 1065.4,744.3 1072.1,739.3C1078.8,734.3 1088.1,727.8 1096.1,721.7C1104.1,715.6 1112.1,709.4 1120.1,702.5C1128.1,695.5 1136.1,687.8 1144.1,680.1C1152.1,672.3 1164.1,660.0 1168.2,656.0" fill="none" stroke="#8c8c8c" stroke-width="4.0" stroke-opacity="1" stroke-linecap="round" />
<path d="M1051.3,758.5C1052.1,757.4 1052.6,755.2 1056.1,752.0C1059.5,748.7 1065.4,744.3 1072.1,739.3C1078.8,734.3 1088.1,727.8 1096.1,721.7C1104.1,715.6 1112.1,709.4 1120.1,702.5C1128.1,695.5 1136.1,687.8 1144.1,680.1C1152.1,672.3 1164.1,660.0 1168.2,656.0" fill="none" stroke="#f4f4f4" stroke-width="1.6" stroke-opacity="0.95" stroke-linecap="round" />
<path d="M1076.9,758.5C1077.7,757.4 1077.2,755.7 1081.7,752.0C1086.2,748.2 1096.4,742.2 1104.1,736.1C1111.8,730.0 1120.1,722.2 1128.1,715.3C1136.1,708.3 1143.5,702.5 1152.1,694.5C1160.8,686.5 1175.4,671.8 1180.0,667.2" fill="none" stroke="#2a3a40" stroke-width="5.5" stroke-opacity="0.9" stroke-linecap="round" />
<path d="M1076.9,758.5C1077.7,757.4 1077.2,755.7 1081.7,752.0C1086.2,748.2 1096.4,742.2 1104.1,736.1C1111.8,730.0 1120.1,722.2 1128.1,715.3C1136.1,708.3 1143.5,702.5 1152.1,694.5C1160.8,686.5 1175.4,671.8 1180.0,667.2" fill="none" stroke="#8c8c8c" stroke-width="3.5" stroke-opacity="1" stroke-linecap="round" />
<path d="M1076.9,758.5C1077.7,757.4 1077.2,755.7 1081.7,752.0C1086.2,748.2 1096.4,742.2 1104.1,736.1C1111.8,730.0 1120.1,722.2 1128.1,715.3C1136.1,708.3 1143.5,702.5 1152.1,694.5C1160.8,686.5 1175.4,671.8 1180.0,667.2" fill="none" stroke="#f4f4f4" stroke-width="1.4000000000000001" stroke-opacity="0.95" stroke-linecap="round" />
<path d="M1112.1,758.5C1116.1,755.0 1128.1,744.6 1136.1,737.7C1144.1,730.8 1152.8,723.3 1160.1,716.9C1167.5,710.5 1176.7,702.2 1180.0,699.3" fill="none" stroke="#2a3a40" stroke-width="5.0" stroke-opacity="0.9" stroke-linecap="round" />
<path d="M1112.1,758.5C1116.1,755.0 1128.1,744.6 1136.1,737.7C1144.1,730.8 1152.8,723.3 1160.1,716.9C1167.5,710.5 1176.7,702.2 1180.0,699.3" fill="none" stroke="#8c8c8c" stroke-width="3.0" stroke-opacity="1" stroke-linecap="round" />
<path d="M1112.1,758.5C1116.1,755.0 1128.1,744.6 1136.1,737.7C1144.1,730.8 1152.8,723.3 1160.1,716.9C1167.5,710.5 1176.7,702.2 1180.0,699.3" fill="none" stroke="#f4f4f4" stroke-width="1.2000000000000002" stroke-opacity="0.95" stroke-linecap="round" />
<path d="M1143.5,751.3C1150.7,746.0 1172.2,729.5 1186.5,719.1C1200.8,708.7 1215.2,699.7 1229.5,689.0C1243.8,678.2 1265.3,660.3 1272.5,654.6" fill="none" stroke="#2a3a40" stroke-width="4.5" stroke-opacity="0.9" stroke-linecap="round" />
<path d="M1143.5,751.3C1150.7,746.0 1172.2,729.5 1186.5,719.1C1200.8,708.7 1215.2,699.7 1229.5,689.0C1243.8,678.2 1265.3,660.3 1272.5,654.6" fill="none" stroke="#8c8c8c" stroke-width="2.5" stroke-opacity="1" stroke-linecap="round" />
<path d="M1143.5,751.3C1150.7,746.0 1172.2,729.5 1186.5,719.1C1200.8,708.7 1215.2,699.7 1229.5,689.0C1243.8,678.2 1265.3,660.3 1272.5,654.6" fill="none" stroke="#f4f4f4" stroke-width="1.0" stroke-opacity="0.95" stroke-linecap="round" />
<path d="M1186.5,751.3C1193.7,746.0 1215.2,729.8 1229.5,719.1C1243.8,708.3 1259.9,696.5 1272.5,686.8C1285.0,677.2 1299.4,665.3 1304.7,661.0" fill="none" stroke="#2a3a40" stroke-width="4.5" stroke-opacity="0.9" stroke-linecap="round" />
<path d="M1186.5,751.3C1193.7,746.0 1215.2,729.8 1229.5,719.1C1243.8,708.3 1259.9,696.5 1272.5,686.8C1285.0,677.2 1299.4,665.3 1304.7,661.0" fill="none" stroke="#8c8c8c" stroke-width="2.5" stroke-opacity="1" stroke-linecap="round" />
<path d="M1186.5,751.3C1193.7,746.0 1215.2,729.8 1229.5,719.1C1243.8,708.3 1259.9,696.5 1272.5,686.8C1285.0,677.2 1299.4,665.3 1304.7,661.0" fill="none" stroke="#f4f4f4" stroke-width="1.0" stroke-opacity="0.95" stroke-linecap="round" />
<path d="M1043.3,702.5C1040.1,704.6 1031.3,711.3 1024.0,715.3C1016.8,719.3 1007.2,723.0 1000.0,726.5C992.8,730.0 984.8,735.0 980.8,736.1C976.8,737.2 975.5,735.3 976.0,732.9C976.5,730.5 979.2,725.7 984.0,721.7C988.8,717.7 997.6,712.6 1004.8,708.9C1012.0,705.1 1023.5,700.9 1027.2,699.3" fill="none" stroke="#183a20" stroke-width="1" stroke-opacity="0.7" stroke-linecap="round" />
<path d="M1261.2,560.0C1257.3,565.7 1244.4,585.1 1237.6,594.4C1230.8,603.7 1224.3,610.5 1220.4,615.9C1216.5,621.3 1213.9,624.1 1213.9,626.6C1213.9,629.2 1217.2,631.3 1220.4,630.9C1223.6,630.6 1228.3,628.1 1233.3,624.5C1238.3,620.9 1247.6,612.0 1250.5,609.4" fill="none" stroke="#3a4448" stroke-width="3" stroke-opacity="0.9" stroke-linecap="round" />
<path d="M1261.2,560.0C1257.3,565.7 1244.4,585.1 1237.6,594.4C1230.8,603.7 1224.3,610.5 1220.4,615.9C1216.5,621.3 1213.9,624.1 1213.9,626.6C1213.9,629.2 1217.2,631.3 1220.4,630.9C1223.6,630.6 1228.3,628.1 1233.3,624.5C1238.3,620.9 1247.6,612.0 1250.5,609.4" fill="none" stroke="#e0e0e0" stroke-width="1" stroke-opacity="0.8" stroke-linecap="round" />
<path d="M1304.2,566.4C1300.7,570.7 1289.9,583.3 1282.7,592.2C1275.6,601.2 1267.7,611.6 1261.2,620.2C1254.8,628.8 1247.6,638.5 1244.0,643.8C1240.5,649.2 1239.4,650.7 1239.7,652.4C1240.1,654.2 1242.3,656.0 1246.2,654.6C1250.1,653.2 1257.3,648.1 1263.4,643.8C1269.5,639.5 1279.5,631.3 1282.7,628.8" fill="none" stroke="#3a4448" stroke-width="3" stroke-opacity="0.9" stroke-linecap="round" />
<path d="M1304.2,566.4C1300.7,570.7 1289.9,583.3 1282.7,592.2C1275.6,601.2 1267.7,611.6 1261.2,620.2C1254.8,628.8 1247.6,638.5 1244.0,643.8C1240.5,649.2 1239.4,650.7 1239.7,652.4C1240.1,654.2 1242.3,656.0 1246.2,654.6C1250.1,653.2 1257.3,648.1 1263.4,643.8C1269.5,639.5 1279.5,631.3 1282.7,628.8" fill="none" stroke="#e0e0e0" stroke-width="1" stroke-opacity="0.8" stroke-linecap="round" />
<path d="M1347.2,570.7C1343.7,575.0 1332.9,588.7 1325.7,596.5C1318.6,604.4 1308.9,613.4 1304.2,618.0C1299.6,622.7 1297.8,623.1 1297.8,624.5C1297.8,625.9 1300.7,627.7 1304.2,626.6C1307.8,625.6 1316.8,619.5 1319.3,618.0" fill="none" stroke="#3a4448" stroke-width="3" stroke-opacity="0.9" stroke-linecap="round" />
<path d="M1347.2,570.7C1343.7,575.0 1332.9,588.7 1325.7,596.5C1318.6,604.4 1308.9,613.4 1304.2,618.0C1299.6,622.7 1297.8,623.1 1297.8,624.5C1297.8,625.9 1300.7,627.7 1304.2,626.6C1307.8,625.6 1316.8,619.5 1319.3,618.0" fill="none" stroke="#e0e0e0" stroke-width="1" stroke-opacity="0.8" stroke-linecap="round" />
<path d="M1644.6,20.0C1639.8,27.8 1625.3,51.1 1615.5,66.7C1605.7,82.3 1595.8,97.8 1585.8,113.4C1575.8,129.0 1565.8,144.5 1555.7,160.1C1545.6,175.7 1535.3,191.2 1524.9,206.8C1514.5,222.4 1504.1,237.9 1493.5,253.5C1482.9,269.1 1472.2,284.6 1461.4,300.2C1450.6,315.8 1439.7,331.2 1428.6,346.8C1417.5,362.4 1406.3,377.9 1395.0,393.5C1383.7,409.1 1372.1,424.6 1360.5,440.2C1348.9,455.8 1337.1,471.3 1325.2,486.9C1313.3,502.5 1301.2,518.0 1289.0,533.6C1276.8,549.2 1264.3,564.7 1251.7,580.3C1239.1,595.9 1219.9,619.2 1213.5,627.0" fill="none" stroke="#4a5a60" stroke-width="3.2" stroke-opacity="0.95" stroke-linecap="round" />
<path d="M1644.6,20.0C1639.8,27.8 1625.3,51.1 1615.5,66.7C1605.7,82.3 1595.8,97.8 1585.8,113.4C1575.8,129.0 1565.8,144.5 1555.7,160.1C1545.6,175.7 1535.3,191.2 1524.9,206.8C1514.5,222.4 1504.1,237.9 1493.5,253.5C1482.9,269.1 1472.2,284.6 1461.4,300.2C1450.6,315.8 1439.7,331.2 1428.6,346.8C1417.5,362.4 1406.3,377.9 1395.0,393.5C1383.7,409.1 1372.1,424.6 1360.5,440.2C1348.9,455.8 1337.1,471.3 1325.2,486.9C1313.3,502.5 1301.2,518.0 1289.0,533.6C1276.8,549.2 1264.3,564.7 1251.7,580.3C1239.1,595.9 1219.9,619.2 1213.5,627.0" fill="none" stroke="#b8c0c0" stroke-width="0.9" stroke-opacity="0.8" stroke-linecap="round" />
<path d="M1510.8,20.0C1509.0,26.9 1504.0,47.7 1499.8,61.5C1495.6,75.3 1490.9,89.1 1485.8,102.9C1480.7,116.7 1475.0,130.6 1469.1,144.4C1463.2,158.2 1456.9,172.1 1450.3,185.9C1443.7,199.7 1436.7,213.5 1429.5,227.3C1422.3,241.1 1414.8,255.0 1407.1,268.8C1399.4,282.6 1391.3,296.5 1383.1,310.3C1374.9,324.1 1366.4,337.9 1357.8,351.7C1349.2,365.5 1340.3,379.4 1331.2,393.2C1322.1,407.0 1312.8,420.9 1303.2,434.7C1293.7,448.5 1283.9,462.3 1273.9,476.1C1263.9,489.9 1253.7,503.8 1243.2,517.6C1232.7,531.4 1221.9,545.3 1210.8,559.1C1199.7,572.9 1188.4,586.7 1176.6,600.5C1164.8,614.3 1146.3,635.1 1140.2,642.0" fill="none" stroke="#4a5a60" stroke-width="2.8" stroke-opacity="0.95" stroke-linecap="round" />
<path d="M1510.8,20.0C1509.0,26.9 1504.0,47.7 1499.8,61.5C1495.6,75.3 1490.9,89.1 1485.8,102.9C1480.7,116.7 1475.0,130.6 1469.1,144.4C1463.2,158.2 1456.9,172.1 1450.3,185.9C1443.7,199.7 1436.7,213.5 1429.5,227.3C1422.3,241.1 1414.8,255.0 1407.1,268.8C1399.4,282.6 1391.3,296.5 1383.1,310.3C1374.9,324.1 1366.4,337.9 1357.8,351.7C1349.2,365.5 1340.3,379.4 1331.2,393.2C1322.1,407.0 1312.8,420.9 1303.2,434.7C1293.7,448.5 1283.9,462.3 1273.9,476.1C1263.9,489.9 1253.7,503.8 1243.2,517.6C1232.7,531.4 1221.9,545.3 1210.8,559.1C1199.7,572.9 1188.4,586.7 1176.6,600.5C1164.8,614.3 1146.3,635.1 1140.2,642.0" fill="none" stroke="#b8c0c0" stroke-width="0.9" stroke-opacity="0.8" stroke-linecap="round" />
<path d="M1666.8,18.0C1663.1,26.3 1652.2,51.1 1644.8,67.6C1637.4,84.1 1630.1,100.7 1622.6,117.2C1615.1,133.7 1607.5,150.3 1599.7,166.8C1591.9,183.3 1583.9,199.9 1575.6,216.4C1567.3,232.9 1558.9,249.5 1550.1,266.0C1541.3,282.5 1532.3,299.1 1522.9,315.6C1513.5,332.1 1503.9,348.7 1493.9,365.2C1483.9,381.7 1473.5,398.3 1462.9,414.8C1452.3,431.3 1441.4,447.9 1430.2,464.4C1419.0,480.9 1407.5,497.5 1395.8,514.0C1384.1,530.5 1372.1,547.1 1360.0,563.6C1347.9,580.1 1335.4,596.7 1323.0,613.2C1310.6,629.7 1298.0,646.3 1285.4,662.8C1272.9,679.3 1257.9,698.0 1247.7,712.4C1237.5,726.8 1229.3,740.7 1224.0,749.0C1218.7,757.3 1217.3,759.8 1216.0,762.0 L1700,762 L1700,18 Z" fill="#ffc9c9"/>
<path d="M1544.0,395.0C1533.2,405.8 1501.0,439.1 1479.5,459.5C1458.0,480.0 1432.9,500.0 1415.0,517.6C1397.1,535.2 1383.3,551.7 1372.0,564.9C1360.7,578.1 1356.7,586.3 1347.2,596.5C1337.7,606.8 1325.7,617.0 1315.0,626.6C1304.2,636.3 1293.5,645.3 1282.7,654.6C1272.0,663.9 1261.2,673.2 1250.5,682.5C1239.7,691.9 1223.6,705.8 1218.2,710.5" fill="none" stroke="#707478" stroke-width="1.2" stroke-dasharray="3 2.5 1 3" stroke-opacity="0.8"/>
<rect x="1290" y="131.6" width="103.7" height="174.1" fill="none" stroke="#fff" stroke-width="5.8"/>
<rect x="1147.8" y="355" width="112.7" height="150" fill="none" stroke="#fff" stroke-width="6"/>
<circle cx="1043.5" cy="645.6" r="4.7" fill="#fff"/>
<circle cx="1052.2" cy="634.4" r="4.7" fill="#fff"/>
<circle cx="1060.9" cy="623.2" r="4.7" fill="#fff"/>
<circle cx="1069.5" cy="612.0" r="4.7" fill="#fff"/>
<circle cx="1078.2" cy="600.7" r="4.7" fill="#fff"/>
<circle cx="1086.9" cy="589.5" r="4.7" fill="#fff"/>
<circle cx="1095.6" cy="578.3" r="4.7" fill="#fff"/>
<circle cx="1104.3" cy="567.1" r="4.7" fill="#fff"/>
<circle cx="1112.9" cy="555.4" r="4.7" fill="#fff"/>
<circle cx="1121.6" cy="543.7" r="4.7" fill="#fff"/>
<circle cx="1130.3" cy="532.0" r="4.7" fill="#fff"/>
<circle cx="1139.0" cy="520.3" r="4.7" fill="#fff"/>
<circle cx="1147.7" cy="508.6" r="4.7" fill="#fff"/>
<circle cx="1156.3" cy="496.3" r="4.7" fill="#fff"/>
<circle cx="1165.0" cy="484.1" r="4.7" fill="#fff"/>
<circle cx="1173.7" cy="471.8" r="4.7" fill="#fff"/>
<circle cx="1182.4" cy="459.6" r="4.7" fill="#fff"/>
<circle cx="1191.1" cy="447.3" r="4.7" fill="#fff"/>
<circle cx="1199.7" cy="434.7" r="4.7" fill="#fff"/>
<circle cx="1208.4" cy="422.1" r="4.7" fill="#fff"/>
<circle cx="1217.1" cy="409.5" r="4.7" fill="#fff"/>
<circle cx="1225.8" cy="396.9" r="4.7" fill="#fff"/>
<circle cx="1234.5" cy="384.3" r="4.7" fill="#fff"/>
<circle cx="1243.1" cy="370.9" r="4.7" fill="#fff"/>
<circle cx="1251.8" cy="357.5" r="4.7" fill="#fff"/>
<circle cx="1260.5" cy="344.1" r="4.7" fill="#fff"/>
<circle cx="1269.2" cy="331.2" r="6.6" fill="#fff"/>
<circle cx="1277.9" cy="318.3" r="4.7" fill="#fff"/>
<circle cx="1286.5" cy="305.8" r="4.7" fill="#fff"/>
<circle cx="1295.2" cy="291.5" r="4.7" fill="#fff"/>
<circle cx="1303.9" cy="277.6" r="4.7" fill="#fff"/>
<circle cx="1312.6" cy="263.7" r="4.7" fill="#fff"/>
<circle cx="1321.3" cy="249.8" r="4.7" fill="#fff"/>
<circle cx="1329.9" cy="235.9" r="4.7" fill="#fff"/>
<circle cx="1338.6" cy="222.0" r="4.7" fill="#fff"/>
<circle cx="1347.3" cy="208.2" r="4.7" fill="#fff"/>
<circle cx="1356.0" cy="194.4" r="4.7" fill="#fff"/>
<circle cx="1364.7" cy="180.5" r="4.7" fill="#fff"/>
<circle cx="1373.3" cy="166.7" r="4.7" fill="#fff"/>
<circle cx="1382.0" cy="152.9" r="4.7" fill="#fff"/>
<circle cx="1390.7" cy="138.5" r="4.7" fill="#fff"/>
<circle cx="1272" cy="327.5" r="4.9" fill="#ee00ee"/>
<path d="M1168.2,249.6 L1214.5,282.6" stroke="#000" stroke-width="4.6" fill="none"/>
<path d="M1248.6,309.6 L1216,266.4 L1213.3,282.2 L1197.6,289.6 Z" fill="#000"/>
</g>
<g id="left-axes">
<rect x="99.3" y="29.8" width="722.4000000000001" height="746.7" fill="none" stroke="#000" stroke-width="2.2"/>
<line x1="165.0" y1="29.8" x2="165.0" y2="19.3" stroke="#000" stroke-width="3.6"/>
<line x1="165.0" y1="776.5" x2="165.0" y2="787.0" stroke="#000" stroke-width="3.6"/>
<text class="dj" x="165.0" y="813.6" text-anchor="middle">0.20</text>
<line x1="329.2" y1="29.8" x2="329.2" y2="19.3" stroke="#000" stroke-width="3.6"/>
<line x1="329.2" y1="776.5" x2="329.2" y2="787.0" stroke="#000" stroke-width="3.6"/>
<text class="dj" x="329.2" y="813.6" text-anchor="middle">0.25</text>
<line x1="493.3" y1="29.8" x2="493.3" y2="19.3" stroke="#000" stroke-width="3.6"/>
<line x1="493.3" y1="776.5" x2="493.3" y2="787.0" stroke="#000" stroke-width="3.6"/>
<text class="dj" x="493.3" y="813.6" text-anchor="middle">0.30</text>
<line x1="657.5" y1="29.8" x2="657.5" y2="19.3" stroke="#000" stroke-width="3.6"/>
<line x1="657.5" y1="776.5" x2="657.5" y2="787.0" stroke="#000" stroke-width="3.6"/>
<text class="dj" x="657.5" y="813.6" text-anchor="middle">0.35</text>
<line x1="821.7" y1="29.8" x2="821.7" y2="19.3" stroke="#000" stroke-width="3.6"/>
<line x1="821.7" y1="776.5" x2="821.7" y2="787.0" stroke="#000" stroke-width="3.6"/>
<text class="dj" x="821.7" y="813.6" text-anchor="middle">0.40</text>
<line x1="99.3" y1="741.4" x2="88.8" y2="741.4" stroke="#000" stroke-width="3.6"/>
<line x1="821.7" y1="741.4" x2="832.2" y2="741.4" stroke="#000" stroke-width="3.6"/>
<text class="dj" x="82.8" y="751.3" text-anchor="end">1.0</text>
<line x1="99.3" y1="599.1" x2="88.8" y2="599.1" stroke="#000" stroke-width="3.6"/>
<line x1="821.7" y1="599.1" x2="832.2" y2="599.1" stroke="#000" stroke-width="3.6"/>
<text class="dj" x="82.8" y="609.0" text-anchor="end">1.2</text>
<line x1="99.3" y1="456.8" x2="88.8" y2="456.8" stroke="#000" stroke-width="3.6"/>
<line x1="821.7" y1="456.8" x2="832.2" y2="456.8" stroke="#000" stroke-width="3.6"/>
<text class="dj" x="82.8" y="466.7" text-anchor="end">1.4</text>
<line x1="99.3" y1="314.4" x2="88.8" y2="314.4" stroke="#000" stroke-width="3.6"/>
<line x1="821.7" y1="314.4" x2="832.2" y2="314.4" stroke="#000" stroke-width="3.6"/>
<text class="dj" x="82.8" y="324.3" text-anchor="end">1.6</text>
<line x1="99.3" y1="172.1" x2="88.8" y2="172.1" stroke="#000" stroke-width="3.6"/>
<line x1="821.7" y1="172.1" x2="832.2" y2="172.1" stroke="#000" stroke-width="3.6"/>
<text class="dj" x="82.8" y="182.0" text-anchor="end">1.8</text>
<line x1="99.3" y1="29.8" x2="88.8" y2="29.8" stroke="#000" stroke-width="3.6"/>
<line x1="821.7" y1="29.8" x2="832.2" y2="29.8" stroke="#000" stroke-width="3.6"/>
<text class="dj" x="82.8" y="39.7" text-anchor="end">2.0</text>
<text class="djr" x="460.8" y="851.2" text-anchor="middle">b</text>
<text class="djr" x="19" y="417" text-anchor="middle">k</text>
<text class="dj" x="132.8" y="86.8" style="font-size:30.1px;fill:#fff">(a) Experimental</text>
<rect x="99.3" y="877.2" width="722.4" height="35" fill="url(#jet)"/>
<line x1="171.5" y1="877.2" x2="171.5" y2="886" stroke="#222" stroke-width="1.1"/>
<line x1="171.5" y1="912.2" x2="171.5" y2="903" stroke="#222" stroke-width="1.1"/>
<line x1="243.8" y1="877.2" x2="243.8" y2="886" stroke="#222" stroke-width="1.1"/>
<line x1="243.8" y1="912.2" x2="243.8" y2="903" stroke="#222" stroke-width="1.1"/>
<line x1="316.0" y1="877.2" x2="316.0" y2="886" stroke="#222" stroke-width="1.1"/>
<line x1="316.0" y1="912.2" x2="316.0" y2="903" stroke="#222" stroke-width="1.1"/>
<line x1="388.3" y1="877.2" x2="388.3" y2="886" stroke="#222" stroke-width="1.1"/>
<line x1="388.3" y1="912.2" x2="388.3" y2="903" stroke="#222" stroke-width="1.1"/>
<line x1="460.5" y1="877.2" x2="460.5" y2="886" stroke="#222" stroke-width="1.1"/>
<line x1="460.5" y1="912.2" x2="460.5" y2="903" stroke="#222" stroke-width="1.1"/>
<line x1="532.7" y1="877.2" x2="532.7" y2="886" stroke="#222" stroke-width="1.1"/>
<line x1="532.7" y1="912.2" x2="532.7" y2="903" stroke="#222" stroke-width="1.1"/>
<line x1="605.0" y1="877.2" x2="605.0" y2="886" stroke="#222" stroke-width="1.1"/>
<line x1="605.0" y1="912.2" x2="605.0" y2="903" stroke="#222" stroke-width="1.1"/>
<line x1="677.2" y1="877.2" x2="677.2" y2="886" stroke="#222" stroke-width="1.1"/>
<line x1="677.2" y1="912.2" x2="677.2" y2="903" stroke="#222" stroke-width="1.1"/>
<line x1="749.5" y1="877.2" x2="749.5" y2="886" stroke="#222" stroke-width="1.1"/>
<line x1="749.5" y1="912.2" x2="749.5" y2="903" stroke="#222" stroke-width="1.1"/>
<rect x="99.3" y="877.2" width="722.4" height="35" fill="none" stroke="#000" stroke-width="2.2"/>
<text class="dj" x="99.3" y="940.5" text-anchor="middle">0.0</text>
<text class="dj" x="171.5" y="940.5" text-anchor="middle">0.1</text>
<text class="dj" x="243.8" y="940.5" text-anchor="middle">0.2</text>
<text class="dj" x="316.0" y="940.5" text-anchor="middle">0.3</text>
<text class="dj" x="388.3" y="940.5" text-anchor="middle">0.4</text>
<text class="dj" x="460.5" y="940.5" text-anchor="middle">0.5</text>
<text class="dj" x="532.7" y="940.5" text-anchor="middle">0.6</text>
<text class="dj" x="605.0" y="940.5" text-anchor="middle">0.7</text>
<text class="dj" x="677.2" y="940.5" text-anchor="middle">0.8</text>
<text class="dj" x="749.5" y="940.5" text-anchor="middle">0.9</text>
<text class="dj" x="821.7" y="940.5" text-anchor="middle">1.0</text>
</g>
<g id="right-axes">
<rect x="957.0" y="28.5" width="723.2" height="723.5" fill="none" stroke="#000" stroke-width="6"/>
<line x1="957.0" y1="28.5" x2="957.0" y2="8.5" stroke="#000" stroke-width="6"/>
<line x1="957.0" y1="752.0" x2="957.0" y2="772.0" stroke="#000" stroke-width="6"/>
<line x1="985.9" y1="28.5" x2="985.9" y2="18.5" stroke="#000" stroke-width="5.5"/>
<line x1="985.9" y1="752.0" x2="985.9" y2="762.0" stroke="#000" stroke-width="5.5"/>
<line x1="1014.9" y1="28.5" x2="1014.9" y2="18.5" stroke="#000" stroke-width="5.5"/>
<line x1="1014.9" y1="752.0" x2="1014.9" y2="762.0" stroke="#000" stroke-width="5.5"/>
<line x1="1043.8" y1="28.5" x2="1043.8" y2="18.5" stroke="#000" stroke-width="5.5"/>
<line x1="1043.8" y1="752.0" x2="1043.8" y2="762.0" stroke="#000" stroke-width="5.5"/>
<line x1="1072.7" y1="28.5" x2="1072.7" y2="18.5" stroke="#000" stroke-width="5.5"/>
<line x1="1072.7" y1="752.0" x2="1072.7" y2="762.0" stroke="#000" stroke-width="5.5"/>
<line x1="1101.6" y1="28.5" x2="1101.6" y2="8.5" stroke="#000" stroke-width="6"/>
<line x1="1101.6" y1="752.0" x2="1101.6" y2="772.0" stroke="#000" stroke-width="6"/>
<line x1="1130.6" y1="28.5" x2="1130.6" y2="18.5" stroke="#000" stroke-width="5.5"/>
<line x1="1130.6" y1="752.0" x2="1130.6" y2="762.0" stroke="#000" stroke-width="5.5"/>
<line x1="1159.5" y1="28.5" x2="1159.5" y2="18.5" stroke="#000" stroke-width="5.5"/>
<line x1="1159.5" y1="752.0" x2="1159.5" y2="762.0" stroke="#000" stroke-width="5.5"/>
<line x1="1188.4" y1="28.5" x2="1188.4" y2="18.5" stroke="#000" stroke-width="5.5"/>
<line x1="1188.4" y1="752.0" x2="1188.4" y2="762.0" stroke="#000" stroke-width="5.5"/>
<line x1="1217.4" y1="28.5" x2="1217.4" y2="18.5" stroke="#000" stroke-width="5.5"/>
<line x1="1217.4" y1="752.0" x2="1217.4" y2="762.0" stroke="#000" stroke-width="5.5"/>
<line x1="1246.3" y1="28.5" x2="1246.3" y2="8.5" stroke="#000" stroke-width="6"/>
<line x1="1246.3" y1="752.0" x2="1246.3" y2="772.0" stroke="#000" stroke-width="6"/>
<line x1="1275.2" y1="28.5" x2="1275.2" y2="18.5" stroke="#000" stroke-width="5.5"/>
<line x1="1275.2" y1="752.0" x2="1275.2" y2="762.0" stroke="#000" stroke-width="5.5"/>
<line x1="1304.1" y1="28.5" x2="1304.1" y2="18.5" stroke="#000" stroke-width="5.5"/>
<line x1="1304.1" y1="752.0" x2="1304.1" y2="762.0" stroke="#000" stroke-width="5.5"/>
<line x1="1333.1" y1="28.5" x2="1333.1" y2="18.5" stroke="#000" stroke-width="5.5"/>
<line x1="1333.1" y1="752.0" x2="1333.1" y2="762.0" stroke="#000" stroke-width="5.5"/>
<line x1="1362.0" y1="28.5" x2="1362.0" y2="18.5" stroke="#000" stroke-width="5.5"/>
<line x1="1362.0" y1="752.0" x2="1362.0" y2="762.0" stroke="#000" stroke-width="5.5"/>
<line x1="1390.9" y1="28.5" x2="1390.9" y2="8.5" stroke="#000" stroke-width="6"/>
<line x1="1390.9" y1="752.0" x2="1390.9" y2="772.0" stroke="#000" stroke-width="6"/>
<line x1="1419.8" y1="28.5" x2="1419.8" y2="18.5" stroke="#000" stroke-width="5.5"/>
<line x1="1419.8" y1="752.0" x2="1419.8" y2="762.0" stroke="#000" stroke-width="5.5"/>
<line x1="1448.8" y1="28.5" x2="1448.8" y2="18.5" stroke="#000" stroke-width="5.5"/>
<line x1="1448.8" y1="752.0" x2="1448.8" y2="762.0" stroke="#000" stroke-width="5.5"/>
<line x1="1477.7" y1="28.5" x2="1477.7" y2="18.5" stroke="#000" stroke-width="5.5"/>
<line x1="1477.7" y1="752.0" x2="1477.7" y2="762.0" stroke="#000" stroke-width="5.5"/>
<line x1="1506.6" y1="28.5" x2="1506.6" y2="18.5" stroke="#000" stroke-width="5.5"/>
<line x1="1506.6" y1="752.0" x2="1506.6" y2="762.0" stroke="#000" stroke-width="5.5"/>
<line x1="1535.6" y1="28.5" x2="1535.6" y2="8.5" stroke="#000" stroke-width="6"/>
<line x1="1535.6" y1="752.0" x2="1535.6" y2="772.0" stroke="#000" stroke-width="6"/>
<line x1="1564.5" y1="28.5" x2="1564.5" y2="18.5" stroke="#000" stroke-width="5.5"/>
<line x1="1564.5" y1="752.0" x2="1564.5" y2="762.0" stroke="#000" stroke-width="5.5"/>
<line x1="1593.4" y1="28.5" x2="1593.4" y2="18.5" stroke="#000" stroke-width="5.5"/>
<line x1="1593.4" y1="752.0" x2="1593.4" y2="762.0" stroke="#000" stroke-width="5.5"/>
<line x1="1622.3" y1="28.5" x2="1622.3" y2="18.5" stroke="#000" stroke-width="5.5"/>
<line x1="1622.3" y1="752.0" x2="1622.3" y2="762.0" stroke="#000" stroke-width="5.5"/>
<line x1="1651.3" y1="28.5" x2="1651.3" y2="18.5" stroke="#000" stroke-width="5.5"/>
<line x1="1651.3" y1="752.0" x2="1651.3" y2="762.0" stroke="#000" stroke-width="5.5"/>
<line x1="1680.2" y1="28.5" x2="1680.2" y2="8.5" stroke="#000" stroke-width="6"/>
<line x1="1680.2" y1="752.0" x2="1680.2" y2="772.0" stroke="#000" stroke-width="6"/>
<line x1="957.0" y1="28.5" x2="937.0" y2="28.5" stroke="#000" stroke-width="6"/>
<line x1="1680.2" y1="28.5" x2="1700.2" y2="28.5" stroke="#000" stroke-width="6"/>
<line x1="957.0" y1="58.6" x2="947.0" y2="58.6" stroke="#000" stroke-width="5.5"/>
<line x1="1680.2" y1="58.6" x2="1690.2" y2="58.6" stroke="#000" stroke-width="5.5"/>
<line x1="957.0" y1="88.8" x2="947.0" y2="88.8" stroke="#000" stroke-width="5.5"/>
<line x1="1680.2" y1="88.8" x2="1690.2" y2="88.8" stroke="#000" stroke-width="5.5"/>
<line x1="957.0" y1="118.9" x2="947.0" y2="118.9" stroke="#000" stroke-width="5.5"/>
<line x1="1680.2" y1="118.9" x2="1690.2" y2="118.9" stroke="#000" stroke-width="5.5"/>
<line x1="957.0" y1="149.1" x2="937.0" y2="149.1" stroke="#000" stroke-width="6"/>
<line x1="1680.2" y1="149.1" x2="1700.2" y2="149.1" stroke="#000" stroke-width="6"/>
<line x1="957.0" y1="179.2" x2="947.0" y2="179.2" stroke="#000" stroke-width="5.5"/>
<line x1="1680.2" y1="179.2" x2="1690.2" y2="179.2" stroke="#000" stroke-width="5.5"/>
<line x1="957.0" y1="209.4" x2="947.0" y2="209.4" stroke="#000" stroke-width="5.5"/>
<line x1="1680.2" y1="209.4" x2="1690.2" y2="209.4" stroke="#000" stroke-width="5.5"/>
<line x1="957.0" y1="239.5" x2="947.0" y2="239.5" stroke="#000" stroke-width="5.5"/>
<line x1="1680.2" y1="239.5" x2="1690.2" y2="239.5" stroke="#000" stroke-width="5.5"/>
<line x1="957.0" y1="269.7" x2="937.0" y2="269.7" stroke="#000" stroke-width="6"/>
<line x1="1680.2" y1="269.7" x2="1700.2" y2="269.7" stroke="#000" stroke-width="6"/>
<line x1="957.0" y1="299.8" x2="947.0" y2="299.8" stroke="#000" stroke-width="5.5"/>
<line x1="1680.2" y1="299.8" x2="1690.2" y2="299.8" stroke="#000" stroke-width="5.5"/>
<line x1="957.0" y1="330.0" x2="947.0" y2="330.0" stroke="#000" stroke-width="5.5"/>
<line x1="1680.2" y1="330.0" x2="1690.2" y2="330.0" stroke="#000" stroke-width="5.5"/>
<line x1="957.0" y1="360.1" x2="947.0" y2="360.1" stroke="#000" stroke-width="5.5"/>
<line x1="1680.2" y1="360.1" x2="1690.2" y2="360.1" stroke="#000" stroke-width="5.5"/>
<line x1="957.0" y1="390.2" x2="937.0" y2="390.2" stroke="#000" stroke-width="6"/>
<line x1="1680.2" y1="390.2" x2="1700.2" y2="390.2" stroke="#000" stroke-width="6"/>
<line x1="957.0" y1="420.4" x2="947.0" y2="420.4" stroke="#000" stroke-width="5.5"/>
<line x1="1680.2" y1="420.4" x2="1690.2" y2="420.4" stroke="#000" stroke-width="5.5"/>
<line x1="957.0" y1="450.5" x2="947.0" y2="450.5" stroke="#000" stroke-width="5.5"/>
<line x1="1680.2" y1="450.5" x2="1690.2" y2="450.5" stroke="#000" stroke-width="5.5"/>
<line x1="957.0" y1="480.7" x2="947.0" y2="480.7" stroke="#000" stroke-width="5.5"/>
<line x1="1680.2" y1="480.7" x2="1690.2" y2="480.7" stroke="#000" stroke-width="5.5"/>
<line x1="957.0" y1="510.8" x2="937.0" y2="510.8" stroke="#000" stroke-width="6"/>
<line x1="1680.2" y1="510.8" x2="1700.2" y2="510.8" stroke="#000" stroke-width="6"/>
<line x1="957.0" y1="541.0" x2="947.0" y2="541.0" stroke="#000" stroke-width="5.5"/>
<line x1="1680.2" y1="541.0" x2="1690.2" y2="541.0" stroke="#000" stroke-width="5.5"/>
<line x1="957.0" y1="571.1" x2="947.0" y2="571.1" stroke="#000" stroke-width="5.5"/>
<line x1="1680.2" y1="571.1" x2="1690.2" y2="571.1" stroke="#000" stroke-width="5.5"/>
<line x1="957.0" y1="601.3" x2="947.0" y2="601.3" stroke="#000" stroke-width="5.5"/>
<line x1="1680.2" y1="601.3" x2="1690.2" y2="601.3" stroke="#000" stroke-width="5.5"/>
<line x1="957.0" y1="631.4" x2="937.0" y2="631.4" stroke="#000" stroke-width="6"/>
<line x1="1680.2" y1="631.4" x2="1700.2" y2="631.4" stroke="#000" stroke-width="6"/>
<line x1="957.0" y1="661.6" x2="947.0" y2="661.6" stroke="#000" stroke-width="5.5"/>
<line x1="1680.2" y1="661.6" x2="1690.2" y2="661.6" stroke="#000" stroke-width="5.5"/>
<line x1="957.0" y1="691.7" x2="947.0" y2="691.7" stroke="#000" stroke-width="5.5"/>
<line x1="1680.2" y1="691.7" x2="1690.2" y2="691.7" stroke="#000" stroke-width="5.5"/>
<line x1="957.0" y1="721.9" x2="947.0" y2="721.9" stroke="#000" stroke-width="5.5"/>
<line x1="1680.2" y1="721.9" x2="1690.2" y2="721.9" stroke="#000" stroke-width="5.5"/>
<line x1="957.0" y1="752.0" x2="937.0" y2="752.0" stroke="#000" stroke-width="6"/>
<line x1="1680.2" y1="752.0" x2="1700.2" y2="752.0" stroke="#000" stroke-width="6"/>
<text class="lb" x="899.9" y="40.4" text-anchor="middle" style="font-size:35.6px">2.2</text>
<text class="lb" x="900" y="764.3" text-anchor="middle">1.0</text>
<text class="lb" x="956.7" y="812.8" text-anchor="middle">0.2</text>
<text class="lb" x="1679.7" y="812.8" text-anchor="middle">0.45</text>
<text class="lb" x="1318.9" y="812.8" text-anchor="middle">b</text>
<text class="lb" x="911.2" y="390.8" text-anchor="middle" style="font-size:33.5px">k</text>
<text class="lb" x="992.4" y="89.3" style="font-size:36px" textLength="209.5" lengthAdjust="spacingAndGlyphs">(b) Numerical</text>
<text class="lb" x="1097.3" y="275" style="font-size:36px" textLength="66.5" lengthAdjust="spacingAndGlyphs">Hub</text>
<text class="lb" x="1464.2" y="681.6" style="font-size:36px" textLength="168" lengthAdjust="spacingAndGlyphs">Divergence</text>
<rect x="957.0" y="843.4" width="361.6" height="35.3" fill="url(#gray)"/>
<rect x="1318.6" y="843.4" width="361.6" height="35.3" fill="url(#rain)"/>
<rect x="957.0" y="843.4" width="723.2" height="35.3" fill="none" stroke="#000" stroke-width="6"/>
<line x1="957.0" y1="878.7" x2="957.0" y2="899.2" stroke="#000" stroke-width="5.8"/>
<line x1="993.2" y1="878.7" x2="993.2" y2="889.2" stroke="#000" stroke-width="5.8"/>
<line x1="1029.3" y1="878.7" x2="1029.3" y2="899.2" stroke="#000" stroke-width="5.8"/>
<line x1="1065.5" y1="878.7" x2="1065.5" y2="889.2" stroke="#000" stroke-width="5.8"/>
<line x1="1101.6" y1="878.7" x2="1101.6" y2="899.2" stroke="#000" stroke-width="5.8"/>
<line x1="1137.8" y1="878.7" x2="1137.8" y2="889.2" stroke="#000" stroke-width="5.8"/>
<line x1="1174.0" y1="878.7" x2="1174.0" y2="899.2" stroke="#000" stroke-width="5.8"/>
<line x1="1210.1" y1="878.7" x2="1210.1" y2="889.2" stroke="#000" stroke-width="5.8"/>
<line x1="1246.3" y1="878.7" x2="1246.3" y2="899.2" stroke="#000" stroke-width="5.8"/>
<line x1="1282.4" y1="878.7" x2="1282.4" y2="889.2" stroke="#000" stroke-width="5.8"/>
<line x1="1318.6" y1="878.7" x2="1318.6" y2="899.2" stroke="#000" stroke-width="5.8"/>
<line x1="1354.8" y1="878.7" x2="1354.8" y2="889.2" stroke="#000" stroke-width="5.8"/>
<line x1="1390.9" y1="878.7" x2="1390.9" y2="899.2" stroke="#000" stroke-width="5.8"/>
<line x1="1427.1" y1="878.7" x2="1427.1" y2="889.2" stroke="#000" stroke-width="5.8"/>
<line x1="1463.2" y1="878.7" x2="1463.2" y2="899.2" stroke="#000" stroke-width="5.8"/>
<line x1="1499.4" y1="878.7" x2="1499.4" y2="889.2" stroke="#000" stroke-width="5.8"/>
<line x1="1535.6" y1="878.7" x2="1535.6" y2="899.2" stroke="#000" stroke-width="5.8"/>
<line x1="1571.7" y1="878.7" x2="1571.7" y2="889.2" stroke="#000" stroke-width="5.8"/>
<line x1="1607.9" y1="878.7" x2="1607.9" y2="899.2" stroke="#000" stroke-width="5.8"/>
<line x1="1644.0" y1="878.7" x2="1644.0" y2="889.2" stroke="#000" stroke-width="5.8"/>
<line x1="1680.2" y1="878.7" x2="1680.2" y2="899.2" stroke="#000" stroke-width="5.8"/>
<text class="lb2" x="925.8" y="939.7" textLength="62" lengthAdjust="spacingAndGlyphs">-0.22</text>
<text class="lb2" x="1318.5" y="939.7" text-anchor="middle">0</text>
<text class="lb2" x="1646.3" y="939.7" textLength="67.5" lengthAdjust="spacingAndGlyphs">0.243</text>
</g>
</svg>
</body></html>
